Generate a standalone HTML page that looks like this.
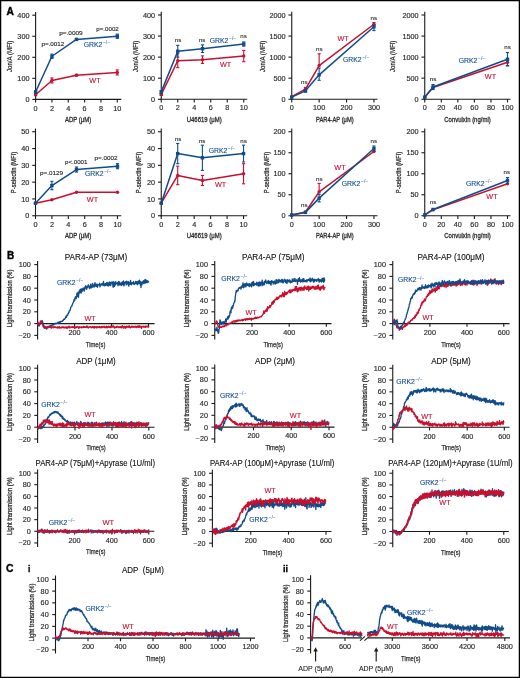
<!DOCTYPE html>
<html><head><meta charset="utf-8"><style>
html,body{margin:0;padding:0;background:#fff;}
svg{display:block;}
text{font-family:"Liberation Sans", sans-serif;}
</style></head><body>
<svg width="520" height="678" viewBox="0 0 520 678" style="will-change:transform">
<rect x="0" y="0" width="520" height="678" fill="#fff"/>
<line x1="35.6" y1="12" x2="35.6" y2="99.9" stroke="#1a1a1a" stroke-width="1.1"/>
<line x1="35.1" y1="99.4" x2="121.3" y2="99.4" stroke="#1a1a1a" stroke-width="1.1"/>
<line x1="32.3" y1="99.4" x2="35.6" y2="99.4" stroke="#1a1a1a" stroke-width="1.1"/>
<text x="29.5" y="102" font-size="6.4" fill="#2b2b2b" stroke="#2b2b2b" stroke-width="0.15" text-anchor="end" textLength="4.05" lengthAdjust="spacingAndGlyphs">0</text>
<line x1="32.3" y1="78.35" x2="35.6" y2="78.35" stroke="#1a1a1a" stroke-width="1.1"/>
<text x="29.5" y="80.95" font-size="6.4" fill="#2b2b2b" stroke="#2b2b2b" stroke-width="0.15" text-anchor="end" textLength="12.15" lengthAdjust="spacingAndGlyphs">100</text>
<line x1="32.3" y1="57.3" x2="35.6" y2="57.3" stroke="#1a1a1a" stroke-width="1.1"/>
<text x="29.5" y="59.9" font-size="6.4" fill="#2b2b2b" stroke="#2b2b2b" stroke-width="0.15" text-anchor="end" textLength="12.15" lengthAdjust="spacingAndGlyphs">200</text>
<line x1="32.3" y1="36.25" x2="35.6" y2="36.25" stroke="#1a1a1a" stroke-width="1.1"/>
<text x="29.5" y="38.85" font-size="6.4" fill="#2b2b2b" stroke="#2b2b2b" stroke-width="0.15" text-anchor="end" textLength="12.15" lengthAdjust="spacingAndGlyphs">300</text>
<line x1="32.3" y1="15.2" x2="35.6" y2="15.2" stroke="#1a1a1a" stroke-width="1.1"/>
<text x="29.5" y="17.8" font-size="6.4" fill="#2b2b2b" stroke="#2b2b2b" stroke-width="0.15" text-anchor="end" textLength="12.15" lengthAdjust="spacingAndGlyphs">400</text>
<line x1="35.6" y1="99.4" x2="35.6" y2="102.6" stroke="#1a1a1a" stroke-width="1.1"/>
<text x="35.6" y="110.6" font-size="6.4" fill="#2b2b2b" stroke="#2b2b2b" stroke-width="0.15" text-anchor="middle" textLength="4.05" lengthAdjust="spacingAndGlyphs">0</text>
<line x1="51.94" y1="99.4" x2="51.94" y2="102.6" stroke="#1a1a1a" stroke-width="1.1"/>
<text x="51.94" y="110.6" font-size="6.4" fill="#2b2b2b" stroke="#2b2b2b" stroke-width="0.15" text-anchor="middle" textLength="4.05" lengthAdjust="spacingAndGlyphs">2</text>
<line x1="68.28" y1="99.4" x2="68.28" y2="102.6" stroke="#1a1a1a" stroke-width="1.1"/>
<text x="68.28" y="110.6" font-size="6.4" fill="#2b2b2b" stroke="#2b2b2b" stroke-width="0.15" text-anchor="middle" textLength="4.05" lengthAdjust="spacingAndGlyphs">4</text>
<line x1="84.62" y1="99.4" x2="84.62" y2="102.6" stroke="#1a1a1a" stroke-width="1.1"/>
<text x="84.62" y="110.6" font-size="6.4" fill="#2b2b2b" stroke="#2b2b2b" stroke-width="0.15" text-anchor="middle" textLength="4.05" lengthAdjust="spacingAndGlyphs">6</text>
<line x1="100.96" y1="99.4" x2="100.96" y2="102.6" stroke="#1a1a1a" stroke-width="1.1"/>
<text x="100.96" y="110.6" font-size="6.4" fill="#2b2b2b" stroke="#2b2b2b" stroke-width="0.15" text-anchor="middle" textLength="4.05" lengthAdjust="spacingAndGlyphs">8</text>
<line x1="117.3" y1="99.4" x2="117.3" y2="102.6" stroke="#1a1a1a" stroke-width="1.1"/>
<text x="117.3" y="110.6" font-size="6.4" fill="#2b2b2b" stroke="#2b2b2b" stroke-width="0.15" text-anchor="middle" textLength="8.1" lengthAdjust="spacingAndGlyphs">10</text>
<text x="11.8" y="56.3" font-size="7.4" fill="#2b2b2b" text-anchor="middle" textLength="31.3" lengthAdjust="spacingAndGlyphs" transform="rotate(-90 11.8 56.3)" stroke="#2b2b2b" stroke-width="0.25">Jon/A (MFI)</text>
<text x="78.1" y="121.7" font-size="7.4" fill="#2b2b2b" text-anchor="middle" textLength="26.4" lengthAdjust="spacingAndGlyphs" stroke="#2b2b2b" stroke-width="0.3">ADP (&#956;M)</text>
<polyline points="35.6,94.77 51.94,80.46 76.45,75.19 117.3,72.46" fill="none" stroke="#c8102e" stroke-width="1.5" stroke-linejoin="round"/>
<line x1="35.6" y1="93.93" x2="35.6" y2="95.61" stroke="#c8102e" stroke-width="1.1"/>
<line x1="34" y1="93.93" x2="37.2" y2="93.93" stroke="#c8102e" stroke-width="1.1"/>
<line x1="34" y1="95.61" x2="37.2" y2="95.61" stroke="#c8102e" stroke-width="1.1"/>
<circle cx="35.6" cy="94.77" r="1.7" fill="#c8102e"/>
<line x1="51.94" y1="77.93" x2="51.94" y2="82.98" stroke="#c8102e" stroke-width="1.1"/>
<line x1="50.34" y1="77.93" x2="53.54" y2="77.93" stroke="#c8102e" stroke-width="1.1"/>
<line x1="50.34" y1="82.98" x2="53.54" y2="82.98" stroke="#c8102e" stroke-width="1.1"/>
<circle cx="51.94" cy="80.46" r="1.7" fill="#c8102e"/>
<line x1="76.45" y1="74.35" x2="76.45" y2="76.03" stroke="#c8102e" stroke-width="1.1"/>
<line x1="74.85" y1="74.35" x2="78.05" y2="74.35" stroke="#c8102e" stroke-width="1.1"/>
<line x1="74.85" y1="76.03" x2="78.05" y2="76.03" stroke="#c8102e" stroke-width="1.1"/>
<circle cx="76.45" cy="75.19" r="1.7" fill="#c8102e"/>
<line x1="117.3" y1="69.93" x2="117.3" y2="74.98" stroke="#c8102e" stroke-width="1.1"/>
<line x1="115.7" y1="69.93" x2="118.9" y2="69.93" stroke="#c8102e" stroke-width="1.1"/>
<line x1="115.7" y1="74.98" x2="118.9" y2="74.98" stroke="#c8102e" stroke-width="1.1"/>
<circle cx="117.3" cy="72.46" r="1.7" fill="#c8102e"/>
<polyline points="35.6,92.03 51.94,56.25 76.45,39.41 117.3,36.25" fill="none" stroke="#0f4c8c" stroke-width="1.5" stroke-linejoin="round"/>
<line x1="35.6" y1="90.77" x2="35.6" y2="93.3" stroke="#0f4c8c" stroke-width="1.1"/>
<line x1="34" y1="90.77" x2="37.2" y2="90.77" stroke="#0f4c8c" stroke-width="1.1"/>
<line x1="34" y1="93.3" x2="37.2" y2="93.3" stroke="#0f4c8c" stroke-width="1.1"/>
<rect x="33.9" y="90.33" width="3.4" height="3.4" fill="#0f4c8c"/>
<line x1="51.94" y1="54.14" x2="51.94" y2="58.35" stroke="#0f4c8c" stroke-width="1.1"/>
<line x1="50.34" y1="54.14" x2="53.54" y2="54.14" stroke="#0f4c8c" stroke-width="1.1"/>
<line x1="50.34" y1="58.35" x2="53.54" y2="58.35" stroke="#0f4c8c" stroke-width="1.1"/>
<rect x="50.24" y="54.55" width="3.4" height="3.4" fill="#0f4c8c"/>
<line x1="76.45" y1="38.57" x2="76.45" y2="40.25" stroke="#0f4c8c" stroke-width="1.1"/>
<line x1="74.85" y1="38.57" x2="78.05" y2="38.57" stroke="#0f4c8c" stroke-width="1.1"/>
<line x1="74.85" y1="40.25" x2="78.05" y2="40.25" stroke="#0f4c8c" stroke-width="1.1"/>
<rect x="74.75" y="37.71" width="3.4" height="3.4" fill="#0f4c8c"/>
<line x1="117.3" y1="34.15" x2="117.3" y2="38.36" stroke="#0f4c8c" stroke-width="1.1"/>
<line x1="115.7" y1="34.15" x2="118.9" y2="34.15" stroke="#0f4c8c" stroke-width="1.1"/>
<line x1="115.7" y1="38.36" x2="118.9" y2="38.36" stroke="#0f4c8c" stroke-width="1.1"/>
<rect x="115.6" y="34.55" width="3.4" height="3.4" fill="#0f4c8c"/>
<text x="41.4" y="46.1" font-size="5.9" fill="#222" textLength="23" lengthAdjust="spacingAndGlyphs" stroke="#222" stroke-width="0.12">p=.0012</text>
<text x="59.2" y="34.6" font-size="5.9" fill="#222" textLength="23.5" lengthAdjust="spacingAndGlyphs" stroke="#222" stroke-width="0.12">p=.0009</text>
<text x="96.3" y="30.8" font-size="5.9" fill="#222" textLength="22.5" lengthAdjust="spacingAndGlyphs" stroke="#222" stroke-width="0.12">p=.0002</text>
<text x="83.7" y="47.3" font-size="7" fill="#0f4c8c" stroke="#0f4c8c" stroke-width="0.12" textLength="18.6" lengthAdjust="spacingAndGlyphs">GRK2</text>
<text x="103" y="44.4" font-size="4.6" fill="#0f4c8c" textLength="7" lengthAdjust="spacingAndGlyphs">&#8722;/&#8722;</text>
<text x="89.3" y="82.9" font-size="7.2" fill="#c8102e" textLength="11.3" lengthAdjust="spacingAndGlyphs" stroke="#c8102e" stroke-width="0.12">WT</text>
<line x1="161.25" y1="11.8" x2="161.25" y2="99.75" stroke="#1a1a1a" stroke-width="1.1"/>
<line x1="160.75" y1="99.25" x2="247.2" y2="99.25" stroke="#1a1a1a" stroke-width="1.1"/>
<line x1="157.95" y1="99.25" x2="161.25" y2="99.25" stroke="#1a1a1a" stroke-width="1.1"/>
<text x="155.15" y="101.85" font-size="6.4" fill="#2b2b2b" stroke="#2b2b2b" stroke-width="0.15" text-anchor="end" textLength="4.05" lengthAdjust="spacingAndGlyphs">0</text>
<line x1="157.95" y1="78.19" x2="161.25" y2="78.19" stroke="#1a1a1a" stroke-width="1.1"/>
<text x="155.15" y="80.79" font-size="6.4" fill="#2b2b2b" stroke="#2b2b2b" stroke-width="0.15" text-anchor="end" textLength="12.15" lengthAdjust="spacingAndGlyphs">100</text>
<line x1="157.95" y1="57.12" x2="161.25" y2="57.12" stroke="#1a1a1a" stroke-width="1.1"/>
<text x="155.15" y="59.73" font-size="6.4" fill="#2b2b2b" stroke="#2b2b2b" stroke-width="0.15" text-anchor="end" textLength="12.15" lengthAdjust="spacingAndGlyphs">200</text>
<line x1="157.95" y1="36.06" x2="161.25" y2="36.06" stroke="#1a1a1a" stroke-width="1.1"/>
<text x="155.15" y="38.66" font-size="6.4" fill="#2b2b2b" stroke="#2b2b2b" stroke-width="0.15" text-anchor="end" textLength="12.15" lengthAdjust="spacingAndGlyphs">300</text>
<line x1="157.95" y1="15" x2="161.25" y2="15" stroke="#1a1a1a" stroke-width="1.1"/>
<text x="155.15" y="17.6" font-size="6.4" fill="#2b2b2b" stroke="#2b2b2b" stroke-width="0.15" text-anchor="end" textLength="12.15" lengthAdjust="spacingAndGlyphs">400</text>
<line x1="161.25" y1="99.25" x2="161.25" y2="102.45" stroke="#1a1a1a" stroke-width="1.1"/>
<text x="161.25" y="110.45" font-size="6.4" fill="#2b2b2b" stroke="#2b2b2b" stroke-width="0.15" text-anchor="middle" textLength="4.05" lengthAdjust="spacingAndGlyphs">0</text>
<line x1="177.75" y1="99.25" x2="177.75" y2="102.45" stroke="#1a1a1a" stroke-width="1.1"/>
<text x="177.75" y="110.45" font-size="6.4" fill="#2b2b2b" stroke="#2b2b2b" stroke-width="0.15" text-anchor="middle" textLength="4.05" lengthAdjust="spacingAndGlyphs">2</text>
<line x1="194.25" y1="99.25" x2="194.25" y2="102.45" stroke="#1a1a1a" stroke-width="1.1"/>
<text x="194.25" y="110.45" font-size="6.4" fill="#2b2b2b" stroke="#2b2b2b" stroke-width="0.15" text-anchor="middle" textLength="4.05" lengthAdjust="spacingAndGlyphs">4</text>
<line x1="210.75" y1="99.25" x2="210.75" y2="102.45" stroke="#1a1a1a" stroke-width="1.1"/>
<text x="210.75" y="110.45" font-size="6.4" fill="#2b2b2b" stroke="#2b2b2b" stroke-width="0.15" text-anchor="middle" textLength="4.05" lengthAdjust="spacingAndGlyphs">6</text>
<line x1="227.25" y1="99.25" x2="227.25" y2="102.45" stroke="#1a1a1a" stroke-width="1.1"/>
<text x="227.25" y="110.45" font-size="6.4" fill="#2b2b2b" stroke="#2b2b2b" stroke-width="0.15" text-anchor="middle" textLength="4.05" lengthAdjust="spacingAndGlyphs">8</text>
<line x1="243.75" y1="99.25" x2="243.75" y2="102.45" stroke="#1a1a1a" stroke-width="1.1"/>
<text x="243.75" y="110.45" font-size="6.4" fill="#2b2b2b" stroke="#2b2b2b" stroke-width="0.15" text-anchor="middle" textLength="8.1" lengthAdjust="spacingAndGlyphs">10</text>
<text x="138.2" y="56.3" font-size="7.4" fill="#2b2b2b" text-anchor="middle" textLength="31.3" lengthAdjust="spacingAndGlyphs" transform="rotate(-90 138.2 56.3)" stroke="#2b2b2b" stroke-width="0.25">Jon/A (MFI)</text>
<text x="204.25" y="121.55" font-size="7.4" fill="#2b2b2b" text-anchor="middle" textLength="35.1" lengthAdjust="spacingAndGlyphs" stroke="#2b2b2b" stroke-width="0.3">U46619 (&#956;M)</text>
<polyline points="161.25,94.62 177.75,60.71 202.5,59.65 243.75,56.07" fill="none" stroke="#c8102e" stroke-width="1.5" stroke-linejoin="round"/>
<line x1="161.25" y1="93.77" x2="161.25" y2="95.46" stroke="#c8102e" stroke-width="1.1"/>
<line x1="159.65" y1="93.77" x2="162.85" y2="93.77" stroke="#c8102e" stroke-width="1.1"/>
<line x1="159.65" y1="95.46" x2="162.85" y2="95.46" stroke="#c8102e" stroke-width="1.1"/>
<circle cx="161.25" cy="94.62" r="1.7" fill="#c8102e"/>
<line x1="177.75" y1="53.76" x2="177.75" y2="67.66" stroke="#c8102e" stroke-width="1.1"/>
<line x1="176.15" y1="53.76" x2="179.35" y2="53.76" stroke="#c8102e" stroke-width="1.1"/>
<line x1="176.15" y1="67.66" x2="179.35" y2="67.66" stroke="#c8102e" stroke-width="1.1"/>
<circle cx="177.75" cy="60.71" r="1.7" fill="#c8102e"/>
<line x1="202.5" y1="55.86" x2="202.5" y2="63.44" stroke="#c8102e" stroke-width="1.1"/>
<line x1="200.9" y1="55.86" x2="204.1" y2="55.86" stroke="#c8102e" stroke-width="1.1"/>
<line x1="200.9" y1="63.44" x2="204.1" y2="63.44" stroke="#c8102e" stroke-width="1.1"/>
<circle cx="202.5" cy="59.65" r="1.7" fill="#c8102e"/>
<line x1="243.75" y1="50.38" x2="243.75" y2="61.76" stroke="#c8102e" stroke-width="1.1"/>
<line x1="242.15" y1="50.38" x2="245.35" y2="50.38" stroke="#c8102e" stroke-width="1.1"/>
<line x1="242.15" y1="61.76" x2="245.35" y2="61.76" stroke="#c8102e" stroke-width="1.1"/>
<circle cx="243.75" cy="56.07" r="1.7" fill="#c8102e"/>
<polyline points="161.25,91.88 177.75,51.23 202.5,48.7 243.75,44.07" fill="none" stroke="#0f4c8c" stroke-width="1.5" stroke-linejoin="round"/>
<line x1="161.25" y1="90.61" x2="161.25" y2="93.14" stroke="#0f4c8c" stroke-width="1.1"/>
<line x1="159.65" y1="90.61" x2="162.85" y2="90.61" stroke="#0f4c8c" stroke-width="1.1"/>
<line x1="159.65" y1="93.14" x2="162.85" y2="93.14" stroke="#0f4c8c" stroke-width="1.1"/>
<rect x="159.55" y="90.18" width="3.4" height="3.4" fill="#0f4c8c"/>
<line x1="177.75" y1="45.33" x2="177.75" y2="57.12" stroke="#0f4c8c" stroke-width="1.1"/>
<line x1="176.15" y1="45.33" x2="179.35" y2="45.33" stroke="#0f4c8c" stroke-width="1.1"/>
<line x1="176.15" y1="57.12" x2="179.35" y2="57.12" stroke="#0f4c8c" stroke-width="1.1"/>
<rect x="176.05" y="49.53" width="3.4" height="3.4" fill="#0f4c8c"/>
<line x1="202.5" y1="44.91" x2="202.5" y2="52.49" stroke="#0f4c8c" stroke-width="1.1"/>
<line x1="200.9" y1="44.91" x2="204.1" y2="44.91" stroke="#0f4c8c" stroke-width="1.1"/>
<line x1="200.9" y1="52.49" x2="204.1" y2="52.49" stroke="#0f4c8c" stroke-width="1.1"/>
<rect x="200.8" y="47" width="3.4" height="3.4" fill="#0f4c8c"/>
<line x1="243.75" y1="41.96" x2="243.75" y2="46.17" stroke="#0f4c8c" stroke-width="1.1"/>
<line x1="242.15" y1="41.96" x2="245.35" y2="41.96" stroke="#0f4c8c" stroke-width="1.1"/>
<line x1="242.15" y1="46.17" x2="245.35" y2="46.17" stroke="#0f4c8c" stroke-width="1.1"/>
<rect x="242.05" y="42.37" width="3.4" height="3.4" fill="#0f4c8c"/>
<text x="178" y="41.8" font-size="6.2" fill="#222" text-anchor="middle" textLength="6.5" lengthAdjust="spacingAndGlyphs" stroke="#222" stroke-width="0.1">ns</text>
<text x="202.2" y="41.8" font-size="6.2" fill="#222" text-anchor="middle" textLength="6.5" lengthAdjust="spacingAndGlyphs" stroke="#222" stroke-width="0.1">ns</text>
<text x="243.6" y="38.2" font-size="6.2" fill="#222" text-anchor="middle" textLength="6.5" lengthAdjust="spacingAndGlyphs" stroke="#222" stroke-width="0.1">ns</text>
<text x="209.8" y="42.5" font-size="7" fill="#0f4c8c" stroke="#0f4c8c" stroke-width="0.12" textLength="18.6" lengthAdjust="spacingAndGlyphs">GRK2</text>
<text x="229.1" y="39.6" font-size="4.6" fill="#0f4c8c" textLength="7" lengthAdjust="spacingAndGlyphs">&#8722;/&#8722;</text>
<text x="220" y="66.8" font-size="7.2" fill="#c8102e" textLength="11.3" lengthAdjust="spacingAndGlyphs" stroke="#c8102e" stroke-width="0.12">WT</text>
<line x1="291.75" y1="11.8" x2="291.75" y2="99.75" stroke="#1a1a1a" stroke-width="1.1"/>
<line x1="291.25" y1="99.25" x2="377.5" y2="99.25" stroke="#1a1a1a" stroke-width="1.1"/>
<line x1="288.45" y1="99.25" x2="291.75" y2="99.25" stroke="#1a1a1a" stroke-width="1.1"/>
<text x="285.65" y="101.85" font-size="6.4" fill="#2b2b2b" stroke="#2b2b2b" stroke-width="0.15" text-anchor="end" textLength="4.05" lengthAdjust="spacingAndGlyphs">0</text>
<line x1="288.45" y1="78.19" x2="291.75" y2="78.19" stroke="#1a1a1a" stroke-width="1.1"/>
<text x="285.65" y="80.79" font-size="6.4" fill="#2b2b2b" stroke="#2b2b2b" stroke-width="0.15" text-anchor="end" textLength="12.15" lengthAdjust="spacingAndGlyphs">500</text>
<line x1="288.45" y1="57.12" x2="291.75" y2="57.12" stroke="#1a1a1a" stroke-width="1.1"/>
<text x="285.65" y="59.73" font-size="6.4" fill="#2b2b2b" stroke="#2b2b2b" stroke-width="0.15" text-anchor="end" textLength="16.2" lengthAdjust="spacingAndGlyphs">1000</text>
<line x1="288.45" y1="36.06" x2="291.75" y2="36.06" stroke="#1a1a1a" stroke-width="1.1"/>
<text x="285.65" y="38.66" font-size="6.4" fill="#2b2b2b" stroke="#2b2b2b" stroke-width="0.15" text-anchor="end" textLength="16.2" lengthAdjust="spacingAndGlyphs">1500</text>
<line x1="288.45" y1="15" x2="291.75" y2="15" stroke="#1a1a1a" stroke-width="1.1"/>
<text x="285.65" y="17.6" font-size="6.4" fill="#2b2b2b" stroke="#2b2b2b" stroke-width="0.15" text-anchor="end" textLength="16.2" lengthAdjust="spacingAndGlyphs">2000</text>
<line x1="291.75" y1="99.25" x2="291.75" y2="102.45" stroke="#1a1a1a" stroke-width="1.1"/>
<text x="291.75" y="110.45" font-size="6.4" fill="#2b2b2b" stroke="#2b2b2b" stroke-width="0.15" text-anchor="middle" textLength="4.05" lengthAdjust="spacingAndGlyphs">0</text>
<line x1="319.15" y1="99.25" x2="319.15" y2="102.45" stroke="#1a1a1a" stroke-width="1.1"/>
<text x="319.15" y="110.45" font-size="6.4" fill="#2b2b2b" stroke="#2b2b2b" stroke-width="0.15" text-anchor="middle" textLength="12.15" lengthAdjust="spacingAndGlyphs">100</text>
<line x1="346.55" y1="99.25" x2="346.55" y2="102.45" stroke="#1a1a1a" stroke-width="1.1"/>
<text x="346.55" y="110.45" font-size="6.4" fill="#2b2b2b" stroke="#2b2b2b" stroke-width="0.15" text-anchor="middle" textLength="12.15" lengthAdjust="spacingAndGlyphs">200</text>
<line x1="373.95" y1="99.25" x2="373.95" y2="102.45" stroke="#1a1a1a" stroke-width="1.1"/>
<text x="373.95" y="110.45" font-size="6.4" fill="#2b2b2b" stroke="#2b2b2b" stroke-width="0.15" text-anchor="middle" textLength="12.15" lengthAdjust="spacingAndGlyphs">300</text>
<text x="264.6" y="56.3" font-size="7.4" fill="#2b2b2b" text-anchor="middle" textLength="31.3" lengthAdjust="spacingAndGlyphs" transform="rotate(-90 264.6 56.3)" stroke="#2b2b2b" stroke-width="0.25">Jon/A (MFI)</text>
<text x="334.8" y="121.55" font-size="7.4" fill="#2b2b2b" text-anchor="middle" textLength="37.6" lengthAdjust="spacingAndGlyphs" stroke="#2b2b2b" stroke-width="0.3">PAR4-AP (&#956;M)</text>
<polyline points="291.75,96.72 305.45,89.14 319.15,65.55 373.95,24.27" fill="none" stroke="#c8102e" stroke-width="1.5" stroke-linejoin="round"/>
<circle cx="291.75" cy="96.72" r="1.7" fill="#c8102e"/>
<line x1="305.45" y1="87.45" x2="305.45" y2="90.83" stroke="#c8102e" stroke-width="1.1"/>
<line x1="303.85" y1="87.45" x2="307.05" y2="87.45" stroke="#c8102e" stroke-width="1.1"/>
<line x1="303.85" y1="90.83" x2="307.05" y2="90.83" stroke="#c8102e" stroke-width="1.1"/>
<circle cx="305.45" cy="89.14" r="1.7" fill="#c8102e"/>
<line x1="319.15" y1="53.76" x2="319.15" y2="65.55" stroke="#c8102e" stroke-width="1.1"/>
<line x1="317.55" y1="53.76" x2="320.75" y2="53.76" stroke="#c8102e" stroke-width="1.1"/>
<circle cx="319.15" cy="65.55" r="1.7" fill="#c8102e"/>
<line x1="373.95" y1="22.58" x2="373.95" y2="24.27" stroke="#c8102e" stroke-width="1.1"/>
<line x1="372.35" y1="22.58" x2="375.55" y2="22.58" stroke="#c8102e" stroke-width="1.1"/>
<circle cx="373.95" cy="24.27" r="1.7" fill="#c8102e"/>
<polyline points="291.75,97.14 305.45,90.83 319.15,74.82 373.95,26.8" fill="none" stroke="#0f4c8c" stroke-width="1.5" stroke-linejoin="round"/>
<rect x="290.05" y="95.44" width="3.4" height="3.4" fill="#0f4c8c"/>
<line x1="305.45" y1="89.56" x2="305.45" y2="92.09" stroke="#0f4c8c" stroke-width="1.1"/>
<line x1="303.85" y1="89.56" x2="307.05" y2="89.56" stroke="#0f4c8c" stroke-width="1.1"/>
<line x1="303.85" y1="92.09" x2="307.05" y2="92.09" stroke="#0f4c8c" stroke-width="1.1"/>
<rect x="303.75" y="89.12" width="3.4" height="3.4" fill="#0f4c8c"/>
<line x1="319.15" y1="68.08" x2="319.15" y2="80.29" stroke="#0f4c8c" stroke-width="1.1"/>
<line x1="317.55" y1="68.08" x2="320.75" y2="68.08" stroke="#0f4c8c" stroke-width="1.1"/>
<line x1="317.55" y1="80.29" x2="320.75" y2="80.29" stroke="#0f4c8c" stroke-width="1.1"/>
<rect x="317.45" y="73.12" width="3.4" height="3.4" fill="#0f4c8c"/>
<line x1="373.95" y1="25.11" x2="373.95" y2="30.59" stroke="#0f4c8c" stroke-width="1.1"/>
<line x1="372.35" y1="25.11" x2="375.55" y2="25.11" stroke="#0f4c8c" stroke-width="1.1"/>
<line x1="372.35" y1="30.59" x2="375.55" y2="30.59" stroke="#0f4c8c" stroke-width="1.1"/>
<rect x="372.25" y="25.1" width="3.4" height="3.4" fill="#0f4c8c"/>
<text x="304.3" y="84.3" font-size="6.2" fill="#222" text-anchor="middle" textLength="6.5" lengthAdjust="spacingAndGlyphs" stroke="#222" stroke-width="0.1">ns</text>
<text x="319.3" y="51.3" font-size="6.2" fill="#222" text-anchor="middle" textLength="6.5" lengthAdjust="spacingAndGlyphs" stroke="#222" stroke-width="0.1">ns</text>
<text x="373.8" y="19.8" font-size="6.2" fill="#222" text-anchor="middle" textLength="6.5" lengthAdjust="spacingAndGlyphs" stroke="#222" stroke-width="0.1">ns</text>
<text x="337.5" y="40.6" font-size="7.2" fill="#c8102e" textLength="11.3" lengthAdjust="spacingAndGlyphs" stroke="#c8102e" stroke-width="0.12">WT</text>
<text x="343" y="62.2" font-size="7" fill="#0f4c8c" stroke="#0f4c8c" stroke-width="0.12" textLength="18.6" lengthAdjust="spacingAndGlyphs">GRK2</text>
<text x="362.3" y="59.3" font-size="4.6" fill="#0f4c8c" textLength="7" lengthAdjust="spacingAndGlyphs">&#8722;/&#8722;</text>
<line x1="424.75" y1="11.8" x2="424.75" y2="99.75" stroke="#1a1a1a" stroke-width="1.1"/>
<line x1="424.25" y1="99.25" x2="510.5" y2="99.25" stroke="#1a1a1a" stroke-width="1.1"/>
<line x1="421.45" y1="99.25" x2="424.75" y2="99.25" stroke="#1a1a1a" stroke-width="1.1"/>
<text x="418.65" y="101.85" font-size="6.4" fill="#2b2b2b" stroke="#2b2b2b" stroke-width="0.15" text-anchor="end" textLength="4.05" lengthAdjust="spacingAndGlyphs">0</text>
<line x1="421.45" y1="78.19" x2="424.75" y2="78.19" stroke="#1a1a1a" stroke-width="1.1"/>
<text x="418.65" y="80.79" font-size="6.4" fill="#2b2b2b" stroke="#2b2b2b" stroke-width="0.15" text-anchor="end" textLength="12.15" lengthAdjust="spacingAndGlyphs">500</text>
<line x1="421.45" y1="57.12" x2="424.75" y2="57.12" stroke="#1a1a1a" stroke-width="1.1"/>
<text x="418.65" y="59.73" font-size="6.4" fill="#2b2b2b" stroke="#2b2b2b" stroke-width="0.15" text-anchor="end" textLength="16.2" lengthAdjust="spacingAndGlyphs">1000</text>
<line x1="421.45" y1="36.06" x2="424.75" y2="36.06" stroke="#1a1a1a" stroke-width="1.1"/>
<text x="418.65" y="38.66" font-size="6.4" fill="#2b2b2b" stroke="#2b2b2b" stroke-width="0.15" text-anchor="end" textLength="16.2" lengthAdjust="spacingAndGlyphs">1500</text>
<line x1="421.45" y1="15" x2="424.75" y2="15" stroke="#1a1a1a" stroke-width="1.1"/>
<text x="418.65" y="17.6" font-size="6.4" fill="#2b2b2b" stroke="#2b2b2b" stroke-width="0.15" text-anchor="end" textLength="16.2" lengthAdjust="spacingAndGlyphs">2000</text>
<line x1="424.75" y1="99.25" x2="424.75" y2="102.45" stroke="#1a1a1a" stroke-width="1.1"/>
<text x="424.75" y="110.45" font-size="6.4" fill="#2b2b2b" stroke="#2b2b2b" stroke-width="0.15" text-anchor="middle" textLength="4.05" lengthAdjust="spacingAndGlyphs">0</text>
<line x1="441.3" y1="99.25" x2="441.3" y2="102.45" stroke="#1a1a1a" stroke-width="1.1"/>
<text x="441.3" y="110.45" font-size="6.4" fill="#2b2b2b" stroke="#2b2b2b" stroke-width="0.15" text-anchor="middle" textLength="8.1" lengthAdjust="spacingAndGlyphs">20</text>
<line x1="457.85" y1="99.25" x2="457.85" y2="102.45" stroke="#1a1a1a" stroke-width="1.1"/>
<text x="457.85" y="110.45" font-size="6.4" fill="#2b2b2b" stroke="#2b2b2b" stroke-width="0.15" text-anchor="middle" textLength="8.1" lengthAdjust="spacingAndGlyphs">40</text>
<line x1="474.4" y1="99.25" x2="474.4" y2="102.45" stroke="#1a1a1a" stroke-width="1.1"/>
<text x="474.4" y="110.45" font-size="6.4" fill="#2b2b2b" stroke="#2b2b2b" stroke-width="0.15" text-anchor="middle" textLength="8.1" lengthAdjust="spacingAndGlyphs">60</text>
<line x1="490.95" y1="99.25" x2="490.95" y2="102.45" stroke="#1a1a1a" stroke-width="1.1"/>
<text x="490.95" y="110.45" font-size="6.4" fill="#2b2b2b" stroke="#2b2b2b" stroke-width="0.15" text-anchor="middle" textLength="8.1" lengthAdjust="spacingAndGlyphs">80</text>
<line x1="507.5" y1="99.25" x2="507.5" y2="102.45" stroke="#1a1a1a" stroke-width="1.1"/>
<text x="507.5" y="110.45" font-size="6.4" fill="#2b2b2b" stroke="#2b2b2b" stroke-width="0.15" text-anchor="middle" textLength="12.15" lengthAdjust="spacingAndGlyphs">100</text>
<text x="394.9" y="56.3" font-size="7.4" fill="#2b2b2b" text-anchor="middle" textLength="31.3" lengthAdjust="spacingAndGlyphs" transform="rotate(-90 394.9 56.3)" stroke="#2b2b2b" stroke-width="0.25">Jon/A (MFI)</text>
<text x="467.5" y="121.55" font-size="7.4" fill="#2b2b2b" text-anchor="middle" textLength="46.4" lengthAdjust="spacingAndGlyphs" stroke="#2b2b2b" stroke-width="0.3">Convulxin (ng/ml)</text>
<polyline points="424.75,97.14 433.02,87.45 507.5,62.18" fill="none" stroke="#c8102e" stroke-width="1.5" stroke-linejoin="round"/>
<circle cx="424.75" cy="97.14" r="1.7" fill="#c8102e"/>
<circle cx="433.02" cy="87.45" r="1.7" fill="#c8102e"/>
<line x1="507.5" y1="58.81" x2="507.5" y2="65.55" stroke="#c8102e" stroke-width="1.1"/>
<line x1="505.9" y1="58.81" x2="509.1" y2="58.81" stroke="#c8102e" stroke-width="1.1"/>
<line x1="505.9" y1="65.55" x2="509.1" y2="65.55" stroke="#c8102e" stroke-width="1.1"/>
<circle cx="507.5" cy="62.18" r="1.7" fill="#c8102e"/>
<polyline points="424.75,97.14 433.02,87.03 507.5,59.23" fill="none" stroke="#0f4c8c" stroke-width="1.5" stroke-linejoin="round"/>
<rect x="423.05" y="95.44" width="3.4" height="3.4" fill="#0f4c8c"/>
<line x1="433.02" y1="84.51" x2="433.02" y2="89.56" stroke="#0f4c8c" stroke-width="1.1"/>
<line x1="431.42" y1="84.51" x2="434.62" y2="84.51" stroke="#0f4c8c" stroke-width="1.1"/>
<line x1="431.42" y1="89.56" x2="434.62" y2="89.56" stroke="#0f4c8c" stroke-width="1.1"/>
<rect x="431.32" y="85.33" width="3.4" height="3.4" fill="#0f4c8c"/>
<line x1="507.5" y1="52.49" x2="507.5" y2="65.97" stroke="#0f4c8c" stroke-width="1.1"/>
<line x1="505.9" y1="52.49" x2="509.1" y2="52.49" stroke="#0f4c8c" stroke-width="1.1"/>
<line x1="505.9" y1="65.97" x2="509.1" y2="65.97" stroke="#0f4c8c" stroke-width="1.1"/>
<rect x="505.8" y="57.53" width="3.4" height="3.4" fill="#0f4c8c"/>
<text x="433" y="81.3" font-size="6.2" fill="#222" text-anchor="middle" textLength="6.5" lengthAdjust="spacingAndGlyphs" stroke="#222" stroke-width="0.1">ns</text>
<text x="507.5" y="49.3" font-size="6.2" fill="#222" text-anchor="middle" textLength="6.5" lengthAdjust="spacingAndGlyphs" stroke="#222" stroke-width="0.1">ns</text>
<text x="458.8" y="63.3" font-size="7" fill="#0f4c8c" stroke="#0f4c8c" stroke-width="0.12" textLength="18.6" lengthAdjust="spacingAndGlyphs">GRK2</text>
<text x="478.1" y="60.4" font-size="4.6" fill="#0f4c8c" textLength="7" lengthAdjust="spacingAndGlyphs">&#8722;/&#8722;</text>
<text x="484.8" y="79" font-size="7.2" fill="#c8102e" textLength="11.3" lengthAdjust="spacingAndGlyphs" stroke="#c8102e" stroke-width="0.12">WT</text>
<line x1="35.5" y1="128.55" x2="35.5" y2="216.25" stroke="#1a1a1a" stroke-width="1.1"/>
<line x1="35" y1="215.75" x2="121.3" y2="215.75" stroke="#1a1a1a" stroke-width="1.1"/>
<line x1="32.2" y1="215.75" x2="35.5" y2="215.75" stroke="#1a1a1a" stroke-width="1.1"/>
<text x="29.4" y="218.35" font-size="6.4" fill="#2b2b2b" stroke="#2b2b2b" stroke-width="0.15" text-anchor="end" textLength="4.05" lengthAdjust="spacingAndGlyphs">0</text>
<line x1="32.2" y1="198.95" x2="35.5" y2="198.95" stroke="#1a1a1a" stroke-width="1.1"/>
<text x="29.4" y="201.55" font-size="6.4" fill="#2b2b2b" stroke="#2b2b2b" stroke-width="0.15" text-anchor="end" textLength="8.1" lengthAdjust="spacingAndGlyphs">10</text>
<line x1="32.2" y1="182.15" x2="35.5" y2="182.15" stroke="#1a1a1a" stroke-width="1.1"/>
<text x="29.4" y="184.75" font-size="6.4" fill="#2b2b2b" stroke="#2b2b2b" stroke-width="0.15" text-anchor="end" textLength="8.1" lengthAdjust="spacingAndGlyphs">20</text>
<line x1="32.2" y1="165.35" x2="35.5" y2="165.35" stroke="#1a1a1a" stroke-width="1.1"/>
<text x="29.4" y="167.95" font-size="6.4" fill="#2b2b2b" stroke="#2b2b2b" stroke-width="0.15" text-anchor="end" textLength="8.1" lengthAdjust="spacingAndGlyphs">30</text>
<line x1="32.2" y1="148.55" x2="35.5" y2="148.55" stroke="#1a1a1a" stroke-width="1.1"/>
<text x="29.4" y="151.15" font-size="6.4" fill="#2b2b2b" stroke="#2b2b2b" stroke-width="0.15" text-anchor="end" textLength="8.1" lengthAdjust="spacingAndGlyphs">40</text>
<line x1="32.2" y1="131.75" x2="35.5" y2="131.75" stroke="#1a1a1a" stroke-width="1.1"/>
<text x="29.4" y="134.35" font-size="6.4" fill="#2b2b2b" stroke="#2b2b2b" stroke-width="0.15" text-anchor="end" textLength="8.1" lengthAdjust="spacingAndGlyphs">50</text>
<line x1="35.5" y1="215.75" x2="35.5" y2="218.95" stroke="#1a1a1a" stroke-width="1.1"/>
<text x="35.5" y="226.95" font-size="6.4" fill="#2b2b2b" stroke="#2b2b2b" stroke-width="0.15" text-anchor="middle" textLength="4.05" lengthAdjust="spacingAndGlyphs">0</text>
<line x1="51.9" y1="215.75" x2="51.9" y2="218.95" stroke="#1a1a1a" stroke-width="1.1"/>
<text x="51.9" y="226.95" font-size="6.4" fill="#2b2b2b" stroke="#2b2b2b" stroke-width="0.15" text-anchor="middle" textLength="4.05" lengthAdjust="spacingAndGlyphs">2</text>
<line x1="68.3" y1="215.75" x2="68.3" y2="218.95" stroke="#1a1a1a" stroke-width="1.1"/>
<text x="68.3" y="226.95" font-size="6.4" fill="#2b2b2b" stroke="#2b2b2b" stroke-width="0.15" text-anchor="middle" textLength="4.05" lengthAdjust="spacingAndGlyphs">4</text>
<line x1="84.7" y1="215.75" x2="84.7" y2="218.95" stroke="#1a1a1a" stroke-width="1.1"/>
<text x="84.7" y="226.95" font-size="6.4" fill="#2b2b2b" stroke="#2b2b2b" stroke-width="0.15" text-anchor="middle" textLength="4.05" lengthAdjust="spacingAndGlyphs">6</text>
<line x1="101.1" y1="215.75" x2="101.1" y2="218.95" stroke="#1a1a1a" stroke-width="1.1"/>
<text x="101.1" y="226.95" font-size="6.4" fill="#2b2b2b" stroke="#2b2b2b" stroke-width="0.15" text-anchor="middle" textLength="4.05" lengthAdjust="spacingAndGlyphs">8</text>
<line x1="117.5" y1="215.75" x2="117.5" y2="218.95" stroke="#1a1a1a" stroke-width="1.1"/>
<text x="117.5" y="226.95" font-size="6.4" fill="#2b2b2b" stroke="#2b2b2b" stroke-width="0.15" text-anchor="middle" textLength="8.1" lengthAdjust="spacingAndGlyphs">10</text>
<text x="15.6" y="172.5" font-size="7.4" fill="#2b2b2b" text-anchor="middle" textLength="41.3" lengthAdjust="spacingAndGlyphs" transform="rotate(-90 15.6 172.5)" stroke="#2b2b2b" stroke-width="0.25">P-selectin (MFI)</text>
<text x="78.1" y="238.05" font-size="7.4" fill="#2b2b2b" text-anchor="middle" textLength="26.4" lengthAdjust="spacingAndGlyphs" stroke="#2b2b2b" stroke-width="0.3">ADP (&#956;M)</text>
<polyline points="35.5,203.15 51.9,199.79 76.5,192.23 117.5,192.23" fill="none" stroke="#c8102e" stroke-width="1.5" stroke-linejoin="round"/>
<circle cx="35.5" cy="203.15" r="1.7" fill="#c8102e"/>
<circle cx="51.9" cy="199.79" r="1.7" fill="#c8102e"/>
<circle cx="76.5" cy="192.23" r="1.7" fill="#c8102e"/>
<circle cx="117.5" cy="192.23" r="1.7" fill="#c8102e"/>
<polyline points="35.5,203.15 51.9,185.51 76.5,169.55 117.5,166.19" fill="none" stroke="#0f4c8c" stroke-width="1.5" stroke-linejoin="round"/>
<rect x="33.8" y="201.45" width="3.4" height="3.4" fill="#0f4c8c"/>
<line x1="51.9" y1="181.31" x2="51.9" y2="189.71" stroke="#0f4c8c" stroke-width="1.1"/>
<line x1="50.3" y1="181.31" x2="53.5" y2="181.31" stroke="#0f4c8c" stroke-width="1.1"/>
<line x1="50.3" y1="189.71" x2="53.5" y2="189.71" stroke="#0f4c8c" stroke-width="1.1"/>
<rect x="50.2" y="183.81" width="3.4" height="3.4" fill="#0f4c8c"/>
<line x1="76.5" y1="167.03" x2="76.5" y2="172.07" stroke="#0f4c8c" stroke-width="1.1"/>
<line x1="74.9" y1="167.03" x2="78.1" y2="167.03" stroke="#0f4c8c" stroke-width="1.1"/>
<line x1="74.9" y1="172.07" x2="78.1" y2="172.07" stroke="#0f4c8c" stroke-width="1.1"/>
<rect x="74.8" y="167.85" width="3.4" height="3.4" fill="#0f4c8c"/>
<line x1="117.5" y1="163.67" x2="117.5" y2="168.71" stroke="#0f4c8c" stroke-width="1.1"/>
<line x1="115.9" y1="163.67" x2="119.1" y2="163.67" stroke="#0f4c8c" stroke-width="1.1"/>
<line x1="115.9" y1="168.71" x2="119.1" y2="168.71" stroke="#0f4c8c" stroke-width="1.1"/>
<rect x="115.8" y="164.49" width="3.4" height="3.4" fill="#0f4c8c"/>
<text x="40" y="175.3" font-size="5.9" fill="#222" textLength="23" lengthAdjust="spacingAndGlyphs" stroke="#222" stroke-width="0.12">p=.0129</text>
<text x="65" y="163.8" font-size="5.9" fill="#222" textLength="22.5" lengthAdjust="spacingAndGlyphs" stroke="#222" stroke-width="0.12">p&lt;.0001</text>
<text x="94.5" y="160.3" font-size="5.9" fill="#222" textLength="23" lengthAdjust="spacingAndGlyphs" stroke="#222" stroke-width="0.12">p=.0002</text>
<text x="85" y="176" font-size="7" fill="#0f4c8c" stroke="#0f4c8c" stroke-width="0.12" textLength="18.6" lengthAdjust="spacingAndGlyphs">GRK2</text>
<text x="104.3" y="173.1" font-size="4.6" fill="#0f4c8c" textLength="7" lengthAdjust="spacingAndGlyphs">&#8722;/&#8722;</text>
<text x="86.8" y="201.8" font-size="7.2" fill="#c8102e" textLength="11.3" lengthAdjust="spacingAndGlyphs" stroke="#c8102e" stroke-width="0.12">WT</text>
<line x1="161.25" y1="128.55" x2="161.25" y2="216.25" stroke="#1a1a1a" stroke-width="1.1"/>
<line x1="160.75" y1="215.75" x2="247.2" y2="215.75" stroke="#1a1a1a" stroke-width="1.1"/>
<line x1="157.95" y1="215.75" x2="161.25" y2="215.75" stroke="#1a1a1a" stroke-width="1.1"/>
<text x="155.15" y="218.35" font-size="6.4" fill="#2b2b2b" stroke="#2b2b2b" stroke-width="0.15" text-anchor="end" textLength="4.05" lengthAdjust="spacingAndGlyphs">0</text>
<line x1="157.95" y1="198.95" x2="161.25" y2="198.95" stroke="#1a1a1a" stroke-width="1.1"/>
<text x="155.15" y="201.55" font-size="6.4" fill="#2b2b2b" stroke="#2b2b2b" stroke-width="0.15" text-anchor="end" textLength="8.1" lengthAdjust="spacingAndGlyphs">10</text>
<line x1="157.95" y1="182.15" x2="161.25" y2="182.15" stroke="#1a1a1a" stroke-width="1.1"/>
<text x="155.15" y="184.75" font-size="6.4" fill="#2b2b2b" stroke="#2b2b2b" stroke-width="0.15" text-anchor="end" textLength="8.1" lengthAdjust="spacingAndGlyphs">20</text>
<line x1="157.95" y1="165.35" x2="161.25" y2="165.35" stroke="#1a1a1a" stroke-width="1.1"/>
<text x="155.15" y="167.95" font-size="6.4" fill="#2b2b2b" stroke="#2b2b2b" stroke-width="0.15" text-anchor="end" textLength="8.1" lengthAdjust="spacingAndGlyphs">30</text>
<line x1="157.95" y1="148.55" x2="161.25" y2="148.55" stroke="#1a1a1a" stroke-width="1.1"/>
<text x="155.15" y="151.15" font-size="6.4" fill="#2b2b2b" stroke="#2b2b2b" stroke-width="0.15" text-anchor="end" textLength="8.1" lengthAdjust="spacingAndGlyphs">40</text>
<line x1="157.95" y1="131.75" x2="161.25" y2="131.75" stroke="#1a1a1a" stroke-width="1.1"/>
<text x="155.15" y="134.35" font-size="6.4" fill="#2b2b2b" stroke="#2b2b2b" stroke-width="0.15" text-anchor="end" textLength="8.1" lengthAdjust="spacingAndGlyphs">50</text>
<line x1="161.25" y1="215.75" x2="161.25" y2="218.95" stroke="#1a1a1a" stroke-width="1.1"/>
<text x="161.25" y="226.95" font-size="6.4" fill="#2b2b2b" stroke="#2b2b2b" stroke-width="0.15" text-anchor="middle" textLength="4.05" lengthAdjust="spacingAndGlyphs">0</text>
<line x1="177.71" y1="215.75" x2="177.71" y2="218.95" stroke="#1a1a1a" stroke-width="1.1"/>
<text x="177.71" y="226.95" font-size="6.4" fill="#2b2b2b" stroke="#2b2b2b" stroke-width="0.15" text-anchor="middle" textLength="4.05" lengthAdjust="spacingAndGlyphs">2</text>
<line x1="194.17" y1="215.75" x2="194.17" y2="218.95" stroke="#1a1a1a" stroke-width="1.1"/>
<text x="194.17" y="226.95" font-size="6.4" fill="#2b2b2b" stroke="#2b2b2b" stroke-width="0.15" text-anchor="middle" textLength="4.05" lengthAdjust="spacingAndGlyphs">4</text>
<line x1="210.63" y1="215.75" x2="210.63" y2="218.95" stroke="#1a1a1a" stroke-width="1.1"/>
<text x="210.63" y="226.95" font-size="6.4" fill="#2b2b2b" stroke="#2b2b2b" stroke-width="0.15" text-anchor="middle" textLength="4.05" lengthAdjust="spacingAndGlyphs">6</text>
<line x1="227.09" y1="215.75" x2="227.09" y2="218.95" stroke="#1a1a1a" stroke-width="1.1"/>
<text x="227.09" y="226.95" font-size="6.4" fill="#2b2b2b" stroke="#2b2b2b" stroke-width="0.15" text-anchor="middle" textLength="4.05" lengthAdjust="spacingAndGlyphs">8</text>
<line x1="243.55" y1="215.75" x2="243.55" y2="218.95" stroke="#1a1a1a" stroke-width="1.1"/>
<text x="243.55" y="226.95" font-size="6.4" fill="#2b2b2b" stroke="#2b2b2b" stroke-width="0.15" text-anchor="middle" textLength="8.1" lengthAdjust="spacingAndGlyphs">10</text>
<text x="141.2" y="172.5" font-size="7.4" fill="#2b2b2b" text-anchor="middle" textLength="41.3" lengthAdjust="spacingAndGlyphs" transform="rotate(-90 141.2 172.5)" stroke="#2b2b2b" stroke-width="0.25">P-selectin (MFI)</text>
<text x="204.25" y="238.05" font-size="7.4" fill="#2b2b2b" text-anchor="middle" textLength="35.1" lengthAdjust="spacingAndGlyphs" stroke="#2b2b2b" stroke-width="0.3">U46619 (&#956;M)</text>
<polyline points="161.25,203.15 177.71,175.43 202.4,180.47 243.55,173.75" fill="none" stroke="#c8102e" stroke-width="1.5" stroke-linejoin="round"/>
<circle cx="161.25" cy="203.15" r="1.7" fill="#c8102e"/>
<line x1="177.71" y1="166.19" x2="177.71" y2="184.67" stroke="#c8102e" stroke-width="1.1"/>
<line x1="176.11" y1="166.19" x2="179.31" y2="166.19" stroke="#c8102e" stroke-width="1.1"/>
<line x1="176.11" y1="184.67" x2="179.31" y2="184.67" stroke="#c8102e" stroke-width="1.1"/>
<circle cx="177.71" cy="175.43" r="1.7" fill="#c8102e"/>
<line x1="202.4" y1="175.43" x2="202.4" y2="185.51" stroke="#c8102e" stroke-width="1.1"/>
<line x1="200.8" y1="175.43" x2="204" y2="175.43" stroke="#c8102e" stroke-width="1.1"/>
<line x1="200.8" y1="185.51" x2="204" y2="185.51" stroke="#c8102e" stroke-width="1.1"/>
<circle cx="202.4" cy="180.47" r="1.7" fill="#c8102e"/>
<line x1="243.55" y1="163.67" x2="243.55" y2="183.83" stroke="#c8102e" stroke-width="1.1"/>
<line x1="241.95" y1="163.67" x2="245.15" y2="163.67" stroke="#c8102e" stroke-width="1.1"/>
<line x1="241.95" y1="183.83" x2="245.15" y2="183.83" stroke="#c8102e" stroke-width="1.1"/>
<circle cx="243.55" cy="173.75" r="1.7" fill="#c8102e"/>
<polyline points="161.25,203.15 177.71,153.59 202.4,157.79 243.55,153.59" fill="none" stroke="#0f4c8c" stroke-width="1.5" stroke-linejoin="round"/>
<rect x="159.55" y="201.45" width="3.4" height="3.4" fill="#0f4c8c"/>
<line x1="177.71" y1="143.51" x2="177.71" y2="163.67" stroke="#0f4c8c" stroke-width="1.1"/>
<line x1="176.11" y1="143.51" x2="179.31" y2="143.51" stroke="#0f4c8c" stroke-width="1.1"/>
<line x1="176.11" y1="163.67" x2="179.31" y2="163.67" stroke="#0f4c8c" stroke-width="1.1"/>
<rect x="176.01" y="151.89" width="3.4" height="3.4" fill="#0f4c8c"/>
<line x1="202.4" y1="145.19" x2="202.4" y2="170.39" stroke="#0f4c8c" stroke-width="1.1"/>
<line x1="200.8" y1="145.19" x2="204" y2="145.19" stroke="#0f4c8c" stroke-width="1.1"/>
<line x1="200.8" y1="170.39" x2="204" y2="170.39" stroke="#0f4c8c" stroke-width="1.1"/>
<rect x="200.7" y="156.09" width="3.4" height="3.4" fill="#0f4c8c"/>
<line x1="243.55" y1="145.19" x2="243.55" y2="161.99" stroke="#0f4c8c" stroke-width="1.1"/>
<line x1="241.95" y1="145.19" x2="245.15" y2="145.19" stroke="#0f4c8c" stroke-width="1.1"/>
<line x1="241.95" y1="161.99" x2="245.15" y2="161.99" stroke="#0f4c8c" stroke-width="1.1"/>
<rect x="241.85" y="151.89" width="3.4" height="3.4" fill="#0f4c8c"/>
<text x="178" y="140.5" font-size="6.2" fill="#222" text-anchor="middle" textLength="6.5" lengthAdjust="spacingAndGlyphs" stroke="#222" stroke-width="0.1">ns</text>
<text x="202.2" y="143" font-size="6.2" fill="#222" text-anchor="middle" textLength="6.5" lengthAdjust="spacingAndGlyphs" stroke="#222" stroke-width="0.1">ns</text>
<text x="243.5" y="142.5" font-size="6.2" fill="#222" text-anchor="middle" textLength="6.5" lengthAdjust="spacingAndGlyphs" stroke="#222" stroke-width="0.1">ns</text>
<text x="208.8" y="153.2" font-size="7" fill="#0f4c8c" stroke="#0f4c8c" stroke-width="0.12" textLength="18.6" lengthAdjust="spacingAndGlyphs">GRK2</text>
<text x="228.1" y="150.3" font-size="4.6" fill="#0f4c8c" textLength="7" lengthAdjust="spacingAndGlyphs">&#8722;/&#8722;</text>
<text x="215" y="187" font-size="7.2" fill="#c8102e" textLength="11.3" lengthAdjust="spacingAndGlyphs" stroke="#c8102e" stroke-width="0.12">WT</text>
<line x1="291.75" y1="128.55" x2="291.75" y2="216.25" stroke="#1a1a1a" stroke-width="1.1"/>
<line x1="291.25" y1="215.75" x2="377.5" y2="215.75" stroke="#1a1a1a" stroke-width="1.1"/>
<line x1="288.45" y1="215.75" x2="291.75" y2="215.75" stroke="#1a1a1a" stroke-width="1.1"/>
<text x="285.65" y="218.35" font-size="6.4" fill="#2b2b2b" stroke="#2b2b2b" stroke-width="0.15" text-anchor="end" textLength="4.05" lengthAdjust="spacingAndGlyphs">0</text>
<line x1="288.45" y1="194.75" x2="291.75" y2="194.75" stroke="#1a1a1a" stroke-width="1.1"/>
<text x="285.65" y="197.35" font-size="6.4" fill="#2b2b2b" stroke="#2b2b2b" stroke-width="0.15" text-anchor="end" textLength="8.1" lengthAdjust="spacingAndGlyphs">50</text>
<line x1="288.45" y1="173.75" x2="291.75" y2="173.75" stroke="#1a1a1a" stroke-width="1.1"/>
<text x="285.65" y="176.35" font-size="6.4" fill="#2b2b2b" stroke="#2b2b2b" stroke-width="0.15" text-anchor="end" textLength="12.15" lengthAdjust="spacingAndGlyphs">100</text>
<line x1="288.45" y1="152.75" x2="291.75" y2="152.75" stroke="#1a1a1a" stroke-width="1.1"/>
<text x="285.65" y="155.35" font-size="6.4" fill="#2b2b2b" stroke="#2b2b2b" stroke-width="0.15" text-anchor="end" textLength="12.15" lengthAdjust="spacingAndGlyphs">150</text>
<line x1="288.45" y1="131.75" x2="291.75" y2="131.75" stroke="#1a1a1a" stroke-width="1.1"/>
<text x="285.65" y="134.35" font-size="6.4" fill="#2b2b2b" stroke="#2b2b2b" stroke-width="0.15" text-anchor="end" textLength="12.15" lengthAdjust="spacingAndGlyphs">200</text>
<line x1="291.75" y1="215.75" x2="291.75" y2="218.95" stroke="#1a1a1a" stroke-width="1.1"/>
<text x="291.75" y="226.95" font-size="6.4" fill="#2b2b2b" stroke="#2b2b2b" stroke-width="0.15" text-anchor="middle" textLength="4.05" lengthAdjust="spacingAndGlyphs">0</text>
<line x1="319.15" y1="215.75" x2="319.15" y2="218.95" stroke="#1a1a1a" stroke-width="1.1"/>
<text x="319.15" y="226.95" font-size="6.4" fill="#2b2b2b" stroke="#2b2b2b" stroke-width="0.15" text-anchor="middle" textLength="12.15" lengthAdjust="spacingAndGlyphs">100</text>
<line x1="346.55" y1="215.75" x2="346.55" y2="218.95" stroke="#1a1a1a" stroke-width="1.1"/>
<text x="346.55" y="226.95" font-size="6.4" fill="#2b2b2b" stroke="#2b2b2b" stroke-width="0.15" text-anchor="middle" textLength="12.15" lengthAdjust="spacingAndGlyphs">200</text>
<line x1="373.95" y1="215.75" x2="373.95" y2="218.95" stroke="#1a1a1a" stroke-width="1.1"/>
<text x="373.95" y="226.95" font-size="6.4" fill="#2b2b2b" stroke="#2b2b2b" stroke-width="0.15" text-anchor="middle" textLength="12.15" lengthAdjust="spacingAndGlyphs">300</text>
<text x="268.5" y="172.5" font-size="7.4" fill="#2b2b2b" text-anchor="middle" textLength="41.3" lengthAdjust="spacingAndGlyphs" transform="rotate(-90 268.5 172.5)" stroke="#2b2b2b" stroke-width="0.25">P-selectin (MFI)</text>
<text x="334.8" y="238.05" font-size="7.4" fill="#2b2b2b" text-anchor="middle" textLength="37.6" lengthAdjust="spacingAndGlyphs" stroke="#2b2b2b" stroke-width="0.3">PAR4-AP (&#956;M)</text>
<polyline points="291.75,214.91 305.45,211.97 319.15,191.81 373.95,151.49" fill="none" stroke="#c8102e" stroke-width="1.5" stroke-linejoin="round"/>
<circle cx="291.75" cy="214.91" r="1.7" fill="#c8102e"/>
<circle cx="305.45" cy="211.97" r="1.7" fill="#c8102e"/>
<line x1="319.15" y1="183.41" x2="319.15" y2="191.81" stroke="#c8102e" stroke-width="1.1"/>
<line x1="317.55" y1="183.41" x2="320.75" y2="183.41" stroke="#c8102e" stroke-width="1.1"/>
<circle cx="319.15" cy="191.81" r="1.7" fill="#c8102e"/>
<circle cx="373.95" cy="151.49" r="1.7" fill="#c8102e"/>
<polyline points="291.75,214.91 305.45,212.39 319.15,198.11 373.95,148.55" fill="none" stroke="#0f4c8c" stroke-width="1.5" stroke-linejoin="round"/>
<rect x="290.05" y="213.21" width="3.4" height="3.4" fill="#0f4c8c"/>
<rect x="303.75" y="210.69" width="3.4" height="3.4" fill="#0f4c8c"/>
<line x1="319.15" y1="194.33" x2="319.15" y2="201.89" stroke="#0f4c8c" stroke-width="1.1"/>
<line x1="317.55" y1="194.33" x2="320.75" y2="194.33" stroke="#0f4c8c" stroke-width="1.1"/>
<line x1="317.55" y1="201.89" x2="320.75" y2="201.89" stroke="#0f4c8c" stroke-width="1.1"/>
<rect x="317.45" y="196.41" width="3.4" height="3.4" fill="#0f4c8c"/>
<line x1="373.95" y1="146.03" x2="373.95" y2="151.07" stroke="#0f4c8c" stroke-width="1.1"/>
<line x1="372.35" y1="146.03" x2="375.55" y2="146.03" stroke="#0f4c8c" stroke-width="1.1"/>
<line x1="372.35" y1="151.07" x2="375.55" y2="151.07" stroke="#0f4c8c" stroke-width="1.1"/>
<rect x="372.25" y="146.85" width="3.4" height="3.4" fill="#0f4c8c"/>
<text x="304.3" y="207" font-size="6.2" fill="#222" text-anchor="middle" textLength="6.5" lengthAdjust="spacingAndGlyphs" stroke="#222" stroke-width="0.1">ns</text>
<text x="319.3" y="181.2" font-size="6.2" fill="#222" text-anchor="middle" textLength="6.5" lengthAdjust="spacingAndGlyphs" stroke="#222" stroke-width="0.1">ns</text>
<text x="373.8" y="142.5" font-size="6.2" fill="#222" text-anchor="middle" textLength="6.5" lengthAdjust="spacingAndGlyphs" stroke="#222" stroke-width="0.1">ns</text>
<text x="334.3" y="169.5" font-size="7.2" fill="#c8102e" textLength="11.3" lengthAdjust="spacingAndGlyphs" stroke="#c8102e" stroke-width="0.12">WT</text>
<text x="341.8" y="186" font-size="7" fill="#0f4c8c" stroke="#0f4c8c" stroke-width="0.12" textLength="18.6" lengthAdjust="spacingAndGlyphs">GRK2</text>
<text x="361.1" y="183.1" font-size="4.6" fill="#0f4c8c" textLength="7" lengthAdjust="spacingAndGlyphs">&#8722;/&#8722;</text>
<line x1="424.75" y1="128.55" x2="424.75" y2="216.25" stroke="#1a1a1a" stroke-width="1.1"/>
<line x1="424.25" y1="215.75" x2="510.5" y2="215.75" stroke="#1a1a1a" stroke-width="1.1"/>
<line x1="421.45" y1="215.75" x2="424.75" y2="215.75" stroke="#1a1a1a" stroke-width="1.1"/>
<text x="418.65" y="218.35" font-size="6.4" fill="#2b2b2b" stroke="#2b2b2b" stroke-width="0.15" text-anchor="end" textLength="4.05" lengthAdjust="spacingAndGlyphs">0</text>
<line x1="421.45" y1="194.75" x2="424.75" y2="194.75" stroke="#1a1a1a" stroke-width="1.1"/>
<text x="418.65" y="197.35" font-size="6.4" fill="#2b2b2b" stroke="#2b2b2b" stroke-width="0.15" text-anchor="end" textLength="8.1" lengthAdjust="spacingAndGlyphs">50</text>
<line x1="421.45" y1="173.75" x2="424.75" y2="173.75" stroke="#1a1a1a" stroke-width="1.1"/>
<text x="418.65" y="176.35" font-size="6.4" fill="#2b2b2b" stroke="#2b2b2b" stroke-width="0.15" text-anchor="end" textLength="12.15" lengthAdjust="spacingAndGlyphs">100</text>
<line x1="421.45" y1="152.75" x2="424.75" y2="152.75" stroke="#1a1a1a" stroke-width="1.1"/>
<text x="418.65" y="155.35" font-size="6.4" fill="#2b2b2b" stroke="#2b2b2b" stroke-width="0.15" text-anchor="end" textLength="12.15" lengthAdjust="spacingAndGlyphs">150</text>
<line x1="421.45" y1="131.75" x2="424.75" y2="131.75" stroke="#1a1a1a" stroke-width="1.1"/>
<text x="418.65" y="134.35" font-size="6.4" fill="#2b2b2b" stroke="#2b2b2b" stroke-width="0.15" text-anchor="end" textLength="12.15" lengthAdjust="spacingAndGlyphs">200</text>
<line x1="424.75" y1="215.75" x2="424.75" y2="218.95" stroke="#1a1a1a" stroke-width="1.1"/>
<text x="424.75" y="226.95" font-size="6.4" fill="#2b2b2b" stroke="#2b2b2b" stroke-width="0.15" text-anchor="middle" textLength="4.05" lengthAdjust="spacingAndGlyphs">0</text>
<line x1="441.3" y1="215.75" x2="441.3" y2="218.95" stroke="#1a1a1a" stroke-width="1.1"/>
<text x="441.3" y="226.95" font-size="6.4" fill="#2b2b2b" stroke="#2b2b2b" stroke-width="0.15" text-anchor="middle" textLength="8.1" lengthAdjust="spacingAndGlyphs">20</text>
<line x1="457.85" y1="215.75" x2="457.85" y2="218.95" stroke="#1a1a1a" stroke-width="1.1"/>
<text x="457.85" y="226.95" font-size="6.4" fill="#2b2b2b" stroke="#2b2b2b" stroke-width="0.15" text-anchor="middle" textLength="8.1" lengthAdjust="spacingAndGlyphs">40</text>
<line x1="474.4" y1="215.75" x2="474.4" y2="218.95" stroke="#1a1a1a" stroke-width="1.1"/>
<text x="474.4" y="226.95" font-size="6.4" fill="#2b2b2b" stroke="#2b2b2b" stroke-width="0.15" text-anchor="middle" textLength="8.1" lengthAdjust="spacingAndGlyphs">60</text>
<line x1="490.95" y1="215.75" x2="490.95" y2="218.95" stroke="#1a1a1a" stroke-width="1.1"/>
<text x="490.95" y="226.95" font-size="6.4" fill="#2b2b2b" stroke="#2b2b2b" stroke-width="0.15" text-anchor="middle" textLength="8.1" lengthAdjust="spacingAndGlyphs">80</text>
<line x1="507.5" y1="215.75" x2="507.5" y2="218.95" stroke="#1a1a1a" stroke-width="1.1"/>
<text x="507.5" y="226.95" font-size="6.4" fill="#2b2b2b" stroke="#2b2b2b" stroke-width="0.15" text-anchor="middle" textLength="12.15" lengthAdjust="spacingAndGlyphs">100</text>
<text x="401.4" y="172.5" font-size="7.4" fill="#2b2b2b" text-anchor="middle" textLength="41.3" lengthAdjust="spacingAndGlyphs" transform="rotate(-90 401.4 172.5)" stroke="#2b2b2b" stroke-width="0.25">P-selectin (MFI)</text>
<text x="467.5" y="238.05" font-size="7.4" fill="#2b2b2b" text-anchor="middle" textLength="46.4" lengthAdjust="spacingAndGlyphs" stroke="#2b2b2b" stroke-width="0.3">Convulxin (ng/ml)</text>
<polyline points="424.75,214.91 433.02,209.87 507.5,183.83" fill="none" stroke="#c8102e" stroke-width="1.5" stroke-linejoin="round"/>
<circle cx="424.75" cy="214.91" r="1.7" fill="#c8102e"/>
<circle cx="433.02" cy="209.87" r="1.7" fill="#c8102e"/>
<circle cx="507.5" cy="183.83" r="1.7" fill="#c8102e"/>
<polyline points="424.75,214.91 433.02,209.45 507.5,180.47" fill="none" stroke="#0f4c8c" stroke-width="1.5" stroke-linejoin="round"/>
<rect x="423.05" y="213.21" width="3.4" height="3.4" fill="#0f4c8c"/>
<rect x="431.32" y="207.75" width="3.4" height="3.4" fill="#0f4c8c"/>
<line x1="507.5" y1="177.53" x2="507.5" y2="183.41" stroke="#0f4c8c" stroke-width="1.1"/>
<line x1="505.9" y1="177.53" x2="509.1" y2="177.53" stroke="#0f4c8c" stroke-width="1.1"/>
<line x1="505.9" y1="183.41" x2="509.1" y2="183.41" stroke="#0f4c8c" stroke-width="1.1"/>
<rect x="505.8" y="178.77" width="3.4" height="3.4" fill="#0f4c8c"/>
<text x="433" y="203.8" font-size="6.2" fill="#222" text-anchor="middle" textLength="6.5" lengthAdjust="spacingAndGlyphs" stroke="#222" stroke-width="0.1">ns</text>
<text x="506.8" y="174.3" font-size="6.2" fill="#222" text-anchor="middle" textLength="6.5" lengthAdjust="spacingAndGlyphs" stroke="#222" stroke-width="0.1">ns</text>
<text x="466" y="186" font-size="7" fill="#0f4c8c" stroke="#0f4c8c" stroke-width="0.12" textLength="18.6" lengthAdjust="spacingAndGlyphs">GRK2</text>
<text x="485.3" y="183.1" font-size="4.6" fill="#0f4c8c" textLength="7" lengthAdjust="spacingAndGlyphs">&#8722;/&#8722;</text>
<text x="486.3" y="199" font-size="7.2" fill="#c8102e" textLength="11.3" lengthAdjust="spacingAndGlyphs" stroke="#c8102e" stroke-width="0.12">WT</text>
<line x1="37.6" y1="261.1" x2="37.6" y2="339.4" stroke="#1a1a1a" stroke-width="1.1"/>
<line x1="37.6" y1="323.6" x2="154.5" y2="323.6" stroke="#1a1a1a" stroke-width="1.1"/>
<line x1="34.3" y1="335.4" x2="37.6" y2="335.4" stroke="#1a1a1a" stroke-width="1.1"/>
<text x="30.8" y="337.9" font-size="6.4" fill="#2b2b2b" stroke="#2b2b2b" stroke-width="0.15" text-anchor="end" textLength="12.15" lengthAdjust="spacingAndGlyphs">&#8722;20</text>
<line x1="34.3" y1="323.6" x2="37.6" y2="323.6" stroke="#1a1a1a" stroke-width="1.1"/>
<text x="30.8" y="326.1" font-size="6.4" fill="#2b2b2b" stroke="#2b2b2b" stroke-width="0.15" text-anchor="end" textLength="4.05" lengthAdjust="spacingAndGlyphs">0</text>
<line x1="34.3" y1="311.8" x2="37.6" y2="311.8" stroke="#1a1a1a" stroke-width="1.1"/>
<text x="30.8" y="314.3" font-size="6.4" fill="#2b2b2b" stroke="#2b2b2b" stroke-width="0.15" text-anchor="end" textLength="8.1" lengthAdjust="spacingAndGlyphs">20</text>
<line x1="34.3" y1="300" x2="37.6" y2="300" stroke="#1a1a1a" stroke-width="1.1"/>
<text x="30.8" y="302.5" font-size="6.4" fill="#2b2b2b" stroke="#2b2b2b" stroke-width="0.15" text-anchor="end" textLength="8.1" lengthAdjust="spacingAndGlyphs">40</text>
<line x1="34.3" y1="288.2" x2="37.6" y2="288.2" stroke="#1a1a1a" stroke-width="1.1"/>
<text x="30.8" y="290.7" font-size="6.4" fill="#2b2b2b" stroke="#2b2b2b" stroke-width="0.15" text-anchor="end" textLength="8.1" lengthAdjust="spacingAndGlyphs">60</text>
<line x1="34.3" y1="276.4" x2="37.6" y2="276.4" stroke="#1a1a1a" stroke-width="1.1"/>
<text x="30.8" y="278.9" font-size="6.4" fill="#2b2b2b" stroke="#2b2b2b" stroke-width="0.15" text-anchor="end" textLength="8.1" lengthAdjust="spacingAndGlyphs">80</text>
<line x1="34.3" y1="264.6" x2="37.6" y2="264.6" stroke="#1a1a1a" stroke-width="1.1"/>
<text x="30.8" y="267.1" font-size="6.4" fill="#2b2b2b" stroke="#2b2b2b" stroke-width="0.15" text-anchor="end" textLength="12.15" lengthAdjust="spacingAndGlyphs">100</text>
<line x1="74.6" y1="323.6" x2="74.6" y2="326.8" stroke="#1a1a1a" stroke-width="1.1"/>
<text x="74.6" y="334.9" font-size="6.4" fill="#2b2b2b" stroke="#2b2b2b" stroke-width="0.15" text-anchor="middle" textLength="12.15" lengthAdjust="spacingAndGlyphs">200</text>
<line x1="111.6" y1="323.6" x2="111.6" y2="326.8" stroke="#1a1a1a" stroke-width="1.1"/>
<text x="111.6" y="334.9" font-size="6.4" fill="#2b2b2b" stroke="#2b2b2b" stroke-width="0.15" text-anchor="middle" textLength="12.15" lengthAdjust="spacingAndGlyphs">400</text>
<line x1="148.5" y1="323.6" x2="148.5" y2="326.8" stroke="#1a1a1a" stroke-width="1.1"/>
<text x="148.5" y="334.9" font-size="6.4" fill="#2b2b2b" stroke="#2b2b2b" stroke-width="0.15" text-anchor="middle" textLength="12.15" lengthAdjust="spacingAndGlyphs">600</text>
<text x="96" y="259.6" font-size="8.2" fill="#111" text-anchor="middle" textLength="62.5" lengthAdjust="spacingAndGlyphs" stroke="#111" stroke-width="0.12">PAR4-AP (73&#956;M)</text>
<text x="12.3" y="298.4" font-size="7.7" fill="#2b2b2b" text-anchor="middle" textLength="57.8" lengthAdjust="spacingAndGlyphs" transform="rotate(-90 12.3 298.4)" stroke="#2b2b2b" stroke-width="0.28">Light transmission (%)</text>
<text x="95.6" y="346.6" font-size="7.6" fill="#2b2b2b" text-anchor="middle" textLength="19.5" lengthAdjust="spacingAndGlyphs" stroke="#2b2b2b" stroke-width="0.25">Time(s)</text>
<polyline points="37.7,323.98 37.95,325.15 38.2,325.78 38.45,325.15 38.7,325.03 38.95,325.74 39.2,325.89 39.45,325.92 39.7,324.33 39.95,323.74 40.2,324.2 40.45,323.61 40.7,323.7 40.95,323.04 41.2,322.13 41.45,321.66 41.7,322.64 41.95,320.99 42.2,320.77 42.45,320.89 42.7,322.06 42.95,322.95 43.2,323.74 43.45,324.97 43.7,326.18 43.95,327.21 44.2,328.02 44.45,328 44.7,327.24 44.95,328.43 45.2,327.47 45.45,328.02 45.7,327.39 45.95,327.98 46.2,327.53 46.45,327.89 46.7,329.18 46.95,327.58 47.2,327.87 47.45,326.8 47.7,327.14 47.95,327.44 48.2,326.98 48.45,327.05 48.7,326.79 48.96,326.18 49.21,326.72 49.46,325.99 49.71,327.01 49.96,325.86 50.21,326.23 50.46,325.8 50.71,326.07 50.96,325.29 51.21,325.83 51.46,325.24 51.71,325.7 51.96,325.31 52.21,325 52.46,324.5 52.71,325.02 52.96,324.78 53.21,325.15 53.46,324.21 53.71,324.47 53.96,324.34 54.21,324.13 54.46,323.99 54.71,323.87 54.96,323.46 55.21,323.19 55.46,323.33 55.71,323.63 55.96,323.89 56.21,323.59 56.46,323.52 56.71,323.32 56.96,323.19 57.21,322.9 57.46,323.03 57.71,323.31 57.96,322.42 58.21,322.19 58.46,323.1 58.71,322.36 58.96,322.55 59.21,322.43 59.46,321.6 59.71,322.83 59.96,322.51 60.21,321.84 60.46,321.97 60.71,321.66 60.96,321.22 61.21,321.41 61.46,321.51 61.71,321.67 61.96,321.41 62.21,321.04 62.46,321.34 62.71,320.42 62.96,320.76 63.21,320.65 63.46,319.93 63.71,319.19 63.96,319.26 64.21,319.41 64.46,319.27 64.71,319.37 64.96,318.16 65.21,318.24 65.46,318.18 65.71,317.52 65.96,316.26 66.21,317.15 66.46,317.38 66.71,316.4 66.96,315.11 67.21,314.85 67.46,314.65 67.71,315.22 67.96,313.9 68.21,313.2 68.46,313.45 68.71,312.21 68.96,312.74 69.21,311.03 69.46,310.68 69.71,310.82 69.96,310.7 70.21,309.78 70.46,309.05 70.71,307.32 70.96,307.34 71.22,306.8 71.47,306.24 71.72,306.28 71.97,305.13 72.22,305.19 72.47,304.14 72.72,303.27 72.97,302.98 73.22,302.61 73.47,302.36 73.72,300.87 73.97,300.5 74.22,299.11 74.47,300.89 74.72,300.31 74.97,298.54 75.22,297.84 75.47,296.76 75.72,297.55 75.97,297.2 76.22,298.62 76.47,296.48 76.72,295.13 76.97,293.13 77.22,296.49 77.47,294.92 77.72,292.74 77.97,294.25 78.22,292.06 78.47,297.23 78.72,294.46 78.97,293.65 79.22,292.6 79.47,290.12 79.72,292.22 79.97,290.31 80.22,292.65 80.47,289.18 80.72,290.44 80.97,292.76 81.22,293.05 81.47,289.47 81.72,288.83 81.97,291.51 82.22,291.27 82.47,288.85 82.72,289 82.97,288.79 83.22,287.99 83.47,288.41 83.72,290.53 83.97,289.65 84.22,291.1 84.47,288.34 84.72,288.11 84.97,286.94 85.22,287.85 85.47,286.3 85.72,285.64 85.97,288.56 86.22,289.39 86.47,288.58 86.72,289.11 86.97,287.73 87.22,286.47 87.47,287.38 87.72,286.75 87.97,285.77 88.22,284.99 88.47,285.18 88.72,286.92 88.97,287.04 89.22,286.22 89.47,288.49 89.72,286.91 89.97,287.35 90.22,288.08 90.47,285.52 90.72,284.05 90.97,287.34 91.22,285.52 91.47,287.92 91.72,286.67 91.97,287.44 92.22,287.09 92.47,283.52 92.72,286.93 92.97,285.15 93.22,284.99 93.48,285.33 93.73,286.77 93.98,286.86 94.23,286.97 94.48,283.59 94.73,284.87 94.98,282.59 95.23,285.37 95.48,286.19 95.73,284.43 95.98,285.64 96.23,285.57 96.48,286.48 96.73,284.14 96.98,284.08 97.23,284.12 97.48,287.23 97.73,286.37 97.98,284.81 98.23,285.23 98.48,285.07 98.73,285.16 98.98,284.62 99.23,284.44 99.48,283.26 99.73,284.01 99.98,286.89 100.23,285.46 100.48,284.84 100.73,284.47 100.98,284.8 101.23,285.15 101.48,283.86 101.73,284.91 101.98,284.95 102.23,283.67 102.48,283.6 102.73,283.31 102.98,283.21 103.23,285.68 103.48,281.51 103.73,284.16 103.98,283.7 104.23,283.67 104.48,284.57 104.73,285.87 104.98,284.5 105.23,284.2 105.48,283.58 105.73,284.18 105.98,285.49 106.23,283.79 106.48,282.81 106.73,282.63 106.98,282.82 107.23,282.43 107.48,285.62 107.73,284.64 107.98,283.85 108.23,286.03 108.48,283.27 108.73,285.08 108.98,285.12 109.23,282.06 109.48,282.02 109.73,282.82 109.98,285.19 110.23,285.68 110.48,282.38 110.73,285.33 110.98,283.45 111.23,283.43 111.48,283.21 111.73,283.49 111.98,281.53 112.23,282.58 112.48,282.26 112.73,284.51 112.98,286.59 113.23,287.43 113.48,283.39 113.73,281.56 113.98,283.27 114.23,282.56 114.48,286.39 114.73,284.52 114.98,282.8 115.23,284.98 115.49,284.44 115.74,281.58 115.99,283.01 116.24,283.38 116.49,283.71 116.74,283.85 116.99,283.22 117.24,283.9 117.49,282.86 117.74,282.44 117.99,285.63 118.24,284.08 118.49,284.18 118.74,281.46 118.99,283.35 119.24,284.65 119.49,281.82 119.74,285 119.99,283 120.24,284.05 120.49,283.32 120.74,283.78 120.99,285.08 121.24,282.92 121.49,285.55 121.74,282.39 121.99,282.17 122.24,284.37 122.49,281.97 122.74,282.89 122.99,284.6 123.24,285 123.49,280.96 123.74,284.02 123.99,285.87 124.24,284.93 124.49,282.98 124.74,282.48 124.99,282.88 125.24,281.71 125.49,282.9 125.74,282.99 125.99,283.03 126.24,284.83 126.49,282.9 126.74,281.21 126.99,284.62 127.24,281.71 127.49,282.55 127.74,282.97 127.99,282.67 128.24,281.75 128.49,282.77 128.74,286.09 128.99,282.26 129.24,282.89 129.49,284.6 129.74,284.07 129.99,284.09 130.24,284.21 130.49,280.31 130.74,281.82 130.99,283.17 131.24,283.67 131.49,284.75 131.74,283.6 131.99,282.62 132.24,282.99 132.49,282.63 132.74,283.25 132.99,283.83 133.24,282.41 133.49,281.75 133.74,281.68 133.99,284.37 134.24,284.61 134.49,284.2 134.74,284 134.99,283.96 135.24,282.79 135.49,283.7 135.74,281.3 135.99,282.47 136.24,281.72 136.49,283.75 136.74,281.91 136.99,282.56 137.24,283.26 137.49,284.59 137.75,281.57 138,281.35 138.25,283.8 138.5,281.1 138.75,283.27 139,281.82 139.25,282.47 139.5,280.04 139.75,283.6 140,281.88 140.25,281.3 140.5,285.49 140.75,283.55 141,287.49 141.25,283.1 141.5,282.02 141.75,282.66 142,284.77 142.25,282.45 142.5,283.11 142.75,283.19 143,281.16 143.25,282.62 143.5,281.71 143.75,280.65 144,283.65 144.25,283.34 144.5,282.49 144.75,281.08 145,279.5 145.25,283.05 145.5,282.2 145.75,279.92 146,282.23 146.25,280.13 146.5,282.26 146.75,282.49 147,282.79 147.25,282.58 147.5,282.5 147.75,280.61 148,281.68 148.25,281.49 148.5,281.88 148.75,282.61" fill="none" stroke="#0f4c8c" stroke-width="1.3" stroke-linejoin="round"/>
<polyline points="37.7,324.2 37.95,324.25 38.2,322.4 38.45,323.52 38.7,323.8 38.95,325.36 39.2,325.02 39.45,323.7 39.7,323.58 39.95,322.35 40.2,322.03 40.45,320.85 40.7,321.42 40.95,321.99 41.2,322.18 41.45,321.64 41.7,321.04 41.95,322.43 42.2,323.69 42.45,324.31 42.7,324.9 42.95,326.08 43.2,326.6 43.45,326.44 43.7,326.65 43.95,327.39 44.2,326.46 44.45,326.8 44.7,326.28 44.95,326.81 45.2,326.79 45.45,326.7 45.7,326.82 45.95,327.89 46.2,327.04 46.45,327.08 46.7,328.07 46.95,327.11 47.2,326.39 47.45,327.31 47.7,326.74 47.95,327.85 48.2,326.61 48.45,326.9 48.7,326.47 48.96,327.2 49.21,326.72 49.46,327.14 49.71,327.01 49.96,326.91 50.21,327.58 50.46,327.58 50.71,327.21 50.96,326.8 51.21,326.73 51.46,327.31 51.71,328.22 51.96,327 52.21,326.86 52.46,326.9 52.71,326.73 52.96,326.79 53.21,327.12 53.46,327.84 53.71,327.22 53.96,327 54.21,326.53 54.46,327.32 54.71,327.22 54.96,326.7 55.21,326.77 55.46,327.22 55.71,327.68 55.96,327.52 56.21,327.34 56.46,327.11 56.71,327.4 56.96,327.26 57.21,328.21 57.46,326.77 57.71,327.11 57.96,327.83 58.21,327.16 58.46,327.9 58.71,327.26 58.96,327.35 59.21,327.13 59.46,326.69 59.71,326.87 59.96,328.27 60.21,327.58 60.46,327.56 60.71,327.71 60.96,327.54 61.21,327.74 61.46,327.18 61.71,327.19 61.96,327.72 62.21,327.13 62.46,326.7 62.71,327.19 62.96,327.05 63.21,327.55 63.46,326.97 63.71,326.81 63.96,327.13 64.21,327.96 64.46,327.26 64.71,327.35 64.96,327.28 65.21,327.4 65.46,327.68 65.71,327.89 65.96,326.54 66.21,327.87 66.46,327.27 66.71,327.12 66.96,328.33 67.21,327.19 67.46,328.13 67.71,327.69 67.96,326.8 68.21,327.48 68.46,327.59 68.71,327.2 68.96,326.22 69.21,327.1 69.46,327.17 69.71,326.76 69.96,328.06 70.21,327.14 70.46,327.07 70.71,327.11 70.96,326.9 71.22,326.9 71.47,327.28 71.72,327.38 71.97,327.01 72.22,327.2 72.47,326.62 72.72,327.47 72.97,326.9 73.22,327.33 73.47,326.83 73.72,327 73.97,327.33 74.22,326.68 74.47,328.34 74.72,327.21 74.97,327.19 75.22,326.89 75.47,327.94 75.72,327.85 75.97,327.36 76.22,326.6 76.47,326.99 76.72,327.49 76.97,326.98 77.22,326.68 77.47,326.68 77.72,326.86 77.97,327.22 78.22,326.92 78.47,327.22 78.72,328.47 78.97,328.01 79.22,326.73 79.47,327.36 79.72,327.24 79.97,327.14 80.22,327.67 80.47,327.05 80.72,327.05 80.97,327.02 81.22,327.15 81.47,327.78 81.72,327.54 81.97,326.58 82.22,326.99 82.47,326.82 82.72,327.56 82.97,327.29 83.22,327.59 83.47,327.15 83.72,326.31 83.97,327.39 84.22,327.28 84.47,327.41 84.72,326.58 84.97,327.21 85.22,326.86 85.47,326.86 85.72,327.33 85.97,327.33 86.22,326.76 86.47,326.38 86.72,326.03 86.97,326.9 87.22,327.68 87.47,327.14 87.72,326.13 87.97,326.76 88.22,327.35 88.47,327.93 88.72,327.69 88.97,327.32 89.22,327.24 89.47,326.66 89.72,326.94 89.97,327 90.22,326.79 90.47,327.18 90.72,326.96 90.97,327.3 91.22,327.81 91.47,327.49 91.72,327.34 91.97,327.03 92.22,326.43 92.47,327.08 92.72,327.39 92.97,326.67 93.22,327.72 93.48,326.98 93.73,327.3 93.98,326.98 94.23,326.54 94.48,328.09 94.73,326.59 94.98,327.55 95.23,326.86 95.48,327.25 95.73,326.75 95.98,326.93 96.23,327.55 96.48,328.03 96.73,326.72 96.98,327.12 97.23,327.56 97.48,326.82 97.73,327.44 97.98,326.74 98.23,327.39 98.48,327.31 98.73,327.67 98.98,327.28 99.23,326.54 99.48,327.41 99.73,326.58 99.98,327.45 100.23,327.81 100.48,327.38 100.73,326.83 100.98,327.65 101.23,327.17 101.48,326.5 101.73,326.92 101.98,327.75 102.23,326.94 102.48,327.14 102.73,326.92 102.98,326.28 103.23,326.83 103.48,327.24 103.73,327.17 103.98,326.99 104.23,326.06 104.48,327.64 104.73,327.4 104.98,327.54 105.23,327.67 105.48,326.84 105.73,326.77 105.98,327.2 106.23,327.84 106.48,326.25 106.73,326.94 106.98,326.7 107.23,327.31 107.48,327.74 107.73,326.9 107.98,326.44 108.23,327.06 108.48,326.89 108.73,326.29 108.98,327.45 109.23,326.77 109.48,327.35 109.73,326.39 109.98,327.54 110.23,326.33 110.48,327.52 110.73,326.15 110.98,327.67 111.23,326.83 111.48,326.26 111.73,326.89 111.98,327.16 112.23,326.52 112.48,326.76 112.73,327.12 112.98,326.91 113.23,325.52 113.48,326.78 113.73,327.19 113.98,327.13 114.23,327.47 114.48,326.65 114.73,328.21 114.98,327.36 115.23,327.13 115.49,327.5 115.74,327.43 115.99,327.02 116.24,326.67 116.49,327.46 116.74,327.17 116.99,326.05 117.24,326.42 117.49,327.18 117.74,327.01 117.99,327.09 118.24,327.26 118.49,327.02 118.74,327.71 118.99,326.66 119.24,326.75 119.49,327.1 119.74,327.3 119.99,327.32 120.24,327.66 120.49,326.7 120.74,327.5 120.99,327.16 121.24,326.42 121.49,326.86 121.74,327.94 121.99,327.3 122.24,326.69 122.49,325.75 122.74,326.55 122.99,326.57 123.24,326.95 123.49,328.04 123.74,327.27 123.99,327.06 124.24,326.44 124.49,326.32 124.74,326.8 124.99,326.67 125.24,328.37 125.49,326.69 125.74,326.59 125.99,327.44 126.24,326.92 126.49,326.28 126.74,327.51 126.99,326.73 127.24,326.22 127.49,327.03 127.74,327.11 127.99,326.7 128.24,327.21 128.49,327.27 128.74,326.43 128.99,325.85 129.24,325.68 129.49,326.79 129.74,327.46 129.99,327.35 130.24,327.54 130.49,327.77 130.74,326.86 130.99,327.37 131.24,326.09 131.49,327.18 131.74,327.03 131.99,326.79 132.24,326.62 132.49,326.28 132.74,326.9 132.99,327.46 133.24,326.65 133.49,327.09 133.74,326.49 133.99,326.95 134.24,326.32 134.49,327.01 134.74,326.71 134.99,326.97 135.24,326.51 135.49,326.22 135.74,326.64 135.99,327.32 136.24,327.59 136.49,326.64 136.74,327.2 136.99,327.18 137.24,326.99 137.49,326.02 137.75,326.95 138,326.3 138.25,327.38 138.5,327.18 138.75,327.09 139,325.51 139.25,327.09 139.5,327.13 139.75,326.13 140,327.26 140.25,326.81 140.5,326.68 140.75,326.41 141,326.25 141.25,326.54 141.5,328.31 141.75,326.86 142,326.86 142.25,326.43 142.5,326.44 142.75,326.47 143,326.3 143.25,327.19 143.5,326.61 143.75,327.18 144,326.16 144.25,327.21 144.5,326.72 144.75,327.07 145,326.68 145.25,326.28 145.5,327.34 145.75,326.5 146,326.65 146.25,326.27 146.5,326.82 146.75,326.52 147,326.86 147.25,326.89 147.5,326.36 147.75,325.99 148,326.93 148.25,327.17 148.5,327.06 148.75,326.12" fill="none" stroke="#c8102e" stroke-width="1.3" stroke-linejoin="round"/>
<text x="84.5" y="321.2" font-size="7.2" fill="#c8102e" textLength="11.3" lengthAdjust="spacingAndGlyphs" stroke="#c8102e" stroke-width="0.12">WT</text>
<text x="57" y="284.9" font-size="7" fill="#0f4c8c" stroke="#0f4c8c" stroke-width="0.12" textLength="18.6" lengthAdjust="spacingAndGlyphs">GRK2</text>
<text x="76.3" y="282" font-size="4.6" fill="#0f4c8c" textLength="7" lengthAdjust="spacingAndGlyphs">&#8722;/&#8722;</text>
<line x1="214.75" y1="261.1" x2="214.75" y2="339.4" stroke="#1a1a1a" stroke-width="1.1"/>
<line x1="214.75" y1="323.6" x2="331.5" y2="323.6" stroke="#1a1a1a" stroke-width="1.1"/>
<line x1="211.45" y1="335.4" x2="214.75" y2="335.4" stroke="#1a1a1a" stroke-width="1.1"/>
<text x="207.95" y="337.9" font-size="6.4" fill="#2b2b2b" stroke="#2b2b2b" stroke-width="0.15" text-anchor="end" textLength="12.15" lengthAdjust="spacingAndGlyphs">&#8722;20</text>
<line x1="211.45" y1="323.6" x2="214.75" y2="323.6" stroke="#1a1a1a" stroke-width="1.1"/>
<text x="207.95" y="326.1" font-size="6.4" fill="#2b2b2b" stroke="#2b2b2b" stroke-width="0.15" text-anchor="end" textLength="4.05" lengthAdjust="spacingAndGlyphs">0</text>
<line x1="211.45" y1="311.8" x2="214.75" y2="311.8" stroke="#1a1a1a" stroke-width="1.1"/>
<text x="207.95" y="314.3" font-size="6.4" fill="#2b2b2b" stroke="#2b2b2b" stroke-width="0.15" text-anchor="end" textLength="8.1" lengthAdjust="spacingAndGlyphs">20</text>
<line x1="211.45" y1="300" x2="214.75" y2="300" stroke="#1a1a1a" stroke-width="1.1"/>
<text x="207.95" y="302.5" font-size="6.4" fill="#2b2b2b" stroke="#2b2b2b" stroke-width="0.15" text-anchor="end" textLength="8.1" lengthAdjust="spacingAndGlyphs">40</text>
<line x1="211.45" y1="288.2" x2="214.75" y2="288.2" stroke="#1a1a1a" stroke-width="1.1"/>
<text x="207.95" y="290.7" font-size="6.4" fill="#2b2b2b" stroke="#2b2b2b" stroke-width="0.15" text-anchor="end" textLength="8.1" lengthAdjust="spacingAndGlyphs">60</text>
<line x1="211.45" y1="276.4" x2="214.75" y2="276.4" stroke="#1a1a1a" stroke-width="1.1"/>
<text x="207.95" y="278.9" font-size="6.4" fill="#2b2b2b" stroke="#2b2b2b" stroke-width="0.15" text-anchor="end" textLength="8.1" lengthAdjust="spacingAndGlyphs">80</text>
<line x1="211.45" y1="264.6" x2="214.75" y2="264.6" stroke="#1a1a1a" stroke-width="1.1"/>
<text x="207.95" y="267.1" font-size="6.4" fill="#2b2b2b" stroke="#2b2b2b" stroke-width="0.15" text-anchor="end" textLength="12.15" lengthAdjust="spacingAndGlyphs">100</text>
<line x1="252" y1="323.6" x2="252" y2="326.8" stroke="#1a1a1a" stroke-width="1.1"/>
<text x="252" y="334.9" font-size="6.4" fill="#2b2b2b" stroke="#2b2b2b" stroke-width="0.15" text-anchor="middle" textLength="12.15" lengthAdjust="spacingAndGlyphs">200</text>
<line x1="289.2" y1="323.6" x2="289.2" y2="326.8" stroke="#1a1a1a" stroke-width="1.1"/>
<text x="289.2" y="334.9" font-size="6.4" fill="#2b2b2b" stroke="#2b2b2b" stroke-width="0.15" text-anchor="middle" textLength="12.15" lengthAdjust="spacingAndGlyphs">400</text>
<line x1="326.3" y1="323.6" x2="326.3" y2="326.8" stroke="#1a1a1a" stroke-width="1.1"/>
<text x="326.3" y="334.9" font-size="6.4" fill="#2b2b2b" stroke="#2b2b2b" stroke-width="0.15" text-anchor="middle" textLength="12.15" lengthAdjust="spacingAndGlyphs">600</text>
<text x="273.3" y="259.6" font-size="8.2" fill="#111" text-anchor="middle" textLength="62.5" lengthAdjust="spacingAndGlyphs" stroke="#111" stroke-width="0.12">PAR4-AP (75&#956;M)</text>
<text x="189.45" y="298.4" font-size="7.7" fill="#2b2b2b" text-anchor="middle" textLength="57.8" lengthAdjust="spacingAndGlyphs" transform="rotate(-90 189.45 298.4)" stroke="#2b2b2b" stroke-width="0.28">Light transmission (%)</text>
<text x="273.2" y="346.6" font-size="7.6" fill="#2b2b2b" text-anchor="middle" textLength="19.5" lengthAdjust="spacingAndGlyphs" stroke="#2b2b2b" stroke-width="0.25">Time(s)</text>
<polyline points="215,328.76 215.25,328.89 215.5,329.63 215.75,330.69 216,330.04 216.25,330.52 216.5,330.66 216.75,328.13 217,327.04 217.25,329.5 217.5,331.11 217.75,329.61 218,331.48 218.25,333.41 218.5,333.08 218.75,332.71 219,329.49 219.25,328.87 219.5,326.12 219.75,321.67 220,319.9 220.25,320.12 220.5,322.73 220.75,322.6 221,322.39 221.25,324.6 221.5,324.3 221.75,324.02 222,321.88 222.25,323.16 222.5,323.66 222.75,321.95 223,323.68 223.25,323.99 223.5,323.53 223.75,321.83 224,321.63 224.25,322.83 224.5,322.63 224.75,322.59 225,322.32 225.25,320.91 225.5,320.38 225.75,318.82 226,320.96 226.25,322.03 226.5,319.2 226.75,318.81 227,319.47 227.25,318.85 227.5,316.85 227.75,317.08 228,316.35 228.25,318.9 228.5,315.95 228.75,316.96 229,317.39 229.25,316.7 229.5,315.59 229.75,315.11 230,311.68 230.25,311.86 230.5,310.82 230.75,310.58 231,312.76 231.25,307.89 231.5,309.43 231.75,307 232,308.89 232.25,308.2 232.5,305.79 232.75,307.83 233,305.34 233.25,306.09 233.5,304.59 233.75,303.21 234,302.9 234.25,302.53 234.5,302.3 234.75,300.44 235,301.22 235.25,296.98 235.5,295.23 235.75,293.68 236,292.5 236.25,290.73 236.5,290.43 236.75,291.97 237,290.76 237.25,290.23 237.5,290.53 237.75,291.06 238,290.28 238.25,290.19 238.5,288.39 238.75,288.5 239,287.72 239.25,288.39 239.5,287.42 239.75,287.82 240,287.93 240.25,287.75 240.5,287.57 240.75,287.18 241,289.2 241.25,287.11 241.5,286.19 241.75,287.5 242,285.85 242.25,285.75 242.5,287.01 242.75,284.83 243,282.9 243.25,287 243.5,287.8 243.75,284.5 244,285.34 244.25,287.01 244.5,283.88 244.75,285.12 245,284.64 245.25,285.76 245.5,283.56 245.75,286.89 246,285.57 246.25,286.02 246.5,285.19 246.75,282.97 247,285.23 247.25,283.74 247.5,285.27 247.75,284.18 248,284.75 248.25,284.82 248.5,285.93 248.75,285.86 249,283.69 249.25,284.81 249.5,286.51 249.75,285.3 250,283.78 250.25,284.45 250.5,284.12 250.75,285.59 251,284.45 251.25,284.8 251.5,286.92 251.75,282.59 252,282.96 252.25,282.05 252.5,282.15 252.75,285.01 253,284.28 253.25,285.81 253.5,281.46 253.75,282.71 254,285.44 254.25,284.92 254.5,284.72 254.75,284.68 255,283.66 255.25,283.58 255.5,283.61 255.75,284.54 256,283.32 256.25,283.87 256.5,285.19 256.75,282.1 257,282.52 257.25,284.06 257.5,283.05 257.75,283.15 258,285.8 258.25,283.78 258.5,282.76 258.75,284.54 259,286.2 259.25,281.86 259.5,282.35 259.75,283.26 260,282.34 260.25,285.66 260.5,283.68 260.75,282.55 261,283.59 261.25,282.03 261.5,282.24 261.75,283.06 262,285.75 262.25,280.21 262.5,283.36 262.75,284.44 263,283.69 263.25,285.08 263.5,283.3 263.75,282.91 264,282.56 264.25,281.67 264.5,284.61 264.75,281.24 265,282.47 265.25,281.97 265.5,281.64 265.75,279.9 266,282.07 266.25,282.66 266.5,282.65 266.75,283.47 267,282.25 267.25,281.66 267.5,282.77 267.75,283.17 268,281.28 268.25,280.53 268.5,281.1 268.75,283.56 269,283.47 269.25,281.21 269.5,282.37 269.75,283.22 270,283.78 270.25,281.4 270.5,281.87 270.75,283.82 271,284.99 271.25,283.92 271.5,280.72 271.75,282.59 272,281.68 272.25,281.95 272.5,281.21 272.75,281.41 273,281.95 273.25,284.09 273.5,282.75 273.75,282.41 274,281.92 274.25,280.98 274.5,281.58 274.75,283.31 275,282.81 275.25,284.15 275.5,282.1 275.75,281.75 276,279.84 276.25,282.22 276.5,279.68 276.75,283.53 277,280.95 277.25,281.69 277.5,280.06 277.75,281.07 278,280.53 278.25,282.97 278.5,281.9 278.75,280.19 279,279.28 279.25,281.48 279.5,280.97 279.75,280.21 280,282.22 280.25,281.28 280.5,281.62 280.75,280.77 281,280.78 281.25,280.89 281.5,279.52 281.75,282.16 282,281.87 282.25,279.33 282.5,281.49 282.75,282.72 283,281.62 283.25,282.86 283.5,280.98 283.75,281.29 284,279.73 284.25,280.18 284.5,279.07 284.75,280.16 285,281.5 285.25,281.81 285.5,282.57 285.75,281.32 286,279.97 286.25,281.65 286.5,280.95 286.75,283.23 287,283.42 287.25,282.22 287.5,279.71 287.75,280.42 288,281.25 288.25,280.17 288.5,281.62 288.75,281.8 289,281.96 289.25,281.22 289.5,279.88 289.75,279.92 290,280.76 290.25,282.47 290.5,282.75 290.75,282.02 291,281.28 291.25,281.63 291.5,281.79 291.75,282.34 292,281.8 292.25,278.94 292.5,281.89 292.75,281.2 293,280.18 293.25,281.33 293.5,281.03 293.75,280.61 294,278.65 294.25,280.78 294.5,281.29 294.75,280.56 295,278.71 295.25,281.14 295.5,281.44 295.75,280.79 296,281.07 296.25,280.14 296.5,279.77 296.75,281.17 297,280.11 297.25,280.75 297.5,284.39 297.75,281.36 298,280.67 298.25,278.57 298.5,280.6 298.75,281.38 299,279.63 299.25,280.18 299.5,277.77 299.75,281.11 300,279.73 300.25,281.25 300.5,282.05 300.75,280.22 301,281.58 301.25,280.7 301.5,280.15 301.75,280.05 302,279.36 302.25,281.9 302.5,281.41 302.75,279.16 303,281.35 303.25,279.47 303.5,278.54 303.75,281.75 304,278.79 304.25,281.71 304.5,280.53 304.75,281.36 305,280.89 305.25,281.65 305.5,280.68 305.75,280.94 306,280.54 306.25,281.54 306.5,279.77 306.75,281.43 307,282.01 307.25,280.13 307.5,280.72 307.75,279.58 308,279.84 308.25,280.49 308.5,279.76 308.75,279.11 309,280.12 309.25,280.37 309.5,280.52 309.75,280.97 310,278.01 310.25,281.79 310.5,279.9 310.75,279.18 311,279.65 311.25,280.61 311.5,281.11 311.75,279.63 312,280.24 312.25,278.15 312.5,280.24 312.75,279.9 313,279.51 313.25,281.07 313.5,282.14 313.75,281.24 314,279.08 314.25,281.84 314.5,279.64 314.75,280 315,279.38 315.25,280.62 315.5,280.75 315.75,280.28 316,279.87 316.25,279.96 316.5,279.67 316.75,281.32 317,279.55 317.25,280.01 317.5,279.95 317.75,279.32 318,279.96 318.25,278.5 318.5,280.74 318.75,280.91 319,279.92 319.25,282.14 319.5,279.33 319.75,280.98 320,280.9 320.25,279.71 320.5,280.07 320.75,281.43 321,280.46 321.25,280.74 321.5,282.07 321.75,280.68 322,278.46 322.25,279.58 322.5,281.46 322.75,280.33 323,279.22 323.25,278.16 323.5,280.9 323.75,282.31 324,279.06 324.25,277.99 324.5,281.16 324.75,279.95 325,280.25" fill="none" stroke="#0f4c8c" stroke-width="1.3" stroke-linejoin="round"/>
<polyline points="215,324.32 215.25,323.5 215.5,323.28 215.75,322.84 216,322.1 216.25,321.27 216.5,321.71 216.75,320.97 217,321.67 217.25,321.77 217.5,323.76 217.75,324.98 218,326.23 218.25,326.23 218.5,326.74 218.75,326.39 219,327.29 219.25,327.4 219.5,327.72 219.75,327.14 220,326.8 220.25,327.37 220.5,327.21 220.75,326.84 221,327.43 221.25,327.5 221.5,327.13 221.75,327.4 222,326.94 222.25,326.15 222.5,326.26 222.75,326.28 223,326.71 223.25,326.73 223.5,326.24 223.75,326.59 224,325.57 224.25,325.83 224.5,326.55 224.75,325.92 225,326.12 225.25,324.52 225.5,324.51 225.75,324.79 226,325.61 226.25,325.79 226.5,324.54 226.75,324.23 227,324.09 227.25,324.03 227.5,324.63 227.75,324.07 228,325.05 228.25,324.34 228.5,323.51 228.75,323.84 229,323.52 229.25,323.87 229.5,323.81 229.75,323.05 230,323.56 230.25,323.3 230.5,322.87 230.75,322.95 231,323.07 231.25,322.48 231.5,322.21 231.75,323.09 232,322.36 232.25,321.97 232.5,322.41 232.75,321.34 233,322.02 233.25,321.22 233.5,321.59 233.75,320.82 234,321.26 234.25,321.98 234.5,321.35 234.75,320.74 235,322.14 235.25,320.89 235.5,321.9 235.75,320.84 236,320.32 236.25,321.93 236.5,320.74 236.75,321.28 237,321.45 237.25,320.14 237.5,320.79 237.75,320.41 238,320.96 238.25,320.6 238.5,319.92 238.75,320.53 239,320.83 239.25,320.26 239.5,320.63 239.75,320.04 240,320.23 240.25,320.38 240.5,320.22 240.75,320.74 241,320.53 241.25,320.43 241.5,320.34 241.75,320.03 242,319.35 242.25,320.44 242.5,320.75 242.75,319.97 243,319.71 243.25,319.79 243.5,320.39 243.75,319.91 244,319.25 244.25,319.63 244.5,319.31 244.75,319.57 245,319.2 245.25,319.18 245.5,320.34 245.75,320.09 246,318.74 246.25,319.03 246.5,319.28 246.75,319.28 247,318.76 247.25,319.87 247.5,318.6 247.75,319.71 248,319.68 248.25,319.11 248.5,318.93 248.75,319.25 249,319.26 249.25,318.11 249.5,318.49 249.75,319.34 250,318.99 250.25,318.8 250.5,318.48 250.75,318.58 251,318.52 251.25,320.26 251.5,318.2 251.75,319.56 252,318.99 252.25,318.83 252.5,318.78 252.75,318.46 253,319.41 253.25,318.83 253.5,318.53 253.75,318.44 254,318.55 254.25,317.83 254.5,318.2 254.75,317.99 255,318.56 255.25,318.5 255.5,317.22 255.75,317.99 256,318.55 256.25,317.36 256.5,317.36 256.75,318.4 257,317.79 257.25,317.58 257.5,317.15 257.75,317.79 258,317.38 258.25,317.71 258.5,317.77 258.75,317.84 259,317.24 259.25,317.04 259.5,317.22 259.75,317.06 260,317.09 260.25,316.64 260.5,316.69 260.75,316.41 261,316.31 261.25,316.5 261.5,316.74 261.75,315.56 262,315.78 262.25,315.32 262.5,314.86 262.75,314.83 263,313.81 263.25,314.11 263.5,313.62 263.75,311 264,313.04 264.25,312.91 264.5,313.51 264.75,311.23 265,311.72 265.25,311.61 265.5,310.38 265.75,311.67 266,310.83 266.25,309.6 266.5,308.98 266.75,309.29 267,311.26 267.25,310.83 267.5,306.68 267.75,306.94 268,308.84 268.25,307.91 268.5,307.18 268.75,308.06 269,307.35 269.25,307.28 269.5,307.01 269.75,305.44 270,307.57 270.25,305.55 270.5,306.89 270.75,306.2 271,305.3 271.25,305.13 271.5,304.66 271.75,302.56 272,303.79 272.25,304.25 272.5,301.9 272.75,301.72 273,304.01 273.25,303.44 273.5,300.77 273.75,302.5 274,301.68 274.25,302.4 274.5,300.68 274.75,300.3 275,299.36 275.25,300.02 275.5,299.55 275.75,298.84 276,298.99 276.25,298.4 276.5,299.64 276.75,297.79 277,297.08 277.25,297.52 277.5,299.45 277.75,297.65 278,298.67 278.25,298.6 278.5,297.15 278.75,298.28 279,297.86 279.25,297.13 279.5,296.28 279.75,296.78 280,295.35 280.25,296.22 280.5,295.74 280.75,296.63 281,296.36 281.25,295.17 281.5,296.57 281.75,296.75 282,295.41 282.25,294.4 282.5,295.55 282.75,292.34 283,294.15 283.25,295.24 283.5,296.6 283.75,293.61 284,295.86 284.25,296.58 284.5,295.99 284.75,291.41 285,294.92 285.25,293.84 285.5,294.59 285.75,293.21 286,292.62 286.25,292.9 286.5,294.61 286.75,293.79 287,292.46 287.25,293.05 287.5,293.44 287.75,293 288,292.23 288.25,291.45 288.5,291.24 288.75,291.46 289,291.24 289.25,290.07 289.5,290.17 289.75,292.54 290,290.33 290.25,290.04 290.5,291.33 290.75,292.85 291,292.57 291.25,290.7 291.5,289.96 291.75,290.41 292,289.93 292.25,290.25 292.5,291.28 292.75,289.54 293,289.77 293.25,290.25 293.5,290.43 293.75,289.55 294,289.45 294.25,289 294.5,289.34 294.75,290.65 295,289.74 295.25,286.56 295.5,290.55 295.75,289.75 296,288.81 296.25,289.42 296.5,286.33 296.75,287.77 297,290.8 297.25,291.8 297.5,291.79 297.75,288.53 298,289.33 298.25,290.08 298.5,287.81 298.75,291.02 299,288.25 299.25,289.37 299.5,287.65 299.75,289.27 300,288.78 300.25,289.94 300.5,287.4 300.75,288.61 301,290.58 301.25,287.19 301.5,288.88 301.75,288.96 302,287.9 302.25,288.14 302.5,290 302.75,289.68 303,289.02 303.25,288.67 303.5,287.09 303.75,288.44 304,290.34 304.25,289.49 304.5,286.77 304.75,285.95 305,287.51 305.25,288.43 305.5,287.61 305.75,287.87 306,288.58 306.25,289.19 306.5,288.4 306.75,289.56 307,286.52 307.25,288.65 307.5,288.58 307.75,286.39 308,289.47 308.25,286.21 308.5,286.36 308.75,291.02 309,289.43 309.25,288.36 309.5,289.45 309.75,289.2 310,286.57 310.25,288.39 310.5,289.42 310.75,287.61 311,287.85 311.25,287.21 311.5,288.56 311.75,287.06 312,286.99 312.25,286.23 312.5,286.55 312.75,287.85 313,288.12 313.25,287.1 313.5,286.31 313.75,287.91 314,287.93 314.25,289 314.5,286.97 314.75,287.08 315,288.16 315.25,289.35 315.5,287.54 315.75,287.51 316,286.53 316.25,287.19 316.5,288.75 316.75,288.66 317,288.98 317.25,285.77 317.5,288.68 317.75,286.63 318,288.42 318.25,284.96 318.5,287.64 318.75,286.73 319,289.28 319.25,287.94 319.5,289.34 319.75,287.3 320,290.16 320.25,287.32 320.5,290.1 320.75,287.3 321,286.73 321.25,288.96 321.5,287.44 321.75,287.86 322,286.34 322.25,287.55 322.5,288.1 322.75,287.14 323,288.46 323.25,285.27 323.5,289.09 323.75,287.55 324,289.8 324.25,287.64 324.5,287.29 324.75,287.55 325,288.43" fill="none" stroke="#c8102e" stroke-width="1.3" stroke-linejoin="round"/>
<text x="221.3" y="280.6" font-size="7" fill="#0f4c8c" stroke="#0f4c8c" stroke-width="0.12" textLength="18.6" lengthAdjust="spacingAndGlyphs">GRK2</text>
<text x="240.6" y="277.7" font-size="4.6" fill="#0f4c8c" textLength="7" lengthAdjust="spacingAndGlyphs">&#8722;/&#8722;</text>
<text x="245.5" y="315" font-size="7.2" fill="#c8102e" textLength="11.3" lengthAdjust="spacingAndGlyphs" stroke="#c8102e" stroke-width="0.12">WT</text>
<line x1="392.75" y1="261.1" x2="392.75" y2="339.4" stroke="#1a1a1a" stroke-width="1.1"/>
<line x1="392.75" y1="323.6" x2="509.5" y2="323.6" stroke="#1a1a1a" stroke-width="1.1"/>
<line x1="389.45" y1="335.4" x2="392.75" y2="335.4" stroke="#1a1a1a" stroke-width="1.1"/>
<text x="385.95" y="337.9" font-size="6.4" fill="#2b2b2b" stroke="#2b2b2b" stroke-width="0.15" text-anchor="end" textLength="12.15" lengthAdjust="spacingAndGlyphs">&#8722;20</text>
<line x1="389.45" y1="323.6" x2="392.75" y2="323.6" stroke="#1a1a1a" stroke-width="1.1"/>
<text x="385.95" y="326.1" font-size="6.4" fill="#2b2b2b" stroke="#2b2b2b" stroke-width="0.15" text-anchor="end" textLength="4.05" lengthAdjust="spacingAndGlyphs">0</text>
<line x1="389.45" y1="311.8" x2="392.75" y2="311.8" stroke="#1a1a1a" stroke-width="1.1"/>
<text x="385.95" y="314.3" font-size="6.4" fill="#2b2b2b" stroke="#2b2b2b" stroke-width="0.15" text-anchor="end" textLength="8.1" lengthAdjust="spacingAndGlyphs">20</text>
<line x1="389.45" y1="300" x2="392.75" y2="300" stroke="#1a1a1a" stroke-width="1.1"/>
<text x="385.95" y="302.5" font-size="6.4" fill="#2b2b2b" stroke="#2b2b2b" stroke-width="0.15" text-anchor="end" textLength="8.1" lengthAdjust="spacingAndGlyphs">40</text>
<line x1="389.45" y1="288.2" x2="392.75" y2="288.2" stroke="#1a1a1a" stroke-width="1.1"/>
<text x="385.95" y="290.7" font-size="6.4" fill="#2b2b2b" stroke="#2b2b2b" stroke-width="0.15" text-anchor="end" textLength="8.1" lengthAdjust="spacingAndGlyphs">60</text>
<line x1="389.45" y1="276.4" x2="392.75" y2="276.4" stroke="#1a1a1a" stroke-width="1.1"/>
<text x="385.95" y="278.9" font-size="6.4" fill="#2b2b2b" stroke="#2b2b2b" stroke-width="0.15" text-anchor="end" textLength="8.1" lengthAdjust="spacingAndGlyphs">80</text>
<line x1="389.45" y1="264.6" x2="392.75" y2="264.6" stroke="#1a1a1a" stroke-width="1.1"/>
<text x="385.95" y="267.1" font-size="6.4" fill="#2b2b2b" stroke="#2b2b2b" stroke-width="0.15" text-anchor="end" textLength="12.15" lengthAdjust="spacingAndGlyphs">100</text>
<line x1="429.9" y1="323.6" x2="429.9" y2="326.8" stroke="#1a1a1a" stroke-width="1.1"/>
<text x="429.9" y="334.9" font-size="6.4" fill="#2b2b2b" stroke="#2b2b2b" stroke-width="0.15" text-anchor="middle" textLength="12.15" lengthAdjust="spacingAndGlyphs">200</text>
<line x1="467" y1="323.6" x2="467" y2="326.8" stroke="#1a1a1a" stroke-width="1.1"/>
<text x="467" y="334.9" font-size="6.4" fill="#2b2b2b" stroke="#2b2b2b" stroke-width="0.15" text-anchor="middle" textLength="12.15" lengthAdjust="spacingAndGlyphs">400</text>
<line x1="503.75" y1="323.6" x2="503.75" y2="326.8" stroke="#1a1a1a" stroke-width="1.1"/>
<text x="503.75" y="334.9" font-size="6.4" fill="#2b2b2b" stroke="#2b2b2b" stroke-width="0.15" text-anchor="middle" textLength="12.15" lengthAdjust="spacingAndGlyphs">600</text>
<text x="451" y="259.6" font-size="8.2" fill="#111" text-anchor="middle" textLength="67" lengthAdjust="spacingAndGlyphs" stroke="#111" stroke-width="0.12">PAR4-AP (100&#956;M)</text>
<text x="367.45" y="298.4" font-size="7.7" fill="#2b2b2b" text-anchor="middle" textLength="57.8" lengthAdjust="spacingAndGlyphs" transform="rotate(-90 367.45 298.4)" stroke="#2b2b2b" stroke-width="0.28">Light transmission (%)</text>
<text x="451" y="346.6" font-size="7.6" fill="#2b2b2b" text-anchor="middle" textLength="19.5" lengthAdjust="spacingAndGlyphs" stroke="#2b2b2b" stroke-width="0.25">Time(s)</text>
<polyline points="392.75,323.26 393,322.28 393.25,321.54 393.5,321.88 393.75,321.64 394,319.37 394.25,319.35 394.5,319.1 394.75,320.47 395,320.48 395.25,321.12 395.5,322.22 395.75,322.41 396,325.07 396.25,324.82 396.5,325.11 396.75,327.39 397,325.47 397.25,327.83 397.5,327.42 397.75,327.06 398,328.11 398.25,327.59 398.5,328.36 398.75,327.85 399,327.54 399.25,330.25 399.5,328.15 399.75,329.24 400,328.59 400.25,329.15 400.5,327.81 400.75,327.87 401,326.16 401.25,328.94 401.5,328.39 401.75,327.11 402,328.33 402.25,327.99 402.5,329.43 402.75,327.41 403,327.72 403.25,327.34 403.5,327.28 403.75,326.57 404,326.13 404.25,326.73 404.5,326.89 404.75,325.03 405,324.84 405.25,325.38 405.5,326.44 405.75,324.85 406,323.61 406.25,325.13 406.5,324.88 406.75,325.49 407,324.07 407.25,325.09 407.5,323.03 407.75,323.94 408,323.2 408.25,322.07 408.5,322.5 408.75,323.4 409,323.05 409.25,321.81 409.5,322.63 409.75,322.28 410,322.07 410.25,321.44 410.5,321.25 410.75,320.26 411,320.58 411.25,320.5 411.5,319.7 411.75,319.79 412,319.87 412.25,319.65 412.5,319.98 412.75,318.3 413,318.48 413.25,318.69 413.5,317.99 413.75,318.23 414,317.43 414.25,318.32 414.5,317.1 414.75,316.22 415,317.27 415.25,317.65 415.5,314.88 415.75,315.76 416,315.5 416.25,315.75 416.5,315.67 416.75,314.13 417,312.76 417.25,313.89 417.5,313.72 417.75,312.94 418,312.28 418.25,311.26 418.5,313.05 418.75,310.02 419,309.22 419.25,310.3 419.5,309.2 419.75,308.84 420,308 420.25,308.31 420.5,307.52 420.75,305.48 421,306.05 421.25,303.95 421.5,303.14 421.75,305.03 422,303.41 422.25,301.67 422.5,303.03 422.75,302.15 423,302.78 423.25,301.95 423.5,300.99 423.75,300.68 424,301.64 424.25,299.76 424.5,300.35 424.75,298.94 425,299.91 425.25,300.82 425.5,299.29 425.75,299.46 426,298.44 426.25,296.65 426.5,296.94 426.75,296.95 427,296.96 427.25,295.49 427.5,296.41 427.75,294.6 428,295.12 428.25,294.75 428.5,293.21 428.75,295.4 429,294.07 429.25,293.88 429.5,293.47 429.75,290.75 430,291.32 430.25,291.68 430.5,293.7 430.75,291.56 431,292.74 431.25,290.52 431.5,290.49 431.75,290.73 432,292.38 432.25,288.96 432.5,290.6 432.75,291.15 433,290.67 433.25,290.34 433.5,291.15 433.75,290.41 434,288.69 434.25,290.52 434.5,288.67 434.75,289.05 435,291.06 435.25,292.11 435.5,290.76 435.75,289.37 436,287.77 436.25,287.64 436.5,290.42 436.75,288.66 437,286.43 437.25,289.86 437.5,288.51 437.75,289.25 438,288.01 438.25,284.8 438.5,286.42 438.75,287.04 439,286.9 439.25,288.84 439.5,286.09 439.75,286.69 440,286.64 440.25,286.5 440.5,285.25 440.75,284.92 441,283.18 441.25,286.61 441.5,285.86 441.75,286.25 442,284.63 442.25,285.81 442.5,284.53 442.75,284.38 443,285.92 443.25,286.18 443.5,286.01 443.75,285.16 444,284.64 444.25,286.73 444.5,286.5 444.75,284.2 445,283.62 445.25,285.38 445.5,285.3 445.75,283.78 446,287.65 446.25,282.3 446.5,283.81 446.75,285.1 447,286 447.25,282.51 447.5,284.22 447.75,286.48 448,286.42 448.25,284.38 448.5,284.71 448.75,283.57 449,285.11 449.25,283.33 449.5,282.11 449.75,282.71 450,284.61 450.25,282.91 450.5,285.86 450.75,286.06 451,285.69 451.25,285.25 451.5,285.82 451.75,284.73 452,285.44 452.25,284.92 452.5,285.28 452.75,283.04 453,283.45 453.25,283 453.5,285.21 453.75,284.79 454,283.17 454.25,282.89 454.5,283.37 454.75,285.12 455,283.88 455.25,283.69 455.5,283.11 455.75,283.78 456,285.86 456.25,283.02 456.5,283.4 456.75,285.89 457,284.66 457.25,282.34 457.5,285.05 457.75,282.13 458,284.34 458.25,280.51 458.5,282.37 458.75,284.69 459,282.8 459.25,282.61 459.5,283.54 459.75,283.45 460,282.84 460.25,282.55 460.5,285.57 460.75,285.16 461,283.7 461.25,281.84 461.5,282.58 461.75,282.84 462,283.77 462.25,285.12 462.5,282.47 462.75,283.26 463,282.52 463.25,283.19 463.5,282.14 463.75,283.43 464,284.37 464.25,282.41 464.5,282.46 464.75,282.98 465,281.19 465.25,285.04 465.5,281.13 465.75,282.33 466,281.67 466.25,284.62 466.5,282.15 466.75,282.11 467,285.07 467.25,282.57 467.5,281.74 467.75,282.69 468,282.93 468.25,281.75 468.5,282.44 468.75,282.4 469,283.55 469.25,283.59 469.5,283.67 469.75,282.47 470,283.6 470.25,282.34 470.5,284.03 470.75,283.08 471,282.04 471.25,284.09 471.5,280.66 471.75,281.33 472,281.54 472.25,282.36 472.5,280.98 472.75,281 473,280.13 473.25,282.62 473.5,281.51 473.75,285.2 474,283.42 474.25,281.01 474.5,284.08 474.75,282.55 475,283.76 475.25,281.01 475.5,283.84 475.75,283.75 476,281.85 476.25,281.3 476.5,281.88 476.75,282.67 477,285.34 477.25,284.58 477.5,284.19 477.75,282.03 478,281.88 478.25,282.74 478.5,281.93 478.75,281.67 479,281.99 479.25,283.3 479.5,282.14 479.75,282.52 480,281.88 480.25,281.96 480.5,281.79 480.75,283.79 481,282.49 481.25,284.08 481.5,281.98 481.75,283.53 482,280.45 482.25,281.68 482.5,282.11 482.75,281.39 483,282.04 483.25,281.02 483.5,281.98 483.75,281.34 484,282.17 484.25,281.8 484.5,280.91 484.75,281.65 485,282.2 485.25,280.56 485.5,282.28 485.75,283.74 486,281.87 486.25,282.85 486.5,282.94 486.75,281.14 487,283.82 487.25,285.32 487.5,280.85 487.75,284.86 488,281.25 488.25,283.98 488.5,279.85 488.75,283.57 489,282.31 489.25,280.51 489.5,281.09 489.75,280.8 490,280.99 490.25,282.6 490.5,281.89 490.75,278.94 491,281.72 491.25,282.71 491.5,282.23 491.75,284.25 492,279.78 492.25,282.41 492.5,282.14 492.75,283.02 493,280.4 493.25,280.44 493.5,281.88 493.75,282.19 494,279.79 494.25,282.55 494.5,282.08 494.75,283.02 495,278.76 495.25,282.72 495.5,280.95 495.75,281.47 496,283.07 496.25,284.22 496.5,282.26 496.75,281.93 497,283.73 497.25,280.92 497.5,281.87 497.75,281.42 498,280.8 498.25,282.3 498.5,284.65 498.75,282.37 499,282.69 499.25,282.01 499.5,283.49 499.75,282.27 500,280.91 500.25,282.17 500.5,283.87 500.75,281.93 501,283.57 501.25,281.94 501.5,284.62 501.75,282.39 502,282.86 502.25,281.65 502.5,283.09 502.75,281.73 503,280.12 503.25,282.4 503.5,280.46 503.75,283.91" fill="none" stroke="#c8102e" stroke-width="1.3" stroke-linejoin="round"/>
<polyline points="392.75,323.09 393,322.62 393.25,323.17 393.5,321.05 393.75,323.94 394,322.57 394.25,323.45 394.5,324.6 394.75,321.56 395,322.14 395.25,322.42 395.5,322.24 395.75,320.61 396,320.84 396.25,322.12 396.5,320.36 396.75,320.75 397,319.75 397.25,320.97 397.5,321.93 397.75,324.87 398,326.62 398.25,326.69 398.5,326.82 398.75,327.52 399,328.04 399.25,327.74 399.5,328.3 399.75,329.04 400,329.05 400.25,327.09 400.5,326.48 400.75,328.36 401,327.55 401.25,327.4 401.5,326.63 401.75,325.68 402,326.03 402.25,325.71 402.5,325.33 402.75,323.48 403,324.38 403.25,323.03 403.5,322.53 403.75,322.48 404,321.54 404.25,322.71 404.5,321.11 404.75,320.42 405,319.64 405.25,319.41 405.5,318.51 405.75,318.29 406,317.64 406.25,316.81 406.5,314.69 406.75,314.44 407,313.87 407.25,312.23 407.5,312.29 407.75,311 408,310.11 408.25,309.29 408.5,307.67 408.75,307.97 409,306.64 409.25,304.73 409.5,304.44 409.75,303.76 410,302.01 410.25,301.41 410.5,301.22 410.75,298.29 411,298.3 411.25,298.73 411.5,298.39 411.75,296.83 412,297.59 412.25,298.08 412.5,296.15 412.75,295.47 413,295.1 413.25,293.85 413.5,294.69 413.75,294.03 414,294.11 414.25,294.31 414.5,292.79 414.75,292.54 415,292.29 415.25,293.16 415.5,290.03 415.75,291.09 416,290.35 416.25,290.88 416.5,291.38 416.75,290.49 417,290.98 417.25,290.28 417.5,289.22 417.75,289.09 418,288.18 418.25,289.66 418.5,288.86 418.75,289.96 419,289.92 419.25,287.88 419.5,287.57 419.75,289.24 420,287.64 420.25,288.68 420.5,289.02 420.75,287.92 421,290.07 421.25,287.37 421.5,288.53 421.75,287.6 422,284.99 422.25,287.7 422.5,287.64 422.75,288.32 423,287.52 423.25,286.83 423.5,286.98 423.75,287.12 424,288.13 424.25,287 424.5,288.47 424.75,288.01 425,286.3 425.25,288.04 425.5,284.6 425.75,286.89 426,285.8 426.25,286.66 426.5,287.89 426.75,286.65 427,286.43 427.25,287.86 427.5,285.72 427.75,285.59 428,287.39 428.25,286.97 428.5,284.82 428.75,286.39 429,286.98 429.25,285.97 429.5,285.67 429.75,286.17 430,286.19 430.25,285.2 430.5,286.73 430.75,284.2 431,285.69 431.25,287.91 431.5,284.58 431.75,285.57 432,283.21 432.25,284.61 432.5,284.21 432.75,285.38 433,284.74 433.25,287.05 433.5,284.15 433.75,284.99 434,285.17 434.25,285.53 434.5,285.71 434.75,283.12 435,286.89 435.25,284.26 435.5,283.77 435.75,282.74 436,283.9 436.25,282.46 436.5,284.4 436.75,283.52 437,284.39 437.25,283.18 437.5,283.98 437.75,286.11 438,284.97 438.25,283.9 438.5,282.7 438.75,285.18 439,281.92 439.25,282.18 439.5,284.93 439.75,282.96 440,284.93 440.25,284.11 440.5,285.73 440.75,285.3 441,284.05 441.25,282.78 441.5,284 441.75,284.8 442,283.48 442.25,280.36 442.5,282.9 442.75,282.89 443,283.18 443.25,282.85 443.5,284.35 443.75,281.86 444,283.58 444.25,281.08 444.5,280.86 444.75,282.03 445,282.28 445.25,282.11 445.5,282.29 445.75,283.61 446,283.56 446.25,283.03 446.5,283.13 446.75,282.19 447,281.88 447.25,281.41 447.5,282.42 447.75,281.67 448,282.47 448.25,283.53 448.5,283.33 448.75,284.1 449,281.77 449.25,280.46 449.5,281.55 449.75,284.7 450,283.36 450.25,282.17 450.5,283.95 450.75,282.16 451,284.27 451.25,282.13 451.5,282.11 451.75,283.22 452,281.33 452.25,282.32 452.5,284.47 452.75,282.93 453,281.35 453.25,282.21 453.5,282.44 453.75,281.68 454,282.87 454.25,283.72 454.5,282.49 454.75,283.34 455,282.73 455.25,282.57 455.5,281.65 455.75,283.4 456,283.79 456.25,281.94 456.5,281.5 456.75,282.92 457,282.49 457.25,283.53 457.5,282.88 457.75,282.24 458,280.95 458.25,282.99 458.5,282.45 458.75,281.05 459,280.82 459.25,280.47 459.5,282.97 459.75,281.88 460,278.92 460.25,281.42 460.5,281.66 460.75,282.19 461,282.33 461.25,281.95 461.5,283.04 461.75,283.32 462,282.05 462.25,283.87 462.5,282.14 462.75,281.38 463,282.41 463.25,280.8 463.5,281.94 463.75,281.17 464,281.8 464.25,282.42 464.5,279.76 464.75,282.61 465,282.47 465.25,281.99 465.5,282.91 465.75,282.53 466,281.82 466.25,281.18 466.5,282.9 466.75,282.92 467,280.7 467.25,281.43 467.5,280.98 467.75,282.97 468,281.57 468.25,280.9 468.5,283.62 468.75,282.57 469,282.35 469.25,282.36 469.5,281.93 469.75,282.14 470,282.98 470.25,282.53 470.5,281.64 470.75,282.19 471,283.93 471.25,281.55 471.5,280.8 471.75,282.2 472,280.98 472.25,284.65 472.5,282.7 472.75,282.66 473,282.44 473.25,284 473.5,281.1 473.75,282.03 474,280.47 474.25,283.28 474.5,282.01 474.75,283.79 475,281.81 475.25,281.07 475.5,281.4 475.75,282.85 476,281.28 476.25,282.32 476.5,281.38 476.75,281.39 477,281.54 477.25,283.63 477.5,281.04 477.75,282.38 478,282.84 478.25,281.36 478.5,280.63 478.75,283.5 479,283.72 479.25,281.83 479.5,280.92 479.75,282.89 480,282.03 480.25,281.28 480.5,281.69 480.75,279.8 481,281.29 481.25,280.91 481.5,280.81 481.75,282.61 482,282.31 482.25,283.65 482.5,279.53 482.75,281.43 483,281.26 483.25,283.29 483.5,283.02 483.75,282.16 484,282.13 484.25,281.34 484.5,281.56 484.75,281.63 485,279.7 485.25,283.8 485.5,282.72 485.75,283.97 486,283.18 486.25,282.5 486.5,282.81 486.75,280.48 487,281.1 487.25,282.82 487.5,281.68 487.75,280.55 488,282.02 488.25,280.85 488.5,282.03 488.75,283.47 489,280.99 489.25,281.62 489.5,282.53 489.75,282 490,282.19 490.25,281.25 490.5,281.72 490.75,279.85 491,281.86 491.25,283.19 491.5,281 491.75,281.85 492,282.66 492.25,283.12 492.5,283.07 492.75,281.21 493,281.64 493.25,283.6 493.5,281.59 493.75,282.27 494,281.25 494.25,281.42 494.5,279.35 494.75,281.52 495,280.04 495.25,281.1 495.5,281.13 495.75,283.21 496,282.69 496.25,282.36 496.5,281.54 496.75,280.77 497,282.43 497.25,281.26 497.5,281.9 497.75,282.83 498,281.83 498.25,281.97 498.5,281.12 498.75,282.92 499,282.46 499.25,282.62 499.5,283.42 499.75,280.56 500,282.01 500.25,282.55 500.5,282.28 500.75,282.26 501,282.39 501.25,280.65 501.5,281.92 501.75,283 502,281.94 502.25,281.81 502.5,282.72 502.75,280.47 503,282.32 503.25,283.29 503.5,281.76 503.75,281.27" fill="none" stroke="#0f4c8c" stroke-width="1.3" stroke-linejoin="round"/>
<text x="398" y="282.4" font-size="7" fill="#0f4c8c" stroke="#0f4c8c" stroke-width="0.12" textLength="18.6" lengthAdjust="spacingAndGlyphs">GRK2</text>
<text x="417.3" y="279.5" font-size="4.6" fill="#0f4c8c" textLength="7" lengthAdjust="spacingAndGlyphs">&#8722;/&#8722;</text>
<text x="422.5" y="320" font-size="7.2" fill="#c8102e" textLength="11.3" lengthAdjust="spacingAndGlyphs" stroke="#c8102e" stroke-width="0.12">WT</text>
<line x1="37.6" y1="364.7" x2="37.6" y2="443" stroke="#1a1a1a" stroke-width="1.1"/>
<line x1="37.6" y1="427.2" x2="154.5" y2="427.2" stroke="#1a1a1a" stroke-width="1.1"/>
<line x1="34.3" y1="439" x2="37.6" y2="439" stroke="#1a1a1a" stroke-width="1.1"/>
<text x="30.8" y="441.5" font-size="6.4" fill="#2b2b2b" stroke="#2b2b2b" stroke-width="0.15" text-anchor="end" textLength="12.15" lengthAdjust="spacingAndGlyphs">&#8722;20</text>
<line x1="34.3" y1="427.2" x2="37.6" y2="427.2" stroke="#1a1a1a" stroke-width="1.1"/>
<text x="30.8" y="429.7" font-size="6.4" fill="#2b2b2b" stroke="#2b2b2b" stroke-width="0.15" text-anchor="end" textLength="4.05" lengthAdjust="spacingAndGlyphs">0</text>
<line x1="34.3" y1="415.4" x2="37.6" y2="415.4" stroke="#1a1a1a" stroke-width="1.1"/>
<text x="30.8" y="417.9" font-size="6.4" fill="#2b2b2b" stroke="#2b2b2b" stroke-width="0.15" text-anchor="end" textLength="8.1" lengthAdjust="spacingAndGlyphs">20</text>
<line x1="34.3" y1="403.6" x2="37.6" y2="403.6" stroke="#1a1a1a" stroke-width="1.1"/>
<text x="30.8" y="406.1" font-size="6.4" fill="#2b2b2b" stroke="#2b2b2b" stroke-width="0.15" text-anchor="end" textLength="8.1" lengthAdjust="spacingAndGlyphs">40</text>
<line x1="34.3" y1="391.8" x2="37.6" y2="391.8" stroke="#1a1a1a" stroke-width="1.1"/>
<text x="30.8" y="394.3" font-size="6.4" fill="#2b2b2b" stroke="#2b2b2b" stroke-width="0.15" text-anchor="end" textLength="8.1" lengthAdjust="spacingAndGlyphs">60</text>
<line x1="34.3" y1="380" x2="37.6" y2="380" stroke="#1a1a1a" stroke-width="1.1"/>
<text x="30.8" y="382.5" font-size="6.4" fill="#2b2b2b" stroke="#2b2b2b" stroke-width="0.15" text-anchor="end" textLength="8.1" lengthAdjust="spacingAndGlyphs">80</text>
<line x1="34.3" y1="368.2" x2="37.6" y2="368.2" stroke="#1a1a1a" stroke-width="1.1"/>
<text x="30.8" y="370.7" font-size="6.4" fill="#2b2b2b" stroke="#2b2b2b" stroke-width="0.15" text-anchor="end" textLength="12.15" lengthAdjust="spacingAndGlyphs">100</text>
<line x1="75" y1="427.2" x2="75" y2="430.4" stroke="#1a1a1a" stroke-width="1.1"/>
<text x="75" y="438.5" font-size="6.4" fill="#2b2b2b" stroke="#2b2b2b" stroke-width="0.15" text-anchor="middle" textLength="12.15" lengthAdjust="spacingAndGlyphs">200</text>
<line x1="112" y1="427.2" x2="112" y2="430.4" stroke="#1a1a1a" stroke-width="1.1"/>
<text x="112" y="438.5" font-size="6.4" fill="#2b2b2b" stroke="#2b2b2b" stroke-width="0.15" text-anchor="middle" textLength="12.15" lengthAdjust="spacingAndGlyphs">400</text>
<line x1="148.8" y1="427.2" x2="148.8" y2="430.4" stroke="#1a1a1a" stroke-width="1.1"/>
<text x="148.8" y="438.5" font-size="6.4" fill="#2b2b2b" stroke="#2b2b2b" stroke-width="0.15" text-anchor="middle" textLength="12.15" lengthAdjust="spacingAndGlyphs">600</text>
<text x="96" y="364.2" font-size="8.2" fill="#111" text-anchor="middle" textLength="39.5" lengthAdjust="spacingAndGlyphs" stroke="#111" stroke-width="0.12">ADP (1&#956;M)</text>
<text x="12.3" y="402" font-size="7.7" fill="#2b2b2b" text-anchor="middle" textLength="57.8" lengthAdjust="spacingAndGlyphs" transform="rotate(-90 12.3 402)" stroke="#2b2b2b" stroke-width="0.28">Light transmission (%)</text>
<text x="96" y="450.2" font-size="7.6" fill="#2b2b2b" text-anchor="middle" textLength="19.5" lengthAdjust="spacingAndGlyphs" stroke="#2b2b2b" stroke-width="0.25">Time(s)</text>
<polyline points="37.8,428.24 38.05,427.63 38.3,427.38 38.55,427.91 38.8,426.76 39.05,428.1 39.3,426.92 39.55,427.26 39.8,427.98 40.05,427.5 40.3,427.65 40.55,428.32 40.8,428.4 41.05,428.74 41.3,427.15 41.55,428.04 41.8,426.49 42.05,427.95 42.3,428.17 42.55,426.78 42.8,427.25 43.05,427.17 43.3,426.19 43.55,425.53 43.8,426.44 44.05,424.36 44.3,424.88 44.55,424.98 44.8,424.14 45.05,424.52 45.3,424.01 45.55,422.92 45.8,423.2 46.05,422.09 46.3,420.39 46.55,420.44 46.8,420.3 47.05,419.75 47.3,418.11 47.55,420.02 47.8,417.19 48.05,416.95 48.3,417.41 48.55,416.83 48.8,417.24 49.05,416.11 49.3,415.91 49.55,415.87 49.8,414.74 50.05,414.15 50.3,414.41 50.55,415.05 50.8,414.01 51.05,414.69 51.3,413.35 51.55,413.91 51.8,413.27 52.05,413.59 52.3,412.95 52.55,412.96 52.8,412.46 53.05,413.39 53.3,412.52 53.55,412.75 53.8,412.74 54.05,411.72 54.3,411.66 54.55,412.04 54.8,412.79 55.05,411.37 55.3,411.42 55.55,411.5 55.8,411.96 56.05,411.65 56.3,411.9 56.55,412.81 56.8,411.93 57.05,412.68 57.3,412.07 57.55,412.75 57.8,413.31 58.05,411.94 58.3,413.36 58.55,413.68 58.8,413.75 59.05,414.19 59.3,414.54 59.55,413.76 59.8,414.71 60.05,415.43 60.3,416.07 60.55,414.72 60.8,415.43 61.05,415.22 61.3,416.28 61.55,415.9 61.8,416.2 62.05,417.5 62.3,418.64 62.55,416.3 62.8,418.78 63.05,417.49 63.3,418.7 63.55,418.75 63.8,419.53 64.05,418.91 64.3,418.79 64.55,419.5 64.8,420.26 65.05,419.5 65.3,420.52 65.55,420.48 65.8,420.79 66.05,420.86 66.3,421.37 66.55,421.65 66.8,421.14 67.05,421.25 67.3,420.32 67.55,421.24 67.8,421 68.05,422.48 68.3,421.57 68.55,421.92 68.8,422.76 69.05,423.12 69.3,423.31 69.55,422.11 69.8,422.8 70.05,423.34 70.3,422.22 70.55,422.64 70.8,422.04 71.05,422.44 71.3,423.36 71.55,423 71.8,422.73 72.05,422.63 72.3,424.12 72.55,423.63 72.8,422.23 73.05,424.74 73.3,422.88 73.55,423.1 73.8,422.87 74.05,422.83 74.3,423.81 74.55,422.18 74.8,423.39 75.05,423.13 75.3,424.87 75.55,423.78 75.8,423.85 76.05,423.97 76.3,424.06 76.55,423.68 76.8,421.42 77.05,424.02 77.3,423.37 77.55,424.35 77.8,424.01 78.05,423.24 78.3,422.93 78.55,422.83 78.8,424.12 79.05,423.77 79.3,423.02 79.55,423.56 79.8,424.31 80.05,423.29 80.3,423.85 80.55,423.36 80.8,421.32 81.05,424.09 81.3,424.06 81.55,424.83 81.8,425.33 82.05,423.25 82.3,424.61 82.55,424.27 82.8,424.08 83.05,424.85 83.3,424.9 83.55,422.7 83.8,425.52 84.05,423.82 84.3,423.32 84.55,423.29 84.8,423.77 85.05,422.85 85.3,425.12 85.55,424.45 85.8,423.08 86.05,424.85 86.3,424.25 86.55,424.09 86.8,425 87.05,423.91 87.3,423.74 87.55,424.53 87.8,422.13 88.05,422.78 88.3,424.53 88.55,425.11 88.8,422.29 89.05,424.03 89.3,423.34 89.55,423.73 89.8,424.63 90.05,425.55 90.3,425.83 90.55,424.99 90.8,424.68 91.05,424.17 91.3,422.11 91.55,424.43 91.8,422.8 92.05,422.88 92.3,424.15 92.55,422.41 92.8,425.84 93.05,424.65 93.3,424.4 93.55,424.53 93.8,424.28 94.05,424.1 94.3,424.76 94.55,423.34 94.8,424.31 95.05,424.21 95.3,424.83 95.55,422.91 95.8,424.29 96.05,423.91 96.3,424.68 96.55,424.59 96.8,424.23 97.05,424.51 97.3,424.5 97.55,425.44 97.8,424.36 98.05,424.59 98.3,423.09 98.55,423.83 98.8,424.83 99.05,425.12 99.3,423.05 99.55,424.01 99.8,423.77 100.05,424.11 100.3,423.56 100.55,423.62 100.8,423.99 101.05,424.18 101.3,425.1 101.55,423.18 101.8,423.07 102.05,424.86 102.3,424.57 102.55,423.87 102.8,422.88 103.05,425.14 103.3,422.96 103.55,425.22 103.8,424.32 104.05,423.91 104.3,423.89 104.55,424.9 104.8,424.07 105.05,422.29 105.3,423.35 105.55,421.87 105.8,424.48 106.05,425.01 106.3,425.12 106.55,422.69 106.8,426.24 107.05,425.93 107.3,423.96 107.55,422.04 107.8,423.18 108.05,425.14 108.3,426.19 108.55,423.52 108.8,422.19 109.05,423.09 109.3,426.04 109.55,424.07 109.8,422.64 110.05,421.94 110.3,424.73 110.55,424.9 110.8,423.59 111.05,423.88 111.3,424.16 111.55,423.73 111.8,423.52 112.05,423.5 112.3,423.48 112.55,425.34 112.8,424.5 113.05,425.13 113.3,425.97 113.55,421.75 113.8,424.02 114.05,425.07 114.3,423.87 114.55,423.48 114.8,424.5 115.05,423.55 115.3,423.23 115.55,423.78 115.8,424.15 116.05,424.11 116.3,425.02 116.55,424.12 116.8,423.61 117.05,427.21 117.3,423.87 117.55,423.82 117.8,423.95 118.05,423.39 118.3,422.49 118.55,424.3 118.8,425.6 119.05,422.24 119.3,423.33 119.55,424.54 119.8,423.41 120.05,424.65 120.3,424.06 120.55,422.98 120.8,423.89 121.05,423.58 121.3,424.66 121.55,421.52 121.8,424.53 122.05,425.47 122.3,424.27 122.55,424.36 122.8,423.57 123.05,424.46 123.3,423.97 123.55,422.81 123.8,422.91 124.05,421.75 124.3,424.56 124.55,424.3 124.8,425.23 125.05,424.38 125.3,424.83 125.55,422.75 125.8,422.21 126.05,423.54 126.3,423.79 126.55,424.49 126.8,423.99 127.05,423.96 127.3,424.17 127.55,424.39 127.8,424.33 128.05,424.45 128.3,423.62 128.55,424.04 128.8,422.63 129.05,422.99 129.3,423.85 129.55,424.57 129.8,423.36 130.05,422.7 130.3,425.11 130.55,423.28 130.8,422.38 131.05,423.15 131.3,422.93 131.55,421.67 131.8,423.75 132.05,425.86 132.3,423.38 132.55,423.3 132.8,425.31 133.05,424.23 133.3,424.04 133.55,425.53 133.8,422.94 134.05,424.08 134.3,424.66 134.55,424.35 134.8,422.95 135.05,423.2 135.3,425.97 135.55,424.05 135.8,423.88 136.05,425.25 136.3,422.32 136.55,424.1 136.8,422.36 137.05,425.58 137.3,423.14 137.55,424.27 137.8,423.22 138.05,424.29 138.3,424.48 138.55,424.17 138.8,423.84 139.05,424.42 139.3,423.92 139.55,423.65 139.8,424.81 140.05,425.04 140.3,422.79 140.55,423.14 140.8,423.38 141.05,424.47 141.3,422.74 141.55,425.76 141.8,424.21 142.05,424.33 142.3,425.06 142.55,423.41 142.8,424.55 143.05,424.59 143.3,425.49 143.55,423.11 143.8,425.59 144.05,424.79 144.3,424.44 144.55,425.27 144.8,423.93 145.05,423.99 145.3,425.04 145.55,423.83 145.8,425.29 146.05,425.59 146.3,424.41 146.55,424.37 146.8,423.53 147.05,423.26 147.3,425.66 147.55,423.14 147.8,424.28 148.05,424.5 148.3,423.28 148.55,423.5 148.8,423.48" fill="none" stroke="#0f4c8c" stroke-width="1.3" stroke-linejoin="round"/>
<polyline points="37.8,429.43 38.05,427.27 38.3,428.31 38.55,428.91 38.8,427.52 39.05,427.72 39.3,425.45 39.55,424.99 39.8,427.35 40.05,427.14 40.3,423.9 40.55,426.14 40.8,424.81 41.05,425.08 41.3,424.95 41.55,425.73 41.8,422.43 42.05,422.95 42.3,424.29 42.55,422.34 42.8,423.16 43.05,422.29 43.3,420.21 43.55,421.44 43.8,423.02 44.05,421.18 44.3,419.86 44.55,420.95 44.8,421.54 45.05,421.86 45.3,421.54 45.55,421.63 45.8,419.61 46.05,420.03 46.3,419.8 46.55,420.25 46.8,421.43 47.05,422.62 47.3,420.87 47.55,422.55 47.8,422.73 48.05,420.16 48.3,420.69 48.55,421.97 48.8,420.26 49.05,424.28 49.3,419.92 49.55,420.83 49.8,423.36 50.05,421.66 50.3,423.53 50.55,421.62 50.8,424.2 51.05,422.36 51.3,424.05 51.55,424.52 51.8,421.64 52.05,422.5 52.3,421.59 52.55,422.49 52.8,425.05 53.05,424.04 53.3,425.22 53.55,426.03 53.8,425.65 54.05,425.32 54.3,423.95 54.55,424.02 54.8,424.88 55.05,425.56 55.3,425.84 55.55,424.91 55.8,424.21 56.05,424.49 56.3,426.59 56.55,424.95 56.8,427.04 57.05,423.79 57.3,425.72 57.55,424.94 57.8,425.61 58.05,423.81 58.3,425.14 58.55,424.67 58.8,424.43 59.05,423.34 59.3,423.09 59.55,424.41 59.8,425.48 60.05,425.15 60.3,425.13 60.55,425.23 60.8,423.21 61.05,426.12 61.3,424.92 61.55,423.93 61.8,424.18 62.05,426.03 62.3,425.07 62.55,422.83 62.8,427.37 63.05,423.05 63.3,426.9 63.55,425.86 63.8,423.63 64.05,426.34 64.3,426.35 64.55,426.09 64.8,425.62 65.05,425.23 65.3,425.09 65.55,424.19 65.8,425.16 66.05,426.38 66.3,424.71 66.55,427.21 66.8,422.96 67.05,424.87 67.3,423.04 67.55,422.71 67.8,425.14 68.05,424.44 68.3,424.16 68.55,423.55 68.8,424.54 69.05,422.87 69.3,424.59 69.55,424.19 69.8,423.31 70.05,425.33 70.3,422.57 70.55,425.35 70.8,425.15 71.05,425.46 71.3,424.98 71.55,425.79 71.8,424.51 72.05,423.51 72.3,425.28 72.55,423.87 72.8,424.38 73.05,424.97 73.3,423.69 73.55,426.01 73.8,422.96 74.05,426.3 74.3,424.78 74.55,426.88 74.8,426.16 75.05,425.64 75.3,425.17 75.55,424.96 75.8,423.15 76.05,424.14 76.3,423.67 76.55,423.95 76.8,424.66 77.05,423.85 77.3,424.98 77.55,424.5 77.8,424.24 78.05,425.29 78.3,425.38 78.55,423.18 78.8,424.43 79.05,428.36 79.3,424.82 79.55,425.37 79.8,423.73 80.05,425.99 80.3,426.68 80.55,425.51 80.8,424.64 81.05,424.84 81.3,422.49 81.55,425.52 81.8,424.43 82.05,425.28 82.3,425.25 82.55,425.06 82.8,427.36 83.05,425.92 83.3,424 83.55,425.54 83.8,425.57 84.05,424.84 84.3,426.51 84.55,424.35 84.8,422.66 85.05,423.49 85.3,425.27 85.55,423.59 85.8,424.98 86.05,422.95 86.3,425.26 86.55,424.48 86.8,423.68 87.05,424.11 87.3,424.46 87.55,425.9 87.8,425.08 88.05,424.54 88.3,424.98 88.55,425.87 88.8,425.36 89.05,426.93 89.3,423.9 89.55,425.79 89.8,424.94 90.05,424.01 90.3,425.51 90.55,425.8 90.8,425.98 91.05,425.37 91.3,423.71 91.55,424.99 91.8,425.25 92.05,426.82 92.3,424.93 92.55,424.96 92.8,426.69 93.05,424.86 93.3,424.23 93.55,425.13 93.8,425.72 94.05,424.96 94.3,422.72 94.55,424.28 94.8,426 95.05,423.87 95.3,425.82 95.55,424.98 95.8,423.79 96.05,425.75 96.3,422.14 96.55,422.2 96.8,422.86 97.05,425.42 97.3,424.43 97.55,425.54 97.8,424.67 98.05,424.93 98.3,424.12 98.55,424.28 98.8,425.98 99.05,425.71 99.3,423.13 99.55,425.47 99.8,427.24 100.05,425.69 100.3,423.6 100.55,425.67 100.8,425.03 101.05,424.37 101.3,425.95 101.55,426.27 101.8,424.12 102.05,424.91 102.3,424.27 102.55,424.76 102.8,426.71 103.05,424.22 103.3,425.45 103.55,425.07 103.8,424.86 104.05,423.37 104.3,425.52 104.55,423.4 104.8,425.64 105.05,424.64 105.3,424.92 105.55,424.18 105.8,423.7 106.05,423.49 106.3,424.76 106.55,424.64 106.8,425.1 107.05,424.39 107.3,425.69 107.55,424.92 107.8,424.89 108.05,424.45 108.3,424.72 108.55,425.54 108.8,423.88 109.05,423.26 109.3,425.22 109.55,425.26 109.8,424.77 110.05,425.04 110.3,423.14 110.55,423.54 110.8,424.73 111.05,424.7 111.3,423.21 111.55,425.31 111.8,422.4 112.05,426.26 112.3,423.44 112.55,424.04 112.8,423.45 113.05,423.08 113.3,424.34 113.55,422.4 113.8,424.31 114.05,424.93 114.3,424.36 114.55,424.7 114.8,422.95 115.05,422.45 115.3,423.09 115.55,426.03 115.8,425.11 116.05,422.52 116.3,426.82 116.55,425.49 116.8,426.06 117.05,425.96 117.3,426.32 117.55,422.63 117.8,424.81 118.05,423.76 118.3,427.1 118.55,425.56 118.8,424.71 119.05,424.4 119.3,422.11 119.55,424.84 119.8,423.68 120.05,426.39 120.3,425.62 120.55,424.61 120.8,424.22 121.05,426.07 121.3,424.05 121.55,426.06 121.8,424.96 122.05,424.35 122.3,425.16 122.55,426.86 122.8,422.72 123.05,425.63 123.3,425.62 123.55,424.38 123.8,426.51 124.05,425.53 124.3,425.38 124.55,423.45 124.8,425.41 125.05,423.1 125.3,425.32 125.55,427.36 125.8,423.58 126.05,426.63 126.3,423.35 126.55,424.78 126.8,425.58 127.05,422.9 127.3,425.1 127.55,423.73 127.8,423.92 128.05,425.73 128.3,424.59 128.55,425.19 128.8,424.71 129.05,425.16 129.3,426.62 129.55,424.84 129.8,424.33 130.05,424.72 130.3,425.58 130.55,425.25 130.8,422.02 131.05,424.59 131.3,425.22 131.55,427.93 131.8,423.94 132.05,424.34 132.3,423.24 132.55,424.59 132.8,422.48 133.05,423.63 133.3,424.58 133.55,422.8 133.8,424.34 134.05,423.82 134.3,426.24 134.55,426.66 134.8,427.31 135.05,424.85 135.3,425.51 135.55,427.63 135.8,423.86 136.05,426.79 136.3,423.53 136.55,425.99 136.8,422.71 137.05,424.17 137.3,424.42 137.55,424.35 137.8,422.23 138.05,424.82 138.3,424.3 138.55,426.52 138.8,425.39 139.05,421.95 139.3,424.82 139.55,426 139.8,424.54 140.05,423.77 140.3,422.94 140.55,424.2 140.8,423.48 141.05,424.31 141.3,424.25 141.55,426.26 141.8,423.42 142.05,425.07 142.3,423.28 142.55,425 142.8,425.95 143.05,423.94 143.3,423.16 143.55,424.7 143.8,424.68 144.05,423.85 144.3,425.18 144.55,424.74 144.8,425.5 145.05,422.92 145.3,425.6 145.55,426.24 145.8,423.61 146.05,427.14 146.3,424.94 146.55,423 146.8,423.3 147.05,423.7 147.3,423.82 147.55,424.34 147.8,425.02 148.05,424.38 148.3,424.24 148.55,423.42 148.8,422.05" fill="none" stroke="#c8102e" stroke-width="1.3" stroke-linejoin="round"/>
<text x="41.3" y="406.6" font-size="7" fill="#0f4c8c" stroke="#0f4c8c" stroke-width="0.12" textLength="18.6" lengthAdjust="spacingAndGlyphs">GRK2</text>
<text x="60.6" y="403.7" font-size="4.6" fill="#0f4c8c" textLength="7" lengthAdjust="spacingAndGlyphs">&#8722;/&#8722;</text>
<text x="84.5" y="417" font-size="7.2" fill="#c8102e" textLength="11.3" lengthAdjust="spacingAndGlyphs" stroke="#c8102e" stroke-width="0.12">WT</text>
<line x1="214.75" y1="364.6" x2="214.75" y2="442.9" stroke="#1a1a1a" stroke-width="1.1"/>
<line x1="214.75" y1="427.1" x2="334.5" y2="427.1" stroke="#1a1a1a" stroke-width="1.1"/>
<line x1="211.45" y1="438.9" x2="214.75" y2="438.9" stroke="#1a1a1a" stroke-width="1.1"/>
<text x="207.95" y="441.4" font-size="6.4" fill="#2b2b2b" stroke="#2b2b2b" stroke-width="0.15" text-anchor="end" textLength="12.15" lengthAdjust="spacingAndGlyphs">&#8722;20</text>
<line x1="211.45" y1="427.1" x2="214.75" y2="427.1" stroke="#1a1a1a" stroke-width="1.1"/>
<text x="207.95" y="429.6" font-size="6.4" fill="#2b2b2b" stroke="#2b2b2b" stroke-width="0.15" text-anchor="end" textLength="4.05" lengthAdjust="spacingAndGlyphs">0</text>
<line x1="211.45" y1="415.3" x2="214.75" y2="415.3" stroke="#1a1a1a" stroke-width="1.1"/>
<text x="207.95" y="417.8" font-size="6.4" fill="#2b2b2b" stroke="#2b2b2b" stroke-width="0.15" text-anchor="end" textLength="8.1" lengthAdjust="spacingAndGlyphs">20</text>
<line x1="211.45" y1="403.5" x2="214.75" y2="403.5" stroke="#1a1a1a" stroke-width="1.1"/>
<text x="207.95" y="406" font-size="6.4" fill="#2b2b2b" stroke="#2b2b2b" stroke-width="0.15" text-anchor="end" textLength="8.1" lengthAdjust="spacingAndGlyphs">40</text>
<line x1="211.45" y1="391.7" x2="214.75" y2="391.7" stroke="#1a1a1a" stroke-width="1.1"/>
<text x="207.95" y="394.2" font-size="6.4" fill="#2b2b2b" stroke="#2b2b2b" stroke-width="0.15" text-anchor="end" textLength="8.1" lengthAdjust="spacingAndGlyphs">60</text>
<line x1="211.45" y1="379.9" x2="214.75" y2="379.9" stroke="#1a1a1a" stroke-width="1.1"/>
<text x="207.95" y="382.4" font-size="6.4" fill="#2b2b2b" stroke="#2b2b2b" stroke-width="0.15" text-anchor="end" textLength="8.1" lengthAdjust="spacingAndGlyphs">80</text>
<line x1="211.45" y1="368.1" x2="214.75" y2="368.1" stroke="#1a1a1a" stroke-width="1.1"/>
<text x="207.95" y="370.6" font-size="6.4" fill="#2b2b2b" stroke="#2b2b2b" stroke-width="0.15" text-anchor="end" textLength="12.15" lengthAdjust="spacingAndGlyphs">100</text>
<line x1="253.5" y1="427.1" x2="253.5" y2="430.3" stroke="#1a1a1a" stroke-width="1.1"/>
<text x="253.5" y="438.4" font-size="6.4" fill="#2b2b2b" stroke="#2b2b2b" stroke-width="0.15" text-anchor="middle" textLength="12.15" lengthAdjust="spacingAndGlyphs">200</text>
<line x1="291.2" y1="427.1" x2="291.2" y2="430.3" stroke="#1a1a1a" stroke-width="1.1"/>
<text x="291.2" y="438.4" font-size="6.4" fill="#2b2b2b" stroke="#2b2b2b" stroke-width="0.15" text-anchor="middle" textLength="12.15" lengthAdjust="spacingAndGlyphs">400</text>
<line x1="329" y1="427.1" x2="329" y2="430.3" stroke="#1a1a1a" stroke-width="1.1"/>
<text x="329" y="438.4" font-size="6.4" fill="#2b2b2b" stroke="#2b2b2b" stroke-width="0.15" text-anchor="middle" textLength="12.15" lengthAdjust="spacingAndGlyphs">600</text>
<text x="275" y="364.2" font-size="8.2" fill="#111" text-anchor="middle" textLength="40" lengthAdjust="spacingAndGlyphs" stroke="#111" stroke-width="0.12">ADP (2&#956;M)</text>
<text x="189.45" y="401.9" font-size="7.7" fill="#2b2b2b" text-anchor="middle" textLength="57.8" lengthAdjust="spacingAndGlyphs" transform="rotate(-90 189.45 401.9)" stroke="#2b2b2b" stroke-width="0.28">Light transmission (%)</text>
<text x="275.2" y="450.1" font-size="7.6" fill="#2b2b2b" text-anchor="middle" textLength="19.5" lengthAdjust="spacingAndGlyphs" stroke="#2b2b2b" stroke-width="0.25">Time(s)</text>
<polyline points="214.75,426.37 215,425.98 215.25,427.74 215.5,425.16 215.75,428.04 216,424.97 216.25,427.1 216.5,427.32 216.75,426.52 217,426.68 217.25,428.12 217.5,426.76 217.75,427.61 218,427.86 218.25,428.45 218.5,427.25 218.75,429.2 219,428.33 219.25,429.28 219.5,427.8 219.75,429.62 220,428.99 220.25,429.71 220.5,428.89 220.75,429.85 221,429.24 221.25,427.93 221.5,430.48 221.75,428.37 222,428.66 222.25,427.7 222.5,426.87 222.75,426.24 223,426.38 223.25,425.72 223.5,425.05 223.75,422.7 224,423.69 224.25,421.49 224.5,423.51 224.75,421.54 225,421.46 225.25,420.02 225.5,419.5 225.75,418.24 226,419.67 226.25,417.27 226.5,417.75 226.75,415.63 227,415.53 227.25,414.71 227.5,414.31 227.75,413.35 228,413.69 228.25,413.09 228.5,410.51 228.75,410.97 229,409.73 229.25,411.49 229.5,409.01 229.75,410.21 230,409.54 230.25,408.98 230.5,406.84 230.75,409.86 231,407.77 231.25,408.23 231.5,408.34 231.75,406.27 232,406.11 232.25,408.45 232.5,408.49 232.75,405.77 233,406.29 233.25,407.07 233.5,405.89 233.75,407.08 234,406.25 234.25,405.46 234.5,405.98 234.75,404.76 235,406.23 235.25,404.38 235.5,406.15 235.75,407.21 236,403.26 236.25,406.39 236.5,403.43 236.75,404.69 237,406.39 237.25,405.66 237.5,405.24 237.75,404.93 238,404.71 238.25,404.93 238.5,404.29 238.75,404.21 239,403.39 239.25,406.17 239.5,404.65 239.75,406.48 240,405.5 240.25,405.32 240.5,404 240.75,404.84 241,405.19 241.25,405.12 241.5,405.04 241.75,403.33 242,405.11 242.25,405.32 242.5,405.25 242.75,405.6 243,404.73 243.25,405.62 243.5,407.97 243.75,406.05 244,406.68 244.25,406.66 244.5,407.51 244.75,407.45 245,409.95 245.25,407.49 245.5,409.88 245.75,408.51 246,409.58 246.25,411.7 246.5,409.71 246.75,410.01 247,407.76 247.25,410.29 247.5,410.68 247.75,411.29 248,411.67 248.25,410.78 248.5,411.21 248.75,413.01 249,412.39 249.25,412.95 249.5,413.79 249.75,413.59 250,413.89 250.25,413.04 250.5,414.21 250.75,412.93 251,416.18 251.25,414.16 251.5,416.52 251.75,414.82 252,415.35 252.25,416.81 252.5,416.07 252.75,416.26 253,416.07 253.25,416.29 253.5,416.09 253.75,416.25 254,415.54 254.25,417.12 254.5,416.72 254.75,418.78 255,419.55 255.25,419.52 255.5,417 255.75,417.87 256,418.22 256.25,417.17 256.5,419.99 256.75,419.42 257,419.21 257.25,420.78 257.5,419.69 257.75,419.16 258,419.82 258.25,419.33 258.5,420.3 258.75,418.9 259,420.57 259.25,419.98 259.5,419.96 259.75,420.1 260,420.41 260.25,419.13 260.5,421.22 260.75,420.64 261,422.44 261.25,420.98 261.5,421.9 261.75,421.16 262,421.16 262.25,420.33 262.5,421.07 262.75,421.06 263,419.57 263.25,421.5 263.5,421.23 263.75,422.2 264,422.89 264.25,421.78 264.5,423.12 264.75,423.22 265,422.85 265.25,421.95 265.5,422.38 265.75,423.76 266,423.73 266.25,423.43 266.5,420.96 266.75,420.53 267,424.14 267.25,423.25 267.5,423.86 267.75,423.23 268,422.5 268.25,423.22 268.5,422.82 268.75,424.24 269,423.71 269.25,422.17 269.5,422.38 269.75,424.01 270,423.93 270.25,423.43 270.5,423.5 270.75,422.1 271,422.47 271.25,423.72 271.5,421.63 271.75,423.74 272,423.84 272.25,423.92 272.5,424.12 272.75,425.1 273,423.66 273.25,422.68 273.5,421.89 273.75,421.42 274,423.57 274.25,424.3 274.5,422 274.75,423.7 275,422.9 275.25,423.33 275.5,423.76 275.75,423.59 276,422.47 276.25,424.25 276.5,423.44 276.75,421.84 277,424.27 277.25,425.01 277.5,423.2 277.75,425.04 278,422.1 278.25,423.33 278.5,424.76 278.75,424.77 279,424.04 279.25,424.55 279.5,423.18 279.75,424.23 280,424.45 280.25,424.44 280.5,423.91 280.75,424.34 281,423.97 281.25,424.13 281.5,422.11 281.75,424.12 282,422.68 282.25,423.21 282.5,423.61 282.75,423.79 283,422.32 283.25,423.06 283.5,423.79 283.75,423.17 284,423.59 284.25,423.78 284.5,423.76 284.75,423.04 285,423.73 285.25,424.1 285.5,422.35 285.75,424.3 286,422.61 286.25,423.91 286.5,424.14 286.75,424.17 287,422.43 287.25,422.68 287.5,422.43 287.75,424.11 288,423.69 288.25,421.83 288.5,424.27 288.75,424.7 289,423.05 289.25,423.48 289.5,423.8 289.75,422.58 290,423.14 290.25,424.09 290.5,423.22 290.75,423.55 291,423.67 291.25,425.22 291.5,423.81 291.75,423.89 292,423.1 292.25,424.76 292.5,423.62 292.75,423.53 293,424.84 293.25,424.87 293.5,422.65 293.75,423.25 294,424.81 294.25,423.09 294.5,425.1 294.75,423.4 295,425.47 295.25,422.6 295.5,421.64 295.75,422.12 296,425.51 296.25,422.84 296.5,423.12 296.75,422.99 297,422.82 297.25,423.71 297.5,423.68 297.75,422.93 298,423.03 298.25,424.89 298.5,424.51 298.75,424.55 299,424.8 299.25,423.36 299.5,424.44 299.75,425.21 300,422.73 300.25,424.92 300.5,421.08 300.75,421.64 301,422.08 301.25,422.55 301.5,422.58 301.75,423.06 302,424.38 302.25,422.81 302.5,423.18 302.75,422.24 303,421.93 303.25,423.37 303.5,422.79 303.75,424.45 304,423.67 304.25,421.7 304.5,424.29 304.75,422.33 305,423.14 305.25,422.48 305.5,422.7 305.75,422.93 306,422.33 306.25,422.79 306.5,423.26 306.75,424.29 307,424.27 307.25,425.38 307.5,421.88 307.75,423.14 308,424.79 308.25,422.38 308.5,423.37 308.75,424.29 309,425.14 309.25,424.14 309.5,423.88 309.75,423.38 310,424.19 310.25,423.65 310.5,423.9 310.75,422.87 311,423.41 311.25,422.62 311.5,422.4 311.75,422.66 312,422.66 312.25,422.84 312.5,422.93 312.75,421.94 313,423.86 313.25,423.87 313.5,425.16 313.75,421.06 314,422.04 314.25,422.51 314.5,422.61 314.75,423.6 315,422.64 315.25,422.72 315.5,424.31 315.75,423.34 316,421.82 316.25,424.54 316.5,425.91 316.75,424.73 317,423.36 317.25,424.98 317.5,423.46 317.75,423.16 318,423.8 318.25,424.92 318.5,423.66 318.75,423.21 319,422.05 319.25,423.73 319.5,422.38 319.75,423.43 320,422.04 320.25,422.6 320.5,422.49 320.75,422.81 321,422.3 321.25,424.86 321.5,424.37 321.75,423.17 322,422.41 322.25,424.71 322.5,423.27 322.75,424.15 323,424.62 323.25,423.09 323.5,424.01 323.75,424.02 324,423.06 324.25,423.34 324.5,422.85 324.75,419.83 325,423.11 325.25,425.33 325.5,424.64 325.75,426.51 326,423.61 326.25,424.5 326.5,422.85 326.75,422.71 327,422.57 327.25,424.03 327.5,424.38 327.75,421.43 328,424.3 328.25,424.53 328.5,424.4 328.75,422.12" fill="none" stroke="#0f4c8c" stroke-width="1.3" stroke-linejoin="round"/>
<polyline points="214.75,427.11 215,427.21 215.25,425.59 215.5,425.76 215.75,428.86 216,426.15 216.25,426.29 216.5,424.96 216.75,426.13 217,427.83 217.25,426.95 217.5,425.86 217.75,426.58 218,426.82 218.25,426.96 218.5,425.66 218.75,426.72 219,425.88 219.25,425.98 219.5,425.69 219.75,425.71 220,426.49 220.25,424.59 220.5,425.58 220.75,426.9 221,424 221.25,424 221.5,423.73 221.75,424.41 222,421.86 222.25,422.68 222.5,421.64 222.75,422.49 223,420.38 223.25,421.35 223.5,418.67 223.75,419.16 224,417.8 224.25,417.97 224.5,417.31 224.75,417.74 225,418.96 225.25,417.27 225.5,419.27 225.75,418.47 226,417.33 226.25,417.01 226.5,417.21 226.75,416.48 227,417.54 227.25,417.23 227.5,415.75 227.75,417.3 228,417.77 228.25,417.44 228.5,417.69 228.75,417.58 229,417.39 229.25,418.82 229.5,419.35 229.75,418.28 230,419.39 230.25,418.17 230.5,420.25 230.75,418.87 231,419.8 231.25,420.77 231.5,419.87 231.75,420.55 232,421.57 232.25,420.57 232.5,421.54 232.75,422.4 233,421.97 233.25,421.38 233.5,421.94 233.75,422.26 234,422.63 234.25,423.23 234.5,421.53 234.75,422.86 235,423.18 235.25,424.37 235.5,421.99 235.75,422.57 236,424.17 236.25,423.48 236.5,424.54 236.75,423.68 237,423.27 237.25,423.87 237.5,425.04 237.75,424.66 238,424.24 238.25,424.23 238.5,425.05 238.75,424.69 239,424.4 239.25,424.85 239.5,424.34 239.75,423.33 240,425.09 240.25,425.38 240.5,425.57 240.75,424.35 241,423.4 241.25,424.82 241.5,423.99 241.75,422.91 242,424.69 242.25,423.92 242.5,424.67 242.75,424.19 243,425.32 243.25,425.34 243.5,425.03 243.75,425.61 244,424.12 244.25,426.64 244.5,423.06 244.75,425.21 245,425.46 245.25,424.2 245.5,424.65 245.75,423.49 246,424.15 246.25,424.79 246.5,423.41 246.75,422.8 247,424.2 247.25,423.76 247.5,423.65 247.75,424.35 248,423.27 248.25,425.45 248.5,425.5 248.75,424.5 249,423.94 249.25,424.41 249.5,424.36 249.75,423.74 250,423.86 250.25,424.82 250.5,423.62 250.75,423.85 251,424.02 251.25,423.52 251.5,424.64 251.75,423.26 252,425.25 252.25,425.06 252.5,424.38 252.75,425.18 253,425.4 253.25,424.05 253.5,424.36 253.75,423.85 254,424.07 254.25,424.05 254.5,424.48 254.75,424.87 255,426.41 255.25,424.71 255.5,425.27 255.75,424.19 256,425.91 256.25,424.51 256.5,424.24 256.75,424.14 257,424.42 257.25,424.03 257.5,424.56 257.75,426.02 258,424.46 258.25,423.69 258.5,422.67 258.75,424.29 259,423.45 259.25,423.67 259.5,424.52 259.75,424.71 260,424.82 260.25,425.46 260.5,423.5 260.75,423.77 261,423.56 261.25,423.44 261.5,423.77 261.75,423.58 262,425.02 262.25,423.37 262.5,426.44 262.75,422.43 263,425.16 263.25,422.89 263.5,423.91 263.75,423.22 264,424.37 264.25,424.82 264.5,423.97 264.75,423.74 265,423.42 265.25,423.56 265.5,423.55 265.75,423.71 266,424.42 266.25,425.2 266.5,423.68 266.75,422.41 267,424 267.25,425.14 267.5,423.36 267.75,424.7 268,423.23 268.25,423.12 268.5,424.56 268.75,422.55 269,423.94 269.25,421.71 269.5,423.32 269.75,424.7 270,423.85 270.25,423.64 270.5,424.85 270.75,423.43 271,423.2 271.25,423.92 271.5,424.25 271.75,424.46 272,424.14 272.25,425.48 272.5,424.87 272.75,424.18 273,426.58 273.25,422.77 273.5,424.55 273.75,423.54 274,426.44 274.25,424.59 274.5,425.13 274.75,424.7 275,425.77 275.25,423.76 275.5,425.21 275.75,422.59 276,424.87 276.25,425.44 276.5,425.17 276.75,424.9 277,422.42 277.25,424.38 277.5,423.96 277.75,425.83 278,424.84 278.25,424.95 278.5,425.61 278.75,424.83 279,422.91 279.25,423.47 279.5,422.17 279.75,425.52 280,424.09 280.25,422.98 280.5,424.79 280.75,423.85 281,423.97 281.25,425.61 281.5,422.18 281.75,422.78 282,424.18 282.25,424.02 282.5,425.44 282.75,423.91 283,424.82 283.25,426.05 283.5,422.87 283.75,422.8 284,423.54 284.25,424.05 284.5,423.13 284.75,424.54 285,423.47 285.25,425.45 285.5,424.8 285.75,424.97 286,424.5 286.25,424.48 286.5,422.56 286.75,424.03 287,422.4 287.25,425.65 287.5,423.07 287.75,423.3 288,423.78 288.25,426.58 288.5,423.09 288.75,426.02 289,424.4 289.25,426.99 289.5,424.02 289.75,423.67 290,424.23 290.25,423.67 290.5,423.49 290.75,425.01 291,423.77 291.25,425.2 291.5,424.89 291.75,425.24 292,425.94 292.25,425.39 292.5,423.23 292.75,425.68 293,421.59 293.25,425.61 293.5,425.56 293.75,423.09 294,425.62 294.25,422.21 294.5,425.33 294.75,423.8 295,423.93 295.25,424.05 295.5,423.63 295.75,425.04 296,424.19 296.25,424.19 296.5,424.29 296.75,423.84 297,423.13 297.25,424.89 297.5,425.15 297.75,422.94 298,425.29 298.25,425.62 298.5,424.43 298.75,425.85 299,421.84 299.25,425.75 299.5,423.41 299.75,424.56 300,423.22 300.25,426.95 300.5,423.78 300.75,424.97 301,422.6 301.25,423.9 301.5,424.71 301.75,424.1 302,423.39 302.25,425.89 302.5,422.5 302.75,424.32 303,424.03 303.25,423.81 303.5,424.95 303.75,424.49 304,424.02 304.25,424.96 304.5,424.13 304.75,424.82 305,425.66 305.25,424.49 305.5,424.29 305.75,423.57 306,425.83 306.25,425.31 306.5,424.82 306.75,424.57 307,423.27 307.25,424.31 307.5,424.56 307.75,422.89 308,423.12 308.25,424.09 308.5,426.41 308.75,424.63 309,422.55 309.25,425.67 309.5,425.24 309.75,425.03 310,423.58 310.25,424.08 310.5,426.74 310.75,425.5 311,429.52 311.25,422.1 311.5,422.38 311.75,423.71 312,423.15 312.25,423.43 312.5,425.05 312.75,425.76 313,422.54 313.25,424.87 313.5,425.21 313.75,424.5 314,425.79 314.25,425.57 314.5,423.25 314.75,424.37 315,424.52 315.25,422.79 315.5,423.93 315.75,425.41 316,424.66 316.25,424.24 316.5,427.26 316.75,424.94 317,425.33 317.25,423.17 317.5,425.65 317.75,423.68 318,423.99 318.25,423.7 318.5,422.67 318.75,424.88 319,422.72 319.25,425.19 319.5,423.23 319.75,425.72 320,424.6 320.25,425.6 320.5,422.86 320.75,424.88 321,425.09 321.25,424.53 321.5,424.06 321.75,423.49 322,420.25 322.25,424.81 322.5,422.65 322.75,422.93 323,424.64 323.25,420.96 323.5,423.26 323.75,425.03 324,424.22 324.25,423.93 324.5,423.23 324.75,424.41 325,422.3 325.25,423.5 325.5,425.17 325.75,423.06 326,424.02 326.25,423.73 326.5,422.64 326.75,421.75 327,423.1 327.25,423.23 327.5,422.9 327.75,424.11 328,424.57 328.25,424.96 328.5,424.62 328.75,422.73" fill="none" stroke="#c8102e" stroke-width="1.3" stroke-linejoin="round"/>
<text x="220" y="398.3" font-size="7" fill="#0f4c8c" stroke="#0f4c8c" stroke-width="0.12" textLength="18.6" lengthAdjust="spacingAndGlyphs">GRK2</text>
<text x="239.3" y="395.4" font-size="4.6" fill="#0f4c8c" textLength="7" lengthAdjust="spacingAndGlyphs">&#8722;/&#8722;</text>
<text x="289.8" y="418" font-size="7.2" fill="#c8102e" textLength="11.3" lengthAdjust="spacingAndGlyphs" stroke="#c8102e" stroke-width="0.12">WT</text>
<line x1="392.75" y1="364.75" x2="392.75" y2="443.05" stroke="#1a1a1a" stroke-width="1.1"/>
<line x1="392.75" y1="427.25" x2="509.5" y2="427.25" stroke="#1a1a1a" stroke-width="1.1"/>
<line x1="389.45" y1="439.05" x2="392.75" y2="439.05" stroke="#1a1a1a" stroke-width="1.1"/>
<text x="385.95" y="441.55" font-size="6.4" fill="#2b2b2b" stroke="#2b2b2b" stroke-width="0.15" text-anchor="end" textLength="12.15" lengthAdjust="spacingAndGlyphs">&#8722;20</text>
<line x1="389.45" y1="427.25" x2="392.75" y2="427.25" stroke="#1a1a1a" stroke-width="1.1"/>
<text x="385.95" y="429.75" font-size="6.4" fill="#2b2b2b" stroke="#2b2b2b" stroke-width="0.15" text-anchor="end" textLength="4.05" lengthAdjust="spacingAndGlyphs">0</text>
<line x1="389.45" y1="415.45" x2="392.75" y2="415.45" stroke="#1a1a1a" stroke-width="1.1"/>
<text x="385.95" y="417.95" font-size="6.4" fill="#2b2b2b" stroke="#2b2b2b" stroke-width="0.15" text-anchor="end" textLength="8.1" lengthAdjust="spacingAndGlyphs">20</text>
<line x1="389.45" y1="403.65" x2="392.75" y2="403.65" stroke="#1a1a1a" stroke-width="1.1"/>
<text x="385.95" y="406.15" font-size="6.4" fill="#2b2b2b" stroke="#2b2b2b" stroke-width="0.15" text-anchor="end" textLength="8.1" lengthAdjust="spacingAndGlyphs">40</text>
<line x1="389.45" y1="391.85" x2="392.75" y2="391.85" stroke="#1a1a1a" stroke-width="1.1"/>
<text x="385.95" y="394.35" font-size="6.4" fill="#2b2b2b" stroke="#2b2b2b" stroke-width="0.15" text-anchor="end" textLength="8.1" lengthAdjust="spacingAndGlyphs">60</text>
<line x1="389.45" y1="380.05" x2="392.75" y2="380.05" stroke="#1a1a1a" stroke-width="1.1"/>
<text x="385.95" y="382.55" font-size="6.4" fill="#2b2b2b" stroke="#2b2b2b" stroke-width="0.15" text-anchor="end" textLength="8.1" lengthAdjust="spacingAndGlyphs">80</text>
<line x1="389.45" y1="368.25" x2="392.75" y2="368.25" stroke="#1a1a1a" stroke-width="1.1"/>
<text x="385.95" y="370.75" font-size="6.4" fill="#2b2b2b" stroke="#2b2b2b" stroke-width="0.15" text-anchor="end" textLength="12.15" lengthAdjust="spacingAndGlyphs">100</text>
<line x1="429.5" y1="427.25" x2="429.5" y2="430.45" stroke="#1a1a1a" stroke-width="1.1"/>
<text x="429.5" y="438.55" font-size="6.4" fill="#2b2b2b" stroke="#2b2b2b" stroke-width="0.15" text-anchor="middle" textLength="12.15" lengthAdjust="spacingAndGlyphs">200</text>
<line x1="467.2" y1="427.25" x2="467.2" y2="430.45" stroke="#1a1a1a" stroke-width="1.1"/>
<text x="467.2" y="438.55" font-size="6.4" fill="#2b2b2b" stroke="#2b2b2b" stroke-width="0.15" text-anchor="middle" textLength="12.15" lengthAdjust="spacingAndGlyphs">400</text>
<line x1="504.3" y1="427.25" x2="504.3" y2="430.45" stroke="#1a1a1a" stroke-width="1.1"/>
<text x="504.3" y="438.55" font-size="6.4" fill="#2b2b2b" stroke="#2b2b2b" stroke-width="0.15" text-anchor="middle" textLength="12.15" lengthAdjust="spacingAndGlyphs">600</text>
<text x="451" y="364.2" font-size="8.2" fill="#111" text-anchor="middle" textLength="39.5" lengthAdjust="spacingAndGlyphs" stroke="#111" stroke-width="0.12">ADP (5&#956;M)</text>
<text x="367.45" y="402.05" font-size="7.7" fill="#2b2b2b" text-anchor="middle" textLength="57.8" lengthAdjust="spacingAndGlyphs" transform="rotate(-90 367.45 402.05)" stroke="#2b2b2b" stroke-width="0.28">Light transmission (%)</text>
<text x="451.2" y="450.25" font-size="7.6" fill="#2b2b2b" text-anchor="middle" textLength="19.5" lengthAdjust="spacingAndGlyphs" stroke="#2b2b2b" stroke-width="0.25">Time(s)</text>
<polyline points="392.75,426.28 393,425.22 393.25,425.48 393.5,423.49 393.75,425.59 394,426.59 394.25,424.93 394.5,425.51 394.75,424.11 395,424.89 395.25,424.82 395.5,425.56 395.75,425.24 396,425.45 396.25,424.6 396.5,424.51 396.75,425.43 397,427.25 397.25,424.14 397.5,424.99 397.75,425.26 398,423.42 398.25,422.35 398.5,423.42 398.75,422.57 399,421.3 399.25,422.23 399.5,420.93 399.75,419.7 400,418.05 400.25,419.08 400.5,418.24 400.75,417.25 401,416.99 401.25,414.29 401.5,413.49 401.75,414.02 402,412.89 402.25,411.7 402.5,410.54 402.75,410.84 403,409.42 403.25,409.05 403.5,406.63 403.75,406.73 404,406.18 404.25,405.88 404.5,402.96 404.75,403.48 405,402.42 405.25,402.3 405.5,401.5 405.75,401.31 406,401.02 406.25,400.05 406.5,399.34 406.75,399.81 407,399.92 407.25,398.33 407.5,397.16 407.75,399.17 408,398.01 408.25,398.84 408.5,396.04 408.75,395.76 409,395.73 409.25,395.59 409.5,394.01 409.75,396.08 410,393.53 410.25,392.01 410.5,394.54 410.75,393.29 411,394.42 411.25,392.76 411.5,392.35 411.75,391.45 412,392.09 412.25,392.94 412.5,395.26 412.75,393.65 413,392.18 413.25,394.07 413.5,392.82 413.75,390.53 414,390.52 414.25,390.63 414.5,391.44 414.75,391.94 415,391.14 415.25,391.08 415.5,390.57 415.75,391.63 416,392.22 416.25,390.27 416.5,392.6 416.75,390.42 417,390.94 417.25,392.89 417.5,391.76 417.75,391.14 418,389.08 418.25,391.09 418.5,390.6 418.75,390.69 419,392 419.25,390.26 419.5,392.63 419.75,390.79 420,390.86 420.25,390.33 420.5,390.7 420.75,391.95 421,390.77 421.25,389.44 421.5,389.64 421.75,391.59 422,390.92 422.25,389.42 422.5,390.13 422.75,390.32 423,390.77 423.25,389.14 423.5,390.2 423.75,388.7 424,389.2 424.25,389.73 424.5,391.33 424.75,389.79 425,391.57 425.25,390.19 425.5,391.11 425.75,389.57 426,387.85 426.25,387.44 426.5,389.25 426.75,391.54 427,389.5 427.25,389.13 427.5,390.28 427.75,389.24 428,389.22 428.25,389.8 428.5,390 428.75,388.96 429,388.71 429.25,391.22 429.5,388.62 429.75,388.57 430,389.31 430.25,389.34 430.5,389.78 430.75,391.1 431,390.82 431.25,389.39 431.5,389.54 431.75,390.44 432,389.29 432.25,389.61 432.5,388.29 432.75,389.88 433,389.38 433.25,387.97 433.5,389.75 433.75,391.86 434,389.89 434.25,388.7 434.5,390.92 434.75,389.95 435,389.79 435.25,391.2 435.5,390.58 435.75,391.84 436,388.79 436.25,389.19 436.5,389.58 436.75,389.9 437,388.44 437.25,390.02 437.5,388.24 437.75,389.14 438,389.49 438.25,390.06 438.5,390.16 438.75,389.05 439,390.25 439.25,390.25 439.5,389.86 439.75,390.02 440,389.48 440.25,391.99 440.5,391.56 440.75,390.4 441,391.58 441.25,389.26 441.5,389.67 441.75,389.91 442,390.77 442.25,389.98 442.5,389.38 442.75,388.79 443,389.25 443.25,391.47 443.5,391.02 443.75,389.02 444,392.57 444.25,390.08 444.5,390.13 444.75,390.46 445,390.71 445.25,390.28 445.5,390.67 445.75,391.57 446,391.74 446.25,390.04 446.5,390.62 446.75,390 447,390.37 447.25,390.76 447.5,390.54 447.75,391.55 448,389.93 448.25,391.37 448.5,391.77 448.75,390.65 449,390.66 449.25,391.69 449.5,390.65 449.75,390.72 450,391.32 450.25,388.44 450.5,391.9 450.75,391.43 451,391.82 451.25,389.71 451.5,390.77 451.75,391.75 452,391.92 452.25,390.75 452.5,390.97 452.75,393.2 453,391.9 453.25,393.02 453.5,390.28 453.75,392.28 454,391.29 454.25,391.41 454.5,393.41 454.75,390.95 455,391.14 455.25,391.48 455.5,392.05 455.75,392.42 456,392.92 456.25,393.89 456.5,393.11 456.75,394.6 457,393.9 457.25,393.41 457.5,392.72 457.75,394.46 458,392.69 458.25,394.18 458.5,393.2 458.75,392.62 459,394.03 459.25,394.13 459.5,393.78 459.75,394.72 460,393.72 460.25,392.85 460.5,393.82 460.75,395.86 461,392.81 461.25,391.94 461.5,394.01 461.75,392.95 462,395.63 462.25,394.4 462.5,393.27 462.75,394.3 463,393.4 463.25,395.04 463.5,395.61 463.75,395.99 464,395.88 464.25,394.77 464.5,396.17 464.75,395.47 465,393.59 465.25,396.59 465.5,394.17 465.75,394.57 466,393.58 466.25,394.46 466.5,393.11 466.75,394.16 467,394.68 467.25,394.35 467.5,395.32 467.75,396.71 468,395.56 468.25,396.46 468.5,397.28 468.75,395.45 469,397.85 469.25,396.23 469.5,396.3 469.75,396.83 470,398.02 470.25,395.22 470.5,397.68 470.75,396.19 471,396.9 471.25,395.75 471.5,394.12 471.75,398.34 472,397.95 472.25,395.99 472.5,396.23 472.75,395.98 473,397.35 473.25,399.77 473.5,397.4 473.75,395.72 474,398.53 474.25,396.76 474.5,396.06 474.75,398.36 475,397.99 475.25,398.27 475.5,398.95 475.75,399.31 476,395.95 476.25,398.57 476.5,399.75 476.75,399.93 477,397.43 477.25,396.61 477.5,397.49 477.75,399.24 478,398.62 478.25,399.83 478.5,398.75 478.75,397.56 479,397.79 479.25,398.83 479.5,400.09 479.75,400.88 480,398.11 480.25,399.8 480.5,399.28 480.75,398.08 481,398.11 481.25,401.28 481.5,399.05 481.75,399.5 482,400.17 482.25,400.11 482.5,400.54 482.75,398.88 483,399.41 483.25,400.19 483.5,400.34 483.75,399.17 484,398.1 484.25,401.09 484.5,401.12 484.75,401.28 485,400.11 485.25,398.24 485.5,399.89 485.75,402.72 486,400.8 486.25,400.79 486.5,398.68 486.75,399.86 487,401.77 487.25,401.08 487.5,400.6 487.75,402.24 488,401.67 488.25,401.53 488.5,400.76 488.75,401.49 489,402.25 489.25,401.46 489.5,399.7 489.75,401 490,400.93 490.25,401.79 490.5,402.83 490.75,401.34 491,400.97 491.25,402.38 491.5,402.13 491.75,400.73 492,402.23 492.25,401.97 492.5,402.21 492.75,400.09 493,399.62 493.25,400.22 493.5,400.07 493.75,403.21 494,403.3 494.25,400.69 494.5,403.95 494.75,400.99 495,401.42 495.25,404.93 495.5,400.97 495.75,403.35 496,403.54 496.25,403.93 496.5,403.46 496.75,403.04 497,404.6 497.25,402.77 497.5,403.03 497.75,403.44 498,402.63 498.25,402.91 498.5,404.56 498.75,405.09 499,403.96 499.25,403.18 499.5,402.78 499.75,402.96 500,403.04 500.25,403.01 500.5,403.48 500.75,403.38 501,404.96 501.25,402.09 501.5,403.32 501.75,404.82 502,403.44 502.25,403.49 502.5,404.68 502.75,403.99 503,403 503.25,404.37 503.5,405 503.75,402.28" fill="none" stroke="#0f4c8c" stroke-width="1.3" stroke-linejoin="round"/>
<polyline points="392.75,430.16 393,427.63 393.25,429.1 393.5,427.13 393.75,428.2 394,427.72 394.25,428.39 394.5,427.19 394.75,426.64 395,426.11 395.25,426.69 395.5,425.92 395.75,426.4 396,425.37 396.25,425.48 396.5,424.39 396.75,423.29 397,422.45 397.25,422.44 397.5,421.94 397.75,419.44 398,420.3 398.25,418.86 398.5,418.66 398.75,418.27 399,414.98 399.25,415.8 399.5,415.99 399.75,412.72 400,413.88 400.25,413.18 400.5,412.22 400.75,413.15 401,412.74 401.25,411.49 401.5,412.35 401.75,412.04 402,410.55 402.25,410.9 402.5,410.69 402.75,411.25 403,410.13 403.25,409.77 403.5,408.98 403.75,409.31 404,409.87 404.25,408.12 404.5,407.99 404.75,407.12 405,410.49 405.25,407.6 405.5,407.46 405.75,407.36 406,409.03 406.25,408.19 406.5,405.83 406.75,407.96 407,409.68 407.25,407.93 407.5,408.19 407.75,411.03 408,408.04 408.25,408.17 408.5,409.11 408.75,411.01 409,409.12 409.25,407.16 409.5,408.76 409.75,408.81 410,409.92 410.25,408.92 410.5,409.55 410.75,408.26 411,408.4 411.25,409.84 411.5,411.52 411.75,409.14 412,408.79 412.25,411.8 412.5,411.34 412.75,412.04 413,411.42 413.25,412.13 413.5,412.12 413.75,412.52 414,414.51 414.25,412.82 414.5,413.27 414.75,414.14 415,414.47 415.25,416.7 415.5,415.49 415.75,416.5 416,415.52 416.25,417.63 416.5,418.22 416.75,418.67 417,417.02 417.25,418.21 417.5,416.75 417.75,420.87 418,419.62 418.25,421.45 418.5,422.01 418.75,421.54 419,420.42 419.25,421.04 419.5,422.08 419.75,419.87 420,422.82 420.25,423.03 420.5,422.64 420.75,421.79 421,422.46 421.25,420.92 421.5,421.59 421.75,422.14 422,422 422.25,424.18 422.5,423.27 422.75,420.95 423,424.09 423.25,423.61 423.5,423.02 423.75,422.65 424,425.09 424.25,423.56 424.5,423.63 424.75,422.07 425,423 425.25,424.31 425.5,423.7 425.75,423.24 426,423.41 426.25,422.34 426.5,421.64 426.75,424.27 427,422.6 427.25,422.53 427.5,424.22 427.75,424.8 428,423.72 428.25,425.02 428.5,424.12 428.75,421.37 429,425.55 429.25,423.21 429.5,425.56 429.75,423.96 430,424.17 430.25,423.84 430.5,423.4 430.75,424.84 431,425.8 431.25,425.49 431.5,423.89 431.75,424.85 432,425.36 432.25,424.97 432.5,423.33 432.75,426.32 433,423.87 433.25,423.82 433.5,424.7 433.75,424.81 434,424.13 434.25,423.49 434.5,423.59 434.75,424.71 435,423.05 435.25,425.76 435.5,425.36 435.75,425 436,425.01 436.25,424.07 436.5,424.38 436.75,425.71 437,424.47 437.25,426.39 437.5,425.9 437.75,425.63 438,424.81 438.25,424.18 438.5,424.88 438.75,424.14 439,424.67 439.25,424.67 439.5,424.48 439.75,426.01 440,424.16 440.25,424.28 440.5,426.03 440.75,425.18 441,425.39 441.25,424.36 441.5,425.23 441.75,426.12 442,424.93 442.25,425.3 442.5,426.02 442.75,425.44 443,426.02 443.25,423.78 443.5,423.25 443.75,423.83 444,425.25 444.25,424.22 444.5,422.98 444.75,426.5 445,426.04 445.25,424.32 445.5,424.2 445.75,424.16 446,425.47 446.25,425.21 446.5,424.91 446.75,426.05 447,424 447.25,423.64 447.5,424.75 447.75,424.7 448,424.83 448.25,425.11 448.5,423.28 448.75,426.2 449,423.03 449.25,425.01 449.5,425.02 449.75,425.46 450,424.89 450.25,423.9 450.5,424.48 450.75,423.36 451,424.49 451.25,424.42 451.5,422.86 451.75,426.71 452,424.06 452.25,425.14 452.5,425.86 452.75,424.59 453,424.23 453.25,423.56 453.5,423.92 453.75,423.93 454,424.47 454.25,425.38 454.5,424.8 454.75,426.05 455,425 455.25,424.84 455.5,421.69 455.75,424.46 456,424.87 456.25,423.19 456.5,424.55 456.75,423.93 457,424.41 457.25,424.57 457.5,424.34 457.75,424.55 458,424.95 458.25,424.91 458.5,423.96 458.75,425.49 459,424.66 459.25,424.96 459.5,426.29 459.75,426.22 460,426.72 460.25,424.37 460.5,425 460.75,425.07 461,424.7 461.25,424.46 461.5,425.41 461.75,425.71 462,426.74 462.25,424.08 462.5,425.05 462.75,423.86 463,424.33 463.25,422.28 463.5,426.68 463.75,423.03 464,424.7 464.25,422.84 464.5,424.26 464.75,423.58 465,422.53 465.25,423.56 465.5,424.36 465.75,424.47 466,422.67 466.25,425.21 466.5,424.27 466.75,423.46 467,426.09 467.25,423.89 467.5,424.81 467.75,426.09 468,424.64 468.25,424.47 468.5,425.53 468.75,424.15 469,424.65 469.25,424.43 469.5,424.19 469.75,425.32 470,424.85 470.25,425.99 470.5,424.96 470.75,423.16 471,424.97 471.25,424.28 471.5,424.32 471.75,425.54 472,424.99 472.25,422.95 472.5,426.59 472.75,424.43 473,422.92 473.25,424.23 473.5,425.05 473.75,423.43 474,423.69 474.25,422.75 474.5,424.83 474.75,424.02 475,426.1 475.25,424.84 475.5,424.8 475.75,423.93 476,425.55 476.25,423.15 476.5,424.84 476.75,425.04 477,423.75 477.25,423.34 477.5,425.73 477.75,426.42 478,424.95 478.25,426.43 478.5,425.02 478.75,424.35 479,424.13 479.25,423.29 479.5,425.49 479.75,423.96 480,423.89 480.25,424.92 480.5,425.04 480.75,423.78 481,424.76 481.25,424.38 481.5,424.68 481.75,424.39 482,424.1 482.25,422.01 482.5,423.92 482.75,425.77 483,424.19 483.25,424.71 483.5,425.16 483.75,423.48 484,424.61 484.25,424.25 484.5,424.91 484.75,425.16 485,424.61 485.25,424.3 485.5,425.52 485.75,424.65 486,422.97 486.25,425.84 486.5,425 486.75,423.9 487,424.46 487.25,423.52 487.5,424.66 487.75,422.96 488,425.58 488.25,425.01 488.5,423.46 488.75,425.05 489,422.98 489.25,423.95 489.5,423.45 489.75,425.24 490,425.24 490.25,423.06 490.5,424.67 490.75,425 491,424.08 491.25,427.02 491.5,422.74 491.75,425.82 492,425.99 492.25,424 492.5,423.14 492.75,425.63 493,421.67 493.25,424.26 493.5,422.75 493.75,424.25 494,423.65 494.25,422.84 494.5,424.83 494.75,425.46 495,422.72 495.25,424.88 495.5,424.27 495.75,423.41 496,423.56 496.25,424.72 496.5,425.31 496.75,423.78 497,421.4 497.25,424.91 497.5,424.47 497.75,421.91 498,423.42 498.25,423.92 498.5,423.55 498.75,424.13 499,422.77 499.25,424.38 499.5,420.61 499.75,423.93 500,422.83 500.25,423.28 500.5,424.06 500.75,424.77 501,422.1 501.25,423.04 501.5,421.96 501.75,423.07 502,422.31 502.25,421.57 502.5,424.05 502.75,423.15 503,422.69 503.25,424.09 503.5,420.75 503.75,422.96" fill="none" stroke="#c8102e" stroke-width="1.3" stroke-linejoin="round"/>
<text x="396.2" y="383.8" font-size="7" fill="#0f4c8c" stroke="#0f4c8c" stroke-width="0.12" textLength="18.6" lengthAdjust="spacingAndGlyphs">GRK2</text>
<text x="415.5" y="380.9" font-size="4.6" fill="#0f4c8c" textLength="7" lengthAdjust="spacingAndGlyphs">&#8722;/&#8722;</text>
<text x="421.2" y="418.8" font-size="7.2" fill="#c8102e" textLength="11.3" lengthAdjust="spacingAndGlyphs" stroke="#c8102e" stroke-width="0.12">WT</text>
<line x1="37.6" y1="469.55" x2="37.6" y2="546.95" stroke="#1a1a1a" stroke-width="1.1"/>
<line x1="37.6" y1="531.3" x2="154.3" y2="531.3" stroke="#1a1a1a" stroke-width="1.1"/>
<line x1="34.3" y1="542.95" x2="37.6" y2="542.95" stroke="#1a1a1a" stroke-width="1.1"/>
<text x="30.8" y="545.45" font-size="6.4" fill="#2b2b2b" stroke="#2b2b2b" stroke-width="0.15" text-anchor="end" textLength="12.15" lengthAdjust="spacingAndGlyphs">&#8722;20</text>
<line x1="34.3" y1="531.3" x2="37.6" y2="531.3" stroke="#1a1a1a" stroke-width="1.1"/>
<text x="30.8" y="533.8" font-size="6.4" fill="#2b2b2b" stroke="#2b2b2b" stroke-width="0.15" text-anchor="end" textLength="4.05" lengthAdjust="spacingAndGlyphs">0</text>
<line x1="34.3" y1="519.65" x2="37.6" y2="519.65" stroke="#1a1a1a" stroke-width="1.1"/>
<text x="30.8" y="522.15" font-size="6.4" fill="#2b2b2b" stroke="#2b2b2b" stroke-width="0.15" text-anchor="end" textLength="8.1" lengthAdjust="spacingAndGlyphs">20</text>
<line x1="34.3" y1="508" x2="37.6" y2="508" stroke="#1a1a1a" stroke-width="1.1"/>
<text x="30.8" y="510.5" font-size="6.4" fill="#2b2b2b" stroke="#2b2b2b" stroke-width="0.15" text-anchor="end" textLength="8.1" lengthAdjust="spacingAndGlyphs">40</text>
<line x1="34.3" y1="496.35" x2="37.6" y2="496.35" stroke="#1a1a1a" stroke-width="1.1"/>
<text x="30.8" y="498.85" font-size="6.4" fill="#2b2b2b" stroke="#2b2b2b" stroke-width="0.15" text-anchor="end" textLength="8.1" lengthAdjust="spacingAndGlyphs">60</text>
<line x1="34.3" y1="484.7" x2="37.6" y2="484.7" stroke="#1a1a1a" stroke-width="1.1"/>
<text x="30.8" y="487.2" font-size="6.4" fill="#2b2b2b" stroke="#2b2b2b" stroke-width="0.15" text-anchor="end" textLength="8.1" lengthAdjust="spacingAndGlyphs">80</text>
<line x1="34.3" y1="473.05" x2="37.6" y2="473.05" stroke="#1a1a1a" stroke-width="1.1"/>
<text x="30.8" y="475.55" font-size="6.4" fill="#2b2b2b" stroke="#2b2b2b" stroke-width="0.15" text-anchor="end" textLength="12.15" lengthAdjust="spacingAndGlyphs">100</text>
<line x1="74.5" y1="531.3" x2="74.5" y2="534.5" stroke="#1a1a1a" stroke-width="1.1"/>
<text x="74.5" y="542.6" font-size="6.4" fill="#2b2b2b" stroke="#2b2b2b" stroke-width="0.15" text-anchor="middle" textLength="12.15" lengthAdjust="spacingAndGlyphs">200</text>
<line x1="111.8" y1="531.3" x2="111.8" y2="534.5" stroke="#1a1a1a" stroke-width="1.1"/>
<text x="111.8" y="542.6" font-size="6.4" fill="#2b2b2b" stroke="#2b2b2b" stroke-width="0.15" text-anchor="middle" textLength="12.15" lengthAdjust="spacingAndGlyphs">400</text>
<line x1="148.75" y1="531.3" x2="148.75" y2="534.5" stroke="#1a1a1a" stroke-width="1.1"/>
<text x="148.75" y="542.6" font-size="6.4" fill="#2b2b2b" stroke="#2b2b2b" stroke-width="0.15" text-anchor="middle" textLength="12.15" lengthAdjust="spacingAndGlyphs">600</text>
<text x="95.3" y="465.6" font-size="8.2" fill="#111" text-anchor="middle" textLength="119.5" lengthAdjust="spacingAndGlyphs" stroke="#111" stroke-width="0.12">PAR4-AP (75&#956;M)+Apyrase (1U/ml)</text>
<text x="12.3" y="506.1" font-size="7.7" fill="#2b2b2b" text-anchor="middle" textLength="57.8" lengthAdjust="spacingAndGlyphs" transform="rotate(-90 12.3 506.1)" stroke="#2b2b2b" stroke-width="0.28">Light transmission (%)</text>
<text x="95.8" y="554.3" font-size="7.6" fill="#2b2b2b" text-anchor="middle" textLength="19.5" lengthAdjust="spacingAndGlyphs" stroke="#2b2b2b" stroke-width="0.25">Time(s)</text>
<polyline points="37.8,532.86 38.05,531.19 38.3,530.75 38.55,530.82 38.8,532.54 39.05,532.4 39.3,531.77 39.55,532.28 39.8,530.92 40.05,531.09 40.3,531.79 40.55,529.95 40.81,530.6 41.06,530.06 41.31,529.03 41.56,529.78 41.81,529.02 42.06,530.06 42.31,529.42 42.56,530.53 42.81,531.36 43.06,532.76 43.31,532.29 43.56,531.05 43.81,531.73 44.06,533.7 44.31,531.68 44.56,531.83 44.81,529.69 45.06,531.06 45.31,532.46 45.56,530.26 45.81,530.72 46.06,530.85 46.32,531.37 46.57,531.99 46.82,529.99 47.07,532.06 47.32,529.24 47.57,530.7 47.82,531.83 48.07,530.49 48.32,530.76 48.57,531.02 48.82,532.84 49.07,530.61 49.32,532.3 49.57,533.15 49.82,531.15 50.07,530.78 50.32,531.47 50.57,530.61 50.82,531.15 51.07,530.55 51.32,530.2 51.57,530.1 51.83,532.25 52.08,530.88 52.33,530.48 52.58,532.38 52.83,531.31 53.08,531.17 53.33,530.81 53.58,531.46 53.83,531.19 54.08,531.09 54.33,531.31 54.58,532.12 54.83,531.29 55.08,532.58 55.33,532.29 55.58,530.58 55.83,530.63 56.08,530.35 56.33,530.8 56.58,532.07 56.83,531.16 57.08,531.03 57.34,531.54 57.59,529.59 57.84,531.73 58.09,531.29 58.34,532.02 58.59,531.19 58.84,532.31 59.09,532.36 59.34,531.2 59.59,531.94 59.84,530.68 60.09,530.84 60.34,530.51 60.59,531.27 60.84,530.41 61.09,530.51 61.34,531.26 61.59,530.19 61.84,531.95 62.09,530.65 62.34,531.23 62.59,531.18 62.85,532.31 63.1,531.96 63.35,531.24 63.6,530.94 63.85,532.18 64.1,531.32 64.35,530.55 64.6,531.55 64.85,531.98 65.1,531.41 65.35,531.49 65.6,532.71 65.85,530.99 66.1,532.09 66.35,532.78 66.6,532.9 66.85,530.46 67.1,531.9 67.35,531.56 67.6,533.49 67.85,532.53 68.1,532.31 68.36,532.46 68.61,531.92 68.86,530.55 69.11,533.36 69.36,529.99 69.61,532.11 69.86,532.11 70.11,531.61 70.36,532.31 70.61,531.43 70.86,532.14 71.11,531.66 71.36,530.82 71.61,532.29 71.86,530.97 72.11,531.99 72.36,530.56 72.61,531.65 72.86,531.92 73.11,532.44 73.36,530.52 73.61,530.98 73.87,531.44 74.12,530.57 74.37,531.97 74.62,533.48 74.87,532.03 75.12,531.99 75.37,530.74 75.62,531.94 75.87,531.91 76.12,533.14 76.37,531.15 76.62,532.51 76.87,531.15 77.12,531.22 77.37,531.09 77.62,531.69 77.87,530.17 78.12,531.14 78.37,532.73 78.62,529.9 78.87,532.21 79.12,532.12 79.37,531.09 79.63,530.79 79.88,532.43 80.13,531.16 80.38,531.72 80.63,531.27 80.88,530.5 81.13,532.34 81.38,532.02 81.63,530.65 81.88,532.4 82.13,530.38 82.38,530.36 82.63,532.19 82.88,531.09 83.13,531.46 83.38,532.82 83.63,530.53 83.88,531.98 84.13,531.11 84.38,531.54 84.63,531.27 84.88,530.78 85.14,531.5 85.39,530.67 85.64,531.47 85.89,530.64 86.14,531.22 86.39,531.57 86.64,530.26 86.89,531.4 87.14,532.06 87.39,531.56 87.64,532.25 87.89,530.6 88.14,531.96 88.39,531.73 88.64,529.1 88.89,531.45 89.14,532.21 89.39,531.4 89.64,531.49 89.89,531.34 90.14,531.32 90.39,530.56 90.65,530.87 90.9,529.58 91.15,533.24 91.4,531.44 91.65,531.65 91.9,531.99 92.15,531.89 92.4,531.39 92.65,530.11 92.9,530.43 93.15,532.9 93.4,531.82 93.65,532.02 93.9,530.55 94.15,531.05 94.4,531.68 94.65,530.79 94.9,532.48 95.15,530.8 95.4,531.09 95.65,530.47 95.9,531.76 96.16,532.56 96.41,531.64 96.66,531.45 96.91,531.15 97.16,532.14 97.41,531.46 97.66,532.96 97.91,531.23 98.16,531.13 98.41,531.01 98.66,529.83 98.91,531.65 99.16,531.57 99.41,530.09 99.66,530.46 99.91,530.54 100.16,531.19 100.41,530.58 100.66,532.11 100.91,532.48 101.16,530.9 101.41,531.48 101.67,530.55 101.92,532.58 102.17,530.53 102.42,530.78 102.67,531.46 102.92,530.76 103.17,533.74 103.42,531.29 103.67,531.25 103.92,530.61 104.17,531.38 104.42,530.94 104.67,531.1 104.92,532.31 105.17,530.95 105.42,531.81 105.67,530.92 105.92,532.31 106.17,530.81 106.42,530.63 106.67,531.24 106.92,532.52 107.18,531.11 107.43,530.71 107.68,531.33 107.93,530.85 108.18,531.68 108.43,530.87 108.68,531.73 108.93,532.22 109.18,531.88 109.43,532.74 109.68,531.71 109.93,533.03 110.18,532.54 110.43,531.22 110.68,532.12 110.93,530.83 111.18,531.28 111.43,531.38 111.68,530.79 111.93,531.72 112.18,531.38 112.43,533.15 112.68,532.11 112.94,531.25 113.19,530.88 113.44,531 113.69,530.87 113.94,530.82 114.19,531.46 114.44,530.31 114.69,531.19 114.94,531.87 115.19,530.96 115.44,530.5 115.69,531.03 115.94,532.18 116.19,530.81 116.44,532.77 116.69,530.05 116.94,530.77 117.19,531.97 117.44,532.6 117.69,531.28 117.94,530.05 118.19,531.22 118.45,530.69 118.7,530.87 118.95,531.14 119.2,530.95 119.45,531.42 119.7,531.58 119.95,531.21 120.2,529.94 120.45,531.3 120.7,529.24 120.95,531.51 121.2,531.1 121.45,530.67 121.7,533.23 121.95,532.86 122.2,532.59 122.45,531.64 122.7,531.04 122.95,531.85 123.2,532.83 123.45,531.38 123.7,531.33 123.96,530.96 124.21,531.4 124.46,532.16 124.71,530.68 124.96,532.35 125.21,531.57 125.46,533.34 125.71,531.62 125.96,532.53 126.21,530.62 126.46,533.5 126.71,531.53 126.96,531.39 127.21,532.73 127.46,531.59 127.71,530.42 127.96,531.98 128.21,531.92 128.46,531.45 128.71,531.07 128.96,530.09 129.21,532.88 129.47,531.09 129.72,531.76 129.97,531.04 130.22,530.86 130.47,531.7 130.72,530.71 130.97,532.26 131.22,530.1 131.47,531.97 131.72,532.46 131.97,531.09 132.22,531.65 132.47,532.16 132.72,531.09 132.97,531.27 133.22,531.31 133.47,533.77 133.72,530.77 133.97,531.32 134.22,531.09 134.47,531 134.72,530.68 134.98,530.91 135.23,531.6 135.48,532.45 135.73,532.84 135.98,530.38 136.23,530.64 136.48,531.44 136.73,530.64 136.98,530.81 137.23,531.28 137.48,530.99 137.73,530.75 137.98,531.65 138.23,530.81 138.48,531.24 138.73,531.74 138.98,532.07 139.23,531.64 139.48,532.39 139.73,531.59 139.98,530.22 140.23,532.71 140.49,533.88 140.74,532.15 140.99,532.82 141.24,532.4 141.49,531.1 141.74,532 141.99,530.89 142.24,530.99 142.49,531.95 142.74,531.55 142.99,530.92 143.24,530.28 143.49,532.15 143.74,531.47 143.99,531.59 144.24,530.73 144.49,530.82 144.74,531.43 144.99,529.9 145.24,532.49 145.49,531.49 145.74,532.39 146,532.28 146.25,530.99 146.5,531.91 146.75,530.53 147,530.7 147.25,532.6 147.5,531.02 147.75,530.82 148,531.87 148.25,531.5 148.5,532.3 148.75,530.4" fill="none" stroke="#0f4c8c" stroke-width="1.1" stroke-linejoin="round"/>
<polyline points="37.8,531.08 38.05,530.46 38.3,531.3 38.55,531.07 38.8,530.56 39.05,529.96 39.3,530.25 39.55,531.99 39.8,531 40.05,530.45 40.3,531.41 40.55,530.43 40.81,531.98 41.06,531.94 41.31,531.31 41.56,530.84 41.81,529.89 42.06,531.65 42.31,532.82 42.56,531.43 42.81,530.87 43.06,531.89 43.31,530.98 43.56,530.35 43.81,531.2 44.06,531.73 44.31,529.89 44.56,532.07 44.81,532.52 45.06,531.26 45.31,530.91 45.56,530.2 45.81,531.69 46.06,531.07 46.32,532.2 46.57,532.46 46.82,532.22 47.07,531.42 47.32,529.9 47.57,532.28 47.82,530.91 48.07,530.91 48.32,532.1 48.57,531.64 48.82,530.49 49.07,531.03 49.32,531.06 49.57,531.17 49.82,530.39 50.07,532.41 50.32,531.18 50.57,531.78 50.82,532.08 51.07,532.93 51.32,531.83 51.57,530.73 51.83,530.95 52.08,531.94 52.33,532.54 52.58,530.17 52.83,532.74 53.08,530.86 53.33,531.14 53.58,530.95 53.83,531.73 54.08,531.14 54.33,531.25 54.58,530.58 54.83,532.39 55.08,531.56 55.33,531.25 55.58,532.9 55.83,531.78 56.08,532.33 56.33,531.08 56.58,531.39 56.83,531.17 57.08,531.95 57.34,531.51 57.59,530 57.84,531.72 58.09,531.12 58.34,531.48 58.59,532.02 58.84,531.08 59.09,531.77 59.34,531.3 59.59,531.22 59.84,530.9 60.09,531.21 60.34,531.05 60.59,531.89 60.84,529.54 61.09,531.72 61.34,531.23 61.59,530.49 61.84,531.88 62.09,531.26 62.34,531.71 62.59,532.31 62.85,531.45 63.1,530.08 63.35,530.08 63.6,531.25 63.85,530.37 64.1,532.92 64.35,531.22 64.6,529.93 64.85,529.64 65.1,530.88 65.35,529.45 65.6,531.66 65.85,529.54 66.1,531.95 66.35,530.92 66.6,532.14 66.85,530.4 67.1,530.94 67.35,532.12 67.6,530.06 67.85,531.8 68.1,532.39 68.36,530.53 68.61,531.17 68.86,532.55 69.11,532.42 69.36,532.53 69.61,531.21 69.86,531.01 70.11,531.16 70.36,531.01 70.61,531.92 70.86,531.93 71.11,531.68 71.36,530.77 71.61,531.89 71.86,531.67 72.11,531.47 72.36,532.23 72.61,531.01 72.86,531.39 73.11,532.13 73.36,530.72 73.61,531.97 73.87,531.86 74.12,532.43 74.37,532.28 74.62,530.86 74.87,532.66 75.12,530.95 75.37,530.4 75.62,531.08 75.87,531.03 76.12,530.62 76.37,532.04 76.62,531.69 76.87,531.77 77.12,530.25 77.37,532.69 77.62,531.66 77.87,532.19 78.12,531.57 78.37,531.58 78.62,531.88 78.87,531.43 79.12,532.35 79.37,530.91 79.63,529.76 79.88,531.03 80.13,531.29 80.38,531.61 80.63,531.38 80.88,531.63 81.13,531.64 81.38,531.18 81.63,531.72 81.88,531.73 82.13,530.72 82.38,529.97 82.63,531.47 82.88,531.68 83.13,532.12 83.38,532.15 83.63,531.53 83.88,532.19 84.13,530.87 84.38,530.95 84.63,532.33 84.88,530.4 85.14,531.29 85.39,530.51 85.64,530.39 85.89,532.92 86.14,529.97 86.39,532.65 86.64,530.96 86.89,530.74 87.14,530.05 87.39,531.47 87.64,531.78 87.89,531.75 88.14,530.62 88.39,532.55 88.64,531.46 88.89,531.71 89.14,531.76 89.39,531.74 89.64,531.06 89.89,531.58 90.14,530.77 90.39,531.5 90.65,530.58 90.9,530.23 91.15,530.86 91.4,531.2 91.65,530.79 91.9,531.08 92.15,530.89 92.4,531.34 92.65,532.63 92.9,531.75 93.15,531.95 93.4,532.06 93.65,531.96 93.9,531.63 94.15,531.95 94.4,532.12 94.65,531.19 94.9,531.1 95.15,531.3 95.4,531.27 95.65,531.66 95.9,530.98 96.16,531 96.41,531.49 96.66,531.68 96.91,531.23 97.16,530.19 97.41,531.13 97.66,531.94 97.91,531.14 98.16,532.25 98.41,530.93 98.66,531.13 98.91,531.91 99.16,532.18 99.41,531.09 99.66,532.41 99.91,531.46 100.16,531.61 100.41,532.67 100.66,531.94 100.91,531.15 101.16,531.27 101.41,530.63 101.67,532.15 101.92,531.58 102.17,532.72 102.42,532.23 102.67,531.33 102.92,530.86 103.17,531.08 103.42,532.26 103.67,531.22 103.92,532.17 104.17,532.24 104.42,532.44 104.67,531.5 104.92,531.85 105.17,530.36 105.42,531.58 105.67,531.34 105.92,532.02 106.17,530 106.42,531.08 106.67,533.04 106.92,531.44 107.18,530.96 107.43,531.4 107.68,531.22 107.93,531.06 108.18,531.77 108.43,531.52 108.68,532.17 108.93,533.2 109.18,531.86 109.43,531.59 109.68,532.42 109.93,530.28 110.18,532.67 110.43,530.47 110.68,530.97 110.93,531.36 111.18,530.32 111.43,530.85 111.68,531.44 111.93,531.63 112.18,530.28 112.43,529.08 112.68,531.82 112.94,530.07 113.19,531.58 113.44,531.67 113.69,531.92 113.94,530.9 114.19,530.87 114.44,533.63 114.69,531.24 114.94,530.55 115.19,530.34 115.44,531.13 115.69,532.6 115.94,531.84 116.19,530.65 116.44,530.28 116.69,530.85 116.94,531.3 117.19,531.53 117.44,531.69 117.69,532.15 117.94,530.32 118.19,530.16 118.45,531.25 118.7,531.76 118.95,530.9 119.2,531.52 119.45,531.25 119.7,532.19 119.95,531.16 120.2,530.97 120.45,531.7 120.7,532.07 120.95,530.83 121.2,531.24 121.45,530.77 121.7,530.47 121.95,533.15 122.2,530.86 122.45,531.07 122.7,531.06 122.95,530.7 123.2,531.22 123.45,531.25 123.7,531.6 123.96,530.9 124.21,530.26 124.46,531.21 124.71,531.85 124.96,532.27 125.21,531.25 125.46,531.11 125.71,530.76 125.96,532.44 126.21,530.87 126.46,530.93 126.71,531.28 126.96,531.14 127.21,531.37 127.46,531.63 127.71,532.59 127.96,531.7 128.21,531.63 128.46,530.21 128.71,532.98 128.96,531.71 129.21,531.98 129.47,531.07 129.72,531.25 129.97,531.03 130.22,531.19 130.47,531.01 130.72,531.91 130.97,532.12 131.22,531.29 131.47,531.09 131.72,531.95 131.97,531.16 132.22,531.73 132.47,530.83 132.72,532.37 132.97,530.97 133.22,531.74 133.47,532.61 133.72,531.62 133.97,531.12 134.22,531.88 134.47,532.47 134.72,529.65 134.98,531.02 135.23,531.21 135.48,531.97 135.73,530.19 135.98,531.93 136.23,531.37 136.48,531.74 136.73,530.55 136.98,532.29 137.23,533.28 137.48,531.41 137.73,531.77 137.98,530.53 138.23,529.18 138.48,531.26 138.73,531.15 138.98,531.83 139.23,531.37 139.48,530.31 139.73,529.63 139.98,532.15 140.23,532.05 140.49,531.22 140.74,531.13 140.99,531.84 141.24,530.92 141.49,530.34 141.74,532.26 141.99,530.27 142.24,531.01 142.49,532.3 142.74,531.68 142.99,532.14 143.24,532.45 143.49,531.47 143.74,530.21 143.99,530.02 144.24,529.65 144.49,531.88 144.74,530.23 144.99,531.22 145.24,531.39 145.49,531.58 145.74,531.3 146,532.29 146.25,531.58 146.5,532.13 146.75,531.26 147,531.34 147.25,531.45 147.5,531.68 147.75,531.92 148,530.95 148.25,531.79 148.5,533.42 148.75,529.28" fill="none" stroke="#c8102e" stroke-width="1.15" stroke-linejoin="round"/>
<text x="48.8" y="525" font-size="7" fill="#0f4c8c" stroke="#0f4c8c" stroke-width="0.12" textLength="18.6" lengthAdjust="spacingAndGlyphs">GRK2</text>
<text x="68.1" y="522.1" font-size="4.6" fill="#0f4c8c" textLength="7" lengthAdjust="spacingAndGlyphs">&#8722;/&#8722;</text>
<text x="102.5" y="525" font-size="7.2" fill="#c8102e" textLength="11.7" lengthAdjust="spacingAndGlyphs" stroke="#c8102e" stroke-width="0.12">WT</text>
<line x1="212.4" y1="469.75" x2="212.4" y2="547.15" stroke="#1a1a1a" stroke-width="1.1"/>
<line x1="212.4" y1="531.5" x2="331.5" y2="531.5" stroke="#1a1a1a" stroke-width="1.1"/>
<line x1="209.1" y1="543.15" x2="212.4" y2="543.15" stroke="#1a1a1a" stroke-width="1.1"/>
<text x="205.6" y="545.65" font-size="6.4" fill="#2b2b2b" stroke="#2b2b2b" stroke-width="0.15" text-anchor="end" textLength="12.15" lengthAdjust="spacingAndGlyphs">&#8722;20</text>
<line x1="209.1" y1="531.5" x2="212.4" y2="531.5" stroke="#1a1a1a" stroke-width="1.1"/>
<text x="205.6" y="534" font-size="6.4" fill="#2b2b2b" stroke="#2b2b2b" stroke-width="0.15" text-anchor="end" textLength="4.05" lengthAdjust="spacingAndGlyphs">0</text>
<line x1="209.1" y1="519.85" x2="212.4" y2="519.85" stroke="#1a1a1a" stroke-width="1.1"/>
<text x="205.6" y="522.35" font-size="6.4" fill="#2b2b2b" stroke="#2b2b2b" stroke-width="0.15" text-anchor="end" textLength="8.1" lengthAdjust="spacingAndGlyphs">20</text>
<line x1="209.1" y1="508.2" x2="212.4" y2="508.2" stroke="#1a1a1a" stroke-width="1.1"/>
<text x="205.6" y="510.7" font-size="6.4" fill="#2b2b2b" stroke="#2b2b2b" stroke-width="0.15" text-anchor="end" textLength="8.1" lengthAdjust="spacingAndGlyphs">40</text>
<line x1="209.1" y1="496.55" x2="212.4" y2="496.55" stroke="#1a1a1a" stroke-width="1.1"/>
<text x="205.6" y="499.05" font-size="6.4" fill="#2b2b2b" stroke="#2b2b2b" stroke-width="0.15" text-anchor="end" textLength="8.1" lengthAdjust="spacingAndGlyphs">60</text>
<line x1="209.1" y1="484.9" x2="212.4" y2="484.9" stroke="#1a1a1a" stroke-width="1.1"/>
<text x="205.6" y="487.4" font-size="6.4" fill="#2b2b2b" stroke="#2b2b2b" stroke-width="0.15" text-anchor="end" textLength="8.1" lengthAdjust="spacingAndGlyphs">80</text>
<line x1="209.1" y1="473.25" x2="212.4" y2="473.25" stroke="#1a1a1a" stroke-width="1.1"/>
<text x="205.6" y="475.75" font-size="6.4" fill="#2b2b2b" stroke="#2b2b2b" stroke-width="0.15" text-anchor="end" textLength="12.15" lengthAdjust="spacingAndGlyphs">100</text>
<line x1="250.75" y1="531.5" x2="250.75" y2="534.7" stroke="#1a1a1a" stroke-width="1.1"/>
<text x="250.75" y="542.8" font-size="6.4" fill="#2b2b2b" stroke="#2b2b2b" stroke-width="0.15" text-anchor="middle" textLength="12.15" lengthAdjust="spacingAndGlyphs">200</text>
<line x1="288.5" y1="531.5" x2="288.5" y2="534.7" stroke="#1a1a1a" stroke-width="1.1"/>
<text x="288.5" y="542.8" font-size="6.4" fill="#2b2b2b" stroke="#2b2b2b" stroke-width="0.15" text-anchor="middle" textLength="12.15" lengthAdjust="spacingAndGlyphs">400</text>
<line x1="326" y1="531.5" x2="326" y2="534.7" stroke="#1a1a1a" stroke-width="1.1"/>
<text x="326" y="542.8" font-size="6.4" fill="#2b2b2b" stroke="#2b2b2b" stroke-width="0.15" text-anchor="middle" textLength="12.15" lengthAdjust="spacingAndGlyphs">600</text>
<text x="272.1" y="465.6" font-size="8.2" fill="#111" text-anchor="middle" textLength="124.3" lengthAdjust="spacingAndGlyphs" stroke="#111" stroke-width="0.12">PAR4-AP (100&#956;M)+Apyrase (1U/ml)</text>
<text x="187.1" y="506.3" font-size="7.7" fill="#2b2b2b" text-anchor="middle" textLength="57.8" lengthAdjust="spacingAndGlyphs" transform="rotate(-90 187.1 506.3)" stroke="#2b2b2b" stroke-width="0.28">Light transmission (%)</text>
<text x="272.5" y="554.5" font-size="7.6" fill="#2b2b2b" text-anchor="middle" textLength="19.5" lengthAdjust="spacingAndGlyphs" stroke="#2b2b2b" stroke-width="0.25">Time(s)</text>
<polyline points="212.4,531.48 212.65,530.48 212.9,530.34 213.15,529.86 213.4,529.13 213.65,530.95 213.9,529.72 214.15,532.6 214.4,531.02 214.65,532.76 214.9,530.77 215.15,528.93 215.41,531.15 215.66,530.94 215.91,531.75 216.16,528.12 216.41,531.03 216.66,532.65 216.91,531.2 217.16,528.98 217.41,531.74 217.66,531.89 217.91,532.93 218.16,532.14 218.41,530.61 218.66,532.91 218.91,532.51 219.16,533.05 219.41,531.71 219.66,532.85 219.91,529.84 220.16,530.53 220.41,532.29 220.66,533.15 220.92,532.16 221.17,531.76 221.42,531.43 221.67,531.18 221.92,532.42 222.17,529.97 222.42,531.62 222.67,532.57 222.92,530 223.17,529.52 223.42,530.47 223.67,531.18 223.92,531.53 224.17,530.67 224.42,531.6 224.67,530.63 224.92,529.84 225.17,531.6 225.42,530.86 225.67,530.36 225.92,529.63 226.17,528.97 226.42,529.94 226.68,531.13 226.93,529.95 227.18,529.59 227.43,529.94 227.68,530.86 227.93,530.81 228.18,531.22 228.43,529.68 228.68,531.32 228.93,531.34 229.18,530.46 229.43,530.86 229.68,531.26 229.93,530.29 230.18,529.33 230.43,530.3 230.68,530.14 230.93,530.33 231.18,531.71 231.43,529.76 231.68,529.5 231.93,530.55 232.18,529.61 232.44,528.6 232.69,529.73 232.94,530.18 233.19,528.15 233.44,530.6 233.69,530.71 233.94,528.33 234.19,529.31 234.44,529.35 234.69,529.42 234.94,529.14 235.19,529.4 235.44,528.19 235.69,528.54 235.94,528.59 236.19,528.94 236.44,530.06 236.69,529.16 236.94,527.58 237.19,528.63 237.44,529.78 237.69,529.84 237.95,529.46 238.2,528.06 238.45,528.4 238.7,527.76 238.95,526.52 239.2,527.29 239.45,526.73 239.7,525.84 239.95,526.57 240.2,526.19 240.45,526.06 240.7,526.56 240.95,524.73 241.2,525.3 241.45,525.16 241.7,524.72 241.95,524.33 242.2,523.8 242.45,522.04 242.7,521.24 242.95,522.05 243.2,521.71 243.45,520.7 243.71,520.24 243.96,519.97 244.21,521.2 244.46,519.07 244.71,519.27 244.96,518.57 245.21,517.56 245.46,517.67 245.71,515.72 245.96,515.47 246.21,513.96 246.46,514.35 246.71,514.75 246.96,512.5 247.21,512.77 247.46,512.09 247.71,511.78 247.96,510.91 248.21,511.12 248.46,509.04 248.71,510.11 248.96,511.48 249.22,508.21 249.47,510.07 249.72,508.13 249.97,508.02 250.22,510.52 250.47,508.96 250.72,508.66 250.97,509.66 251.22,508.28 251.47,507.19 251.72,504.32 251.97,507.9 252.22,509.03 252.47,506.15 252.72,504.99 252.97,504.16 253.22,507.05 253.47,502.9 253.72,506.47 253.97,506.93 254.22,505.04 254.47,504.1 254.72,505.09 254.98,507.63 255.23,503.66 255.48,504.09 255.73,505.94 255.98,504.16 256.23,506.97 256.48,503.83 256.73,502.99 256.98,502.47 257.23,504.34 257.48,506.34 257.73,504.55 257.98,503.53 258.23,501.95 258.48,504.81 258.73,503.26 258.98,508.17 259.23,502.33 259.48,501.99 259.73,502.07 259.98,504.55 260.23,505.2 260.48,504.57 260.74,506.17 260.99,505.33 261.24,503.08 261.49,506.97 261.74,502.71 261.99,504.39 262.24,504.07 262.49,505.94 262.74,503.88 262.99,504.49 263.24,500.51 263.49,503.73 263.74,504.09 263.99,506.43 264.24,500.82 264.49,501.73 264.74,505.26 264.99,507.82 265.24,504.08 265.49,500.17 265.74,500.75 265.99,503.2 266.25,502.32 266.5,504.71 266.75,505.7 267,505.24 267.25,502.25 267.5,502.68 267.75,503.57 268,504.64 268.25,504.9 268.5,503.24 268.75,505.73 269,505.19 269.25,503.43 269.5,504.31 269.75,506.74 270,505.11 270.25,503.47 270.5,503.42 270.75,505.67 271,504.68 271.25,504.27 271.5,502.76 271.75,503.58 272.01,504.33 272.26,507.12 272.51,501.79 272.76,504.26 273.01,502.41 273.26,501.63 273.51,508.05 273.76,501.82 274.01,506.18 274.26,505.86 274.51,504.88 274.76,504.15 275.01,503.98 275.26,504.93 275.51,504.74 275.76,505.05 276.01,505.18 276.26,501.19 276.51,501.82 276.76,504 277.01,503.99 277.26,501.69 277.52,505.73 277.77,504.92 278.02,504.6 278.27,505.91 278.52,505.17 278.77,503.86 279.02,503.01 279.27,506.1 279.52,503.22 279.77,502.77 280.02,502.41 280.27,505.29 280.52,504.54 280.77,503.79 281.02,505.76 281.27,502.61 281.52,505.55 281.77,503.16 282.02,503.81 282.27,503.73 282.52,504.48 282.77,506.55 283.02,503.02 283.28,505.91 283.53,506.29 283.78,503.8 284.03,502.94 284.28,502.06 284.53,503.97 284.78,509.2 285.03,503.77 285.28,504.32 285.53,502.42 285.78,504.88 286.03,504.56 286.28,505.85 286.53,507.83 286.78,505.91 287.03,502.61 287.28,503.87 287.53,501.8 287.78,503.36 288.03,501.58 288.28,506.13 288.53,500.21 288.78,505.18 289.04,504.34 289.29,501.35 289.54,505.51 289.79,506.43 290.04,507.3 290.29,503.65 290.54,505.47 290.79,504.47 291.04,506.7 291.29,504.1 291.54,506.12 291.79,502.3 292.04,502.93 292.29,502.17 292.54,503.8 292.79,501.85 293.04,504.39 293.29,503.09 293.54,501.61 293.79,504.54 294.04,506.17 294.29,505.04 294.55,504.74 294.8,503.7 295.05,503.8 295.3,501.25 295.55,507.68 295.8,501.11 296.05,502.52 296.3,502.25 296.55,502.18 296.8,504.4 297.05,502.79 297.3,503.12 297.55,504.77 297.8,501.94 298.05,502.11 298.3,504.96 298.55,503.23 298.8,500.79 299.05,505.23 299.3,501.51 299.55,504.1 299.8,504.15 300.05,504.65 300.31,504.63 300.56,503.38 300.81,504.08 301.06,501.12 301.31,504.62 301.56,500.69 301.81,505.45 302.06,502.79 302.31,505.72 302.56,504.02 302.81,505.07 303.06,503.29 303.31,503.68 303.56,505.02 303.81,505.32 304.06,503.43 304.31,499.13 304.56,504.4 304.81,505.44 305.06,506.47 305.31,503.67 305.56,506.1 305.82,497.57 306.07,503.39 306.32,502.97 306.57,507.95 306.82,503.69 307.07,508.91 307.32,504.22 307.57,503.34 307.82,503.07 308.07,502.61 308.32,504.38 308.57,504.42 308.82,502.32 309.07,507.43 309.32,506.11 309.57,503.59 309.82,505.13 310.07,503.84 310.32,503.22 310.57,502.58 310.82,502.93 311.07,507.44 311.32,507.3 311.58,503.93 311.83,503.57 312.08,506.28 312.33,502.59 312.58,505.54 312.83,501.32 313.08,504.92 313.33,505.55 313.58,505.73 313.83,507.12 314.08,506.43 314.33,503.38 314.58,501.62 314.83,499.81 315.08,502.19 315.33,503.9 315.58,503.12 315.83,509.45 316.08,505.03 316.33,505 316.58,504.42 316.83,503.82 317.08,504.89 317.34,506.32 317.59,504.32 317.84,505.99 318.09,506.89 318.34,504.61 318.59,505.54 318.84,504.87 319.09,506.47 319.34,505.88 319.59,504.66 319.84,506.49 320.09,506.52 320.34,504.68 320.59,501.96 320.84,507.57 321.09,504.72 321.34,505.65 321.59,504.63 321.84,503.7 322.09,502.05 322.34,504.31 322.59,503.9 322.85,505.28 323.1,503.74 323.35,504.2 323.6,505.72 323.85,504.28 324.1,503.16 324.35,505.2 324.6,503.72 324.85,502.32 325.1,502.27 325.35,502.62 325.6,503.14" fill="none" stroke="#0f4c8c" stroke-width="1.3" stroke-linejoin="round"/>
<polyline points="212.4,528.26 212.65,529.42 212.9,530.63 213.15,530.98 213.4,531.36 213.65,532.41 213.9,530.32 214.15,533.79 214.4,532.34 214.65,528.85 214.9,531.94 215.15,530.83 215.41,532.8 215.66,534.4 215.91,530.57 216.16,532.49 216.41,531.12 216.66,530.7 216.91,533.23 217.16,533.39 217.41,531.52 217.66,531.77 217.91,530.73 218.16,531.29 218.41,531.7 218.66,531.7 218.91,532.6 219.16,531.94 219.41,531.59 219.66,531.67 219.91,532.14 220.16,531.99 220.41,529.86 220.66,530.99 220.92,531.49 221.17,530.15 221.42,529.35 221.67,529.7 221.92,529.36 222.17,530.24 222.42,530.17 222.67,530.71 222.92,528.25 223.17,530.38 223.42,530.59 223.67,532.14 223.92,529.31 224.17,530.14 224.42,527.8 224.67,530.21 224.92,530.6 225.17,529.3 225.42,528.44 225.67,530.21 225.92,527.93 226.17,530.29 226.42,527.62 226.68,528.93 226.93,528.68 227.18,528.48 227.43,527.67 227.68,527.17 227.93,529.32 228.18,528.36 228.43,526.99 228.68,526.49 228.93,528.38 229.18,528.85 229.43,527.39 229.68,526.92 229.93,527.81 230.18,527.64 230.43,528.26 230.68,526.8 230.93,526.14 231.18,526.68 231.43,525.27 231.68,525.43 231.93,525.88 232.18,526.18 232.44,526.32 232.69,524.66 232.94,525.64 233.19,527.94 233.44,523.79 233.69,525.01 233.94,524.66 234.19,525.62 234.44,523.85 234.69,526.98 234.94,523.66 235.19,524.33 235.44,523.92 235.69,524.91 235.94,523.37 236.19,520.82 236.44,521.94 236.69,520.69 236.94,522.2 237.19,521 237.44,520.29 237.69,519.28 237.95,518.02 238.2,519.55 238.45,518.83 238.7,519.86 238.95,516.3 239.2,517.37 239.45,514.18 239.7,515.56 239.95,514.39 240.2,512.61 240.45,512.73 240.7,513.19 240.95,512.35 241.2,511.85 241.45,511.42 241.7,511.38 241.95,510.47 242.2,508.54 242.45,510.54 242.7,512.29 242.95,509.52 243.2,509.63 243.45,508.05 243.71,507.75 243.96,507.24 244.21,506.44 244.46,507.99 244.71,506.52 244.96,507.95 245.21,507.46 245.46,505.19 245.71,509.91 245.96,506.21 246.21,506.68 246.46,505.65 246.71,504.47 246.96,505.82 247.21,506.4 247.46,502.51 247.71,505.3 247.96,505.23 248.21,507.47 248.46,501.89 248.71,503.52 248.96,505.99 249.22,503.14 249.47,504.95 249.72,502.42 249.97,502.01 250.22,504.65 250.47,502.55 250.72,501.59 250.97,503.08 251.22,504.63 251.47,502.53 251.72,505.96 251.97,500.52 252.22,504.94 252.47,502.82 252.72,503.66 252.97,503.41 253.22,501.78 253.47,501.7 253.72,500.02 253.97,500.93 254.22,500.89 254.47,503.54 254.72,501.19 254.98,502.4 255.23,501.69 255.48,505.53 255.73,500.41 255.98,500.14 256.23,502.65 256.48,498.67 256.73,501.57 256.98,499.81 257.23,500.01 257.48,500.99 257.73,504.74 257.98,502.74 258.23,502.64 258.48,502.01 258.73,502.08 258.98,500.05 259.23,501.5 259.48,501.01 259.73,502.27 259.98,502.67 260.23,499.17 260.48,498.88 260.74,503.64 260.99,499.22 261.24,503.2 261.49,505.95 261.74,502.93 261.99,501.64 262.24,500.86 262.49,501.37 262.74,502.63 262.99,506.23 263.24,502.58 263.49,500.74 263.74,503.8 263.99,501.01 264.24,503.26 264.49,501.48 264.74,501.38 264.99,502.32 265.24,500.77 265.49,499.86 265.74,500.89 265.99,501.15 266.25,500.37 266.5,502.3 266.75,501.58 267,501.5 267.25,500.42 267.5,501.39 267.75,502.21 268,500.49 268.25,500.59 268.5,501.46 268.75,501.42 269,499.98 269.25,502.45 269.5,501.76 269.75,504.24 270,499.01 270.25,498.81 270.5,501.47 270.75,504.29 271,502.63 271.25,501.03 271.5,499.72 271.75,501.54 272.01,500.15 272.26,499.61 272.51,501.15 272.76,499.82 273.01,500.46 273.26,499.74 273.51,500.64 273.76,501.82 274.01,501.07 274.26,501.44 274.51,499.19 274.76,498.5 275.01,500.79 275.26,500.95 275.51,502.08 275.76,498.61 276.01,502.53 276.26,500.77 276.51,499.11 276.76,499.96 277.01,500.17 277.26,503.28 277.52,500.2 277.77,501.52 278.02,499.44 278.27,498.62 278.52,499.7 278.77,498.16 279.02,500.39 279.27,500.56 279.52,503.92 279.77,500.12 280.02,502.83 280.27,502.04 280.52,502.32 280.77,501.29 281.02,500.69 281.27,501.77 281.52,502.93 281.77,499.54 282.02,498.79 282.27,499.91 282.52,498.46 282.77,500.17 283.02,500.37 283.28,499.63 283.53,500.58 283.78,502.98 284.03,501.03 284.28,502.84 284.53,500.65 284.78,501.1 285.03,498.58 285.28,503.04 285.53,501.45 285.78,503.42 286.03,500.77 286.28,499.86 286.53,504.47 286.78,499.02 287.03,497.49 287.28,502.25 287.53,499.11 287.78,498.89 288.03,501.36 288.28,499.53 288.53,503.96 288.78,504.5 289.04,504.62 289.29,499.96 289.54,502.48 289.79,499.8 290.04,500.01 290.29,500.49 290.54,500.57 290.79,501.48 291.04,500.34 291.29,503.28 291.54,498.52 291.79,501.57 292.04,498.17 292.29,501.78 292.54,502.95 292.79,503.53 293.04,501.98 293.29,501.2 293.54,499.78 293.79,500.22 294.04,501.18 294.29,499.61 294.55,498.63 294.8,503.09 295.05,501.77 295.3,501.68 295.55,500.18 295.8,502.05 296.05,500.17 296.3,501.62 296.55,500.98 296.8,500.95 297.05,499.8 297.3,502.06 297.55,499.5 297.8,503.62 298.05,502.46 298.3,500.48 298.55,501.7 298.8,502.34 299.05,500.93 299.3,498.97 299.55,501.37 299.8,500.29 300.05,500.55 300.31,504.44 300.56,500.96 300.81,498.46 301.06,502.13 301.31,502.69 301.56,499.49 301.81,500.82 302.06,499.69 302.31,501.37 302.56,502.87 302.81,505.4 303.06,500.49 303.31,501.16 303.56,503.28 303.81,500.48 304.06,502.43 304.31,499.78 304.56,506.35 304.81,499.46 305.06,502.14 305.31,503.7 305.56,502.58 305.82,503.62 306.07,502.51 306.32,500.95 306.57,502.11 306.82,502.4 307.07,501.28 307.32,502.42 307.57,500.43 307.82,499.48 308.07,503.31 308.32,501.22 308.57,503.7 308.82,504.14 309.07,500.16 309.32,503.73 309.57,501.6 309.82,501.6 310.07,497.93 310.32,500.14 310.57,500.47 310.82,499.86 311.07,498.85 311.32,497.96 311.58,501.11 311.83,501.53 312.08,502.35 312.33,498.4 312.58,498.18 312.83,504.39 313.08,500.64 313.33,500.71 313.58,502.62 313.83,498.98 314.08,500.55 314.33,502.27 314.58,501.61 314.83,502.34 315.08,500.15 315.33,503.44 315.58,498.37 315.83,497.06 316.08,500.49 316.33,501.07 316.58,500.8 316.83,497.28 317.08,498.56 317.34,500.23 317.59,502.33 317.84,502.86 318.09,503.69 318.34,498.73 318.59,499.94 318.84,497.85 319.09,498.75 319.34,498.69 319.59,500.59 319.84,499.37 320.09,501.32 320.34,503.23 320.59,500.35 320.84,500.08 321.09,500.84 321.34,500.49 321.59,500.42 321.84,499.66 322.09,501.02 322.34,499.88 322.59,501.57 322.85,501.1 323.1,502.61 323.35,501.75 323.6,501.69 323.85,500.66 324.1,500.03 324.35,501.8 324.6,499.36 324.85,501.49 325.1,503.65 325.35,499.64 325.6,501.94" fill="none" stroke="#c8102e" stroke-width="1.3" stroke-linejoin="round"/>
<text x="264.5" y="493" font-size="7.2" fill="#c8102e" textLength="11.3" lengthAdjust="spacingAndGlyphs" stroke="#c8102e" stroke-width="0.12">WT</text>
<text x="249.3" y="522" font-size="7" fill="#0f4c8c" stroke="#0f4c8c" stroke-width="0.12" textLength="18.6" lengthAdjust="spacingAndGlyphs">GRK2</text>
<text x="268.6" y="519.1" font-size="4.6" fill="#0f4c8c" textLength="7" lengthAdjust="spacingAndGlyphs">&#8722;/&#8722;</text>
<line x1="392.75" y1="469.75" x2="392.75" y2="547.15" stroke="#1a1a1a" stroke-width="1.1"/>
<line x1="392.75" y1="531.5" x2="508.8" y2="531.5" stroke="#1a1a1a" stroke-width="1.1"/>
<line x1="389.45" y1="543.15" x2="392.75" y2="543.15" stroke="#1a1a1a" stroke-width="1.1"/>
<text x="385.95" y="545.65" font-size="6.4" fill="#2b2b2b" stroke="#2b2b2b" stroke-width="0.15" text-anchor="end" textLength="12.15" lengthAdjust="spacingAndGlyphs">&#8722;20</text>
<line x1="389.45" y1="531.5" x2="392.75" y2="531.5" stroke="#1a1a1a" stroke-width="1.1"/>
<text x="385.95" y="534" font-size="6.4" fill="#2b2b2b" stroke="#2b2b2b" stroke-width="0.15" text-anchor="end" textLength="4.05" lengthAdjust="spacingAndGlyphs">0</text>
<line x1="389.45" y1="519.85" x2="392.75" y2="519.85" stroke="#1a1a1a" stroke-width="1.1"/>
<text x="385.95" y="522.35" font-size="6.4" fill="#2b2b2b" stroke="#2b2b2b" stroke-width="0.15" text-anchor="end" textLength="8.1" lengthAdjust="spacingAndGlyphs">20</text>
<line x1="389.45" y1="508.2" x2="392.75" y2="508.2" stroke="#1a1a1a" stroke-width="1.1"/>
<text x="385.95" y="510.7" font-size="6.4" fill="#2b2b2b" stroke="#2b2b2b" stroke-width="0.15" text-anchor="end" textLength="8.1" lengthAdjust="spacingAndGlyphs">40</text>
<line x1="389.45" y1="496.55" x2="392.75" y2="496.55" stroke="#1a1a1a" stroke-width="1.1"/>
<text x="385.95" y="499.05" font-size="6.4" fill="#2b2b2b" stroke="#2b2b2b" stroke-width="0.15" text-anchor="end" textLength="8.1" lengthAdjust="spacingAndGlyphs">60</text>
<line x1="389.45" y1="484.9" x2="392.75" y2="484.9" stroke="#1a1a1a" stroke-width="1.1"/>
<text x="385.95" y="487.4" font-size="6.4" fill="#2b2b2b" stroke="#2b2b2b" stroke-width="0.15" text-anchor="end" textLength="8.1" lengthAdjust="spacingAndGlyphs">80</text>
<line x1="389.45" y1="473.25" x2="392.75" y2="473.25" stroke="#1a1a1a" stroke-width="1.1"/>
<text x="385.95" y="475.75" font-size="6.4" fill="#2b2b2b" stroke="#2b2b2b" stroke-width="0.15" text-anchor="end" textLength="12.15" lengthAdjust="spacingAndGlyphs">100</text>
<line x1="429.5" y1="531.5" x2="429.5" y2="534.7" stroke="#1a1a1a" stroke-width="1.1"/>
<text x="429.5" y="542.8" font-size="6.4" fill="#2b2b2b" stroke="#2b2b2b" stroke-width="0.15" text-anchor="middle" textLength="12.15" lengthAdjust="spacingAndGlyphs">200</text>
<line x1="466.8" y1="531.5" x2="466.8" y2="534.7" stroke="#1a1a1a" stroke-width="1.1"/>
<text x="466.8" y="542.8" font-size="6.4" fill="#2b2b2b" stroke="#2b2b2b" stroke-width="0.15" text-anchor="middle" textLength="12.15" lengthAdjust="spacingAndGlyphs">400</text>
<line x1="503.75" y1="531.5" x2="503.75" y2="534.7" stroke="#1a1a1a" stroke-width="1.1"/>
<text x="503.75" y="542.8" font-size="6.4" fill="#2b2b2b" stroke="#2b2b2b" stroke-width="0.15" text-anchor="middle" textLength="12.15" lengthAdjust="spacingAndGlyphs">600</text>
<text x="450.4" y="465.6" font-size="8.2" fill="#111" text-anchor="middle" textLength="124.3" lengthAdjust="spacingAndGlyphs" stroke="#111" stroke-width="0.12">PAR4-AP (120&#956;M)+Apyrase (1U/ml)</text>
<text x="367.45" y="506.3" font-size="7.7" fill="#2b2b2b" text-anchor="middle" textLength="57.8" lengthAdjust="spacingAndGlyphs" transform="rotate(-90 367.45 506.3)" stroke="#2b2b2b" stroke-width="0.28">Light transmission (%)</text>
<text x="450.8" y="554.5" font-size="7.6" fill="#2b2b2b" text-anchor="middle" textLength="19.5" lengthAdjust="spacingAndGlyphs" stroke="#2b2b2b" stroke-width="0.25">Time(s)</text>
<polyline points="392.75,532.21 393,531.46 393.25,532.65 393.5,530.87 393.75,529.96 394,531.88 394.25,531.84 394.5,531.71 394.75,532.49 395,530.47 395.25,530.86 395.5,533.78 395.75,531.71 396,533.21 396.25,532.69 396.5,530.44 396.75,531.96 397,535.39 397.25,532.94 397.5,533.62 397.75,531.77 398,533.02 398.25,532.22 398.5,533.11 398.75,533.63 399,532.94 399.25,532.4 399.5,534.1 399.75,533.91 400,532.77 400.25,532.41 400.5,533.59 400.75,532.53 401,533.45 401.25,532.83 401.5,531.87 401.75,532.68 402,530.12 402.25,530.54 402.5,531.01 402.75,531.36 403,530.97 403.25,530.42 403.5,529.09 403.75,529.34 404,530.42 404.25,529.23 404.5,529.13 404.75,528.09 405,526.82 405.25,527 405.5,527.82 405.75,525.93 406,527.1 406.25,526.15 406.5,523.98 406.75,524.98 407,523.94 407.25,523.59 407.5,524.44 407.75,521.23 408,520.38 408.25,520.94 408.5,520.75 408.75,520.28 409,519.52 409.25,517.81 409.5,517.76 409.75,519.53 410,517.02 410.25,516.65 410.5,515.35 410.75,514.44 411,511.61 411.25,513.21 411.5,514.89 411.75,508.77 412,510.93 412.25,507.7 412.5,509.43 412.75,508.17 413,506.9 413.25,504.78 413.5,505.25 413.75,507.47 414,504.74 414.25,504.64 414.5,505.07 414.75,502.96 415,503.08 415.25,500.65 415.5,505.68 415.75,502.68 416,502.95 416.25,500.87 416.5,499.91 416.75,502.4 417,500.26 417.25,500.83 417.5,498.91 417.75,503.69 418,499.88 418.25,500.26 418.5,500.89 418.75,497.54 419,499.28 419.25,496.8 419.5,497.3 419.75,499.73 420,500.05 420.25,498.79 420.5,496.5 420.75,497.61 421,498.75 421.25,496.81 421.5,496.76 421.75,497.4 422,498.18 422.25,495.79 422.5,494.23 422.75,495.57 423,496.05 423.25,495.86 423.5,496.56 423.75,497.79 424,495.97 424.25,496.56 424.5,494.9 424.75,495.69 425,496.62 425.25,493.91 425.5,497.18 425.75,494.29 426,495.09 426.25,496.33 426.5,496.3 426.75,495.47 427,494.33 427.25,498.19 427.5,495.01 427.75,495.17 428,495.15 428.25,495.2 428.5,494.52 428.75,493.98 429,493.2 429.25,493.01 429.5,495.8 429.75,497.27 430,494.95 430.25,494.87 430.5,494.24 430.75,493.99 431,497.48 431.25,494.81 431.5,495.32 431.75,496.06 432,489.97 432.25,495.43 432.5,494.3 432.75,494.5 433,494.49 433.25,495.32 433.5,495.21 433.75,496.78 434,493.56 434.25,494.84 434.5,495.58 434.75,493.25 435,493.82 435.25,495.02 435.5,494.4 435.75,493.87 436,494.39 436.25,498.13 436.5,493.25 436.75,492.24 437,494.16 437.25,491.02 437.5,492.82 437.75,490.78 438,495.64 438.25,494.96 438.5,493.38 438.75,490.24 439,491.83 439.25,492.05 439.5,498.27 439.75,491.3 440,493.63 440.25,494.93 440.5,494.51 440.75,493.01 441,492.7 441.25,495.13 441.5,493.27 441.75,491.04 442,492.41 442.25,492.57 442.5,495.78 442.75,493.2 443,490.76 443.25,492.87 443.5,494.76 443.75,491.94 444,492.56 444.25,491.39 444.5,493.75 444.75,493.43 445,492.49 445.25,493.55 445.5,494.14 445.75,492.25 446,493.19 446.25,494.28 446.5,492.83 446.75,490.7 447,494.14 447.25,493.11 447.5,493.87 447.75,493.51 448,495.68 448.25,490.95 448.5,496.3 448.75,493.92 449,494.27 449.25,491.7 449.5,493.17 449.75,492.9 450,493.81 450.25,490.43 450.5,492.98 450.75,489.92 451,496.41 451.25,491.93 451.5,491.96 451.75,492.14 452,493.97 452.25,494.5 452.5,494.02 452.75,490.22 453,492.39 453.25,493.35 453.5,493.19 453.75,494.28 454,492.18 454.25,492.49 454.5,489.76 454.75,492.82 455,494 455.25,493.27 455.5,491.67 455.75,492.94 456,493.02 456.25,491.51 456.5,492.16 456.75,493.29 457,494.04 457.25,496.11 457.5,491.49 457.75,492.5 458,494.33 458.25,492.24 458.5,494.28 458.75,489.98 459,495.77 459.25,494.55 459.5,493.19 459.75,490.91 460,492.37 460.25,491.74 460.5,495.27 460.75,492.2 461,493.44 461.25,493.97 461.5,492.45 461.75,491.98 462,489.46 462.25,494.36 462.5,495.42 462.75,493.31 463,491.57 463.25,493.81 463.5,492.6 463.75,488.57 464,492.52 464.25,489.77 464.5,492.53 464.75,491.14 465,494.41 465.25,490.5 465.5,493.28 465.75,492.8 466,490.48 466.25,493.12 466.5,491.93 466.75,491.4 467,490.68 467.25,493.04 467.5,492.04 467.75,492.8 468,492.98 468.25,495.38 468.5,492.64 468.75,493.13 469,495.28 469.25,492.27 469.5,494.99 469.75,493.81 470,489.92 470.25,495.46 470.5,492.8 470.75,491.16 471,492.61 471.25,493.32 471.5,493.42 471.75,496.47 472,490.24 472.25,493.59 472.5,492.15 472.75,492.32 473,492.31 473.25,491.8 473.5,495.69 473.75,493.32 474,492.98 474.25,493.56 474.5,490.54 474.75,492.79 475,492.21 475.25,491.49 475.5,495.29 475.75,493.38 476,494.06 476.25,492.1 476.5,493.23 476.75,493.02 477,494.06 477.25,493.28 477.5,493.84 477.75,491.82 478,493.88 478.25,493.76 478.5,493.9 478.75,492.58 479,493.47 479.25,492.96 479.5,493.58 479.75,493.05 480,492.27 480.25,492.23 480.5,493.28 480.75,491.28 481,489.04 481.25,492.92 481.5,492.44 481.75,493.45 482,494.05 482.25,493.64 482.5,492.66 482.75,493.35 483,490.28 483.25,494 483.5,491.61 483.75,491.78 484,493.89 484.25,492.03 484.5,491.56 484.75,492.64 485,491.41 485.25,494.37 485.5,491.25 485.75,492.91 486,494.86 486.25,493.55 486.5,496.82 486.75,494.75 487,493.63 487.25,491.08 487.5,494.12 487.75,495.12 488,494.65 488.25,494.04 488.5,494.14 488.75,492.89 489,493.75 489.25,493.74 489.5,493.14 489.75,495.23 490,491.69 490.25,495.18 490.5,492.19 490.75,491.41 491,492.61 491.25,491.72 491.5,492.7 491.75,494.14 492,495.15 492.25,494.41 492.5,488.72 492.75,495.07 493,491.91 493.25,493.76 493.5,495.22 493.75,494.9 494,496 494.25,493.22 494.5,491.53 494.75,491.6 495,496.33 495.25,492.54 495.5,493.43 495.75,492.3 496,491.64 496.25,495.63 496.5,495.4 496.75,493.45 497,494.24 497.25,491.92 497.5,492.95 497.75,492.26 498,494.78 498.25,495.22 498.5,492.22 498.75,490.28 499,494.5 499.25,496.56 499.5,491.51 499.75,496.21 500,493.67 500.25,493.61 500.5,490.55 500.75,492.83 501,490.73 501.25,494.23 501.5,496.97 501.75,493.54 502,491.98 502.25,492.12 502.5,492.97 502.75,493.42 503,495.57 503.25,493.34 503.5,493.37 503.75,491.46" fill="none" stroke="#0f4c8c" stroke-width="1.3" stroke-linejoin="round"/>
<polyline points="392.75,530.71 393,531.62 393.25,531.31 393.5,531.22 393.75,531.71 394,532.53 394.25,530.57 394.5,531.88 394.75,532.22 395,531.22 395.25,530.76 395.5,530.94 395.75,532.1 396,532.19 396.25,532.51 396.5,532.85 396.75,533.22 397,533.55 397.25,533.91 397.5,532.84 397.75,533.11 398,532.5 398.25,532.44 398.5,533.35 398.75,532.77 399,534.49 399.25,533.14 399.5,534.63 399.75,532.91 400,533.09 400.25,533.68 400.5,533.06 400.75,533.49 401,531.93 401.25,532.71 401.5,531.83 401.75,532.13 402,530.79 402.25,530.77 402.5,530.78 402.75,530.88 403,529.73 403.25,529.5 403.5,528.71 403.75,529.07 404,529.91 404.25,528.41 404.5,527.37 404.75,527.29 405,527.06 405.25,527 405.5,527.01 405.75,526.99 406,525.81 406.25,526.12 406.5,525.31 406.75,525.34 407,525.08 407.25,524.31 407.5,521.89 407.75,523.04 408,521.59 408.25,519.4 408.5,520.97 408.75,519.78 409,518.27 409.25,516.97 409.5,518.43 409.75,517.48 410,517.07 410.25,515.78 410.5,516.92 410.75,513.46 411,513.46 411.25,512.68 411.5,513.55 411.75,512.4 412,509.49 412.25,510.73 412.5,507.73 412.75,508.71 413,505.05 413.25,504.17 413.5,507.27 413.75,506.13 414,504.6 414.25,502.34 414.5,503.47 414.75,502.99 415,504.41 415.25,503.12 415.5,499.71 415.75,501.12 416,500.34 416.25,500.72 416.5,499.71 416.75,502.87 417,502.61 417.25,500.44 417.5,499.39 417.75,498.85 418,499.92 418.25,502.91 418.5,500.85 418.75,499.94 419,500.68 419.25,497.91 419.5,497.82 419.75,499.05 420,496.57 420.25,499.82 420.5,497.07 420.75,495.91 421,498.91 421.25,496.99 421.5,496.81 421.75,499.07 422,498.98 422.25,495.77 422.5,498.3 422.75,494.28 423,498.35 423.25,496.48 423.5,496.19 423.75,498.28 424,496.62 424.25,493.38 424.5,496.4 424.75,497.15 425,497.28 425.25,498.01 425.5,495.12 425.75,493.79 426,493.25 426.25,494.75 426.5,494.52 426.75,495.61 427,497.72 427.25,494.51 427.5,493.28 427.75,495.16 428,495.34 428.25,496.02 428.5,496.98 428.75,495.59 429,495.25 429.25,493.7 429.5,495.26 429.75,496.17 430,494.14 430.25,497.06 430.5,494.63 430.75,495.72 431,492.13 431.25,496.16 431.5,494.32 431.75,493.75 432,494.74 432.25,494.78 432.5,493.33 432.75,492.47 433,494.93 433.25,495.34 433.5,494.54 433.75,493.86 434,493.89 434.25,491.42 434.5,493.41 434.75,493.05 435,493.88 435.25,490.72 435.5,492.1 435.75,493.27 436,491.22 436.25,491.92 436.5,496.09 436.75,493.53 437,493.1 437.25,493.89 437.5,492.25 437.75,493.9 438,493.02 438.25,492.18 438.5,493.77 438.75,494.7 439,493.69 439.25,491.74 439.5,493.79 439.75,492.68 440,492.94 440.25,493.88 440.5,494.26 440.75,494.83 441,493.02 441.25,497.23 441.5,494.97 441.75,494.65 442,496.13 442.25,495.24 442.5,495.85 442.75,495.28 443,492.91 443.25,494.76 443.5,495.17 443.75,494.65 444,495.43 444.25,494.39 444.5,492.22 444.75,493.13 445,491.98 445.25,491.45 445.5,496.39 445.75,494.65 446,495.22 446.25,491.4 446.5,494.51 446.75,492.63 447,494.36 447.25,494.41 447.5,495.2 447.75,492.09 448,495.15 448.25,494.78 448.5,493.78 448.75,491.6 449,491.33 449.25,490.68 449.5,490.76 449.75,494.34 450,490.7 450.25,491.95 450.5,493.56 450.75,492.35 451,493.8 451.25,494.89 451.5,492.28 451.75,494.05 452,494.64 452.25,493.01 452.5,494.56 452.75,492.98 453,493.32 453.25,494.44 453.5,492.72 453.75,492.8 454,493.9 454.25,494.64 454.5,491.47 454.75,494.78 455,493.39 455.25,493.41 455.5,495.18 455.75,491.69 456,491.73 456.25,491.39 456.5,493.33 456.75,493.83 457,490.84 457.25,493.81 457.5,491.27 457.75,493.44 458,496.29 458.25,494.81 458.5,493.13 458.75,494.54 459,494.29 459.25,489.55 459.5,491.9 459.75,494.27 460,493.98 460.25,491.53 460.5,493.82 460.75,493.76 461,492.97 461.25,493.14 461.5,496.03 461.75,494.3 462,494.49 462.25,490.55 462.5,492.57 462.75,494.38 463,493.51 463.25,492.85 463.5,491.71 463.75,493.64 464,492.95 464.25,490.71 464.5,497.06 464.75,492.9 465,490.36 465.25,490.91 465.5,492.2 465.75,492.45 466,491.84 466.25,492.99 466.5,495.39 466.75,491.56 467,494.85 467.25,494.4 467.5,491.42 467.75,490.97 468,494.3 468.25,494.69 468.5,494.33 468.75,494.1 469,492.13 469.25,494.18 469.5,491.51 469.75,494.08 470,494.52 470.25,494.29 470.5,495.22 470.75,494.17 471,494.81 471.25,493.48 471.5,495.79 471.75,493.14 472,495.48 472.25,492.17 472.5,491.41 472.75,493.56 473,493.1 473.25,492.46 473.5,491.99 473.75,494.49 474,493.89 474.25,494.61 474.5,492.58 474.75,493.78 475,491.67 475.25,492.21 475.5,494.45 475.75,494.46 476,493.4 476.25,495.1 476.5,492.05 476.75,495.35 477,493 477.25,493.03 477.5,491.74 477.75,495.36 478,491.7 478.25,495.4 478.5,495.41 478.75,490.38 479,493.12 479.25,491.45 479.5,492.45 479.75,493.19 480,492.77 480.25,494.29 480.5,493.93 480.75,490.48 481,491.29 481.25,491.16 481.5,491.08 481.75,494.07 482,492.95 482.25,493.32 482.5,489.93 482.75,492.66 483,489.72 483.25,493.18 483.5,492.21 483.75,493.91 484,494.03 484.25,494.53 484.5,492.85 484.75,493.84 485,491.63 485.25,496.74 485.5,493.44 485.75,491.51 486,493.31 486.25,494.98 486.5,492.04 486.75,495.04 487,492.71 487.25,495.3 487.5,493.27 487.75,491.86 488,493.51 488.25,495.16 488.5,490.21 488.75,491.69 489,493.82 489.25,491.51 489.5,490.35 489.75,493.25 490,492.43 490.25,492.78 490.5,492.57 490.75,493.68 491,491.82 491.25,490.72 491.5,492.8 491.75,492.75 492,492.91 492.25,493.32 492.5,492.07 492.75,490.72 493,493.93 493.25,495.57 493.5,494.01 493.75,493.43 494,494.16 494.25,492.67 494.5,490.95 494.75,490.17 495,493.35 495.25,491.41 495.5,491.71 495.75,493.87 496,494.75 496.25,495.49 496.5,490.48 496.75,492.83 497,492.01 497.25,493.33 497.5,493.13 497.75,493.98 498,492.82 498.25,491.32 498.5,489.89 498.75,496.07 499,492.19 499.25,494.31 499.5,493.41 499.75,494.46 500,493.21 500.25,495.11 500.5,491.6 500.75,494.06 501,493.95 501.25,491.9 501.5,491.68 501.75,491.99 502,495.25 502.25,492.49 502.5,494.58 502.75,492.55 503,493.58 503.25,494.23 503.5,493.53 503.75,492.48" fill="none" stroke="#c8102e" stroke-width="1.6" stroke-linejoin="round"/>
<text x="420" y="485" font-size="7" fill="#0f4c8c" stroke="#0f4c8c" stroke-width="0.12" textLength="18.6" lengthAdjust="spacingAndGlyphs">GRK2</text>
<text x="439.3" y="482.1" font-size="4.6" fill="#0f4c8c" textLength="7" lengthAdjust="spacingAndGlyphs">&#8722;/&#8722;</text>
<text x="439.3" y="505" font-size="7.2" fill="#c8102e" textLength="11.3" lengthAdjust="spacingAndGlyphs" stroke="#c8102e" stroke-width="0.12">WT</text>
<line x1="55.5" y1="575.5" x2="55.5" y2="653.5" stroke="#1a1a1a" stroke-width="1.1"/>
<line x1="55.5" y1="638.1" x2="255" y2="638.1" stroke="#1a1a1a" stroke-width="1.1"/>
<line x1="52.2" y1="649.85" x2="55.5" y2="649.85" stroke="#1a1a1a" stroke-width="1.1"/>
<text x="48.7" y="652.35" font-size="6.4" fill="#2b2b2b" stroke="#2b2b2b" stroke-width="0.15" text-anchor="end" textLength="12.15" lengthAdjust="spacingAndGlyphs">&#8722;20</text>
<line x1="52.2" y1="638.1" x2="55.5" y2="638.1" stroke="#1a1a1a" stroke-width="1.1"/>
<text x="48.7" y="640.6" font-size="6.4" fill="#2b2b2b" stroke="#2b2b2b" stroke-width="0.15" text-anchor="end" textLength="4.05" lengthAdjust="spacingAndGlyphs">0</text>
<line x1="52.2" y1="626.35" x2="55.5" y2="626.35" stroke="#1a1a1a" stroke-width="1.1"/>
<text x="48.7" y="628.85" font-size="6.4" fill="#2b2b2b" stroke="#2b2b2b" stroke-width="0.15" text-anchor="end" textLength="8.1" lengthAdjust="spacingAndGlyphs">20</text>
<line x1="52.2" y1="614.6" x2="55.5" y2="614.6" stroke="#1a1a1a" stroke-width="1.1"/>
<text x="48.7" y="617.1" font-size="6.4" fill="#2b2b2b" stroke="#2b2b2b" stroke-width="0.15" text-anchor="end" textLength="8.1" lengthAdjust="spacingAndGlyphs">40</text>
<line x1="52.2" y1="602.85" x2="55.5" y2="602.85" stroke="#1a1a1a" stroke-width="1.1"/>
<text x="48.7" y="605.35" font-size="6.4" fill="#2b2b2b" stroke="#2b2b2b" stroke-width="0.15" text-anchor="end" textLength="8.1" lengthAdjust="spacingAndGlyphs">60</text>
<line x1="52.2" y1="591.1" x2="55.5" y2="591.1" stroke="#1a1a1a" stroke-width="1.1"/>
<text x="48.7" y="593.6" font-size="6.4" fill="#2b2b2b" stroke="#2b2b2b" stroke-width="0.15" text-anchor="end" textLength="8.1" lengthAdjust="spacingAndGlyphs">80</text>
<line x1="52.2" y1="579.35" x2="55.5" y2="579.35" stroke="#1a1a1a" stroke-width="1.1"/>
<text x="48.7" y="581.85" font-size="6.4" fill="#2b2b2b" stroke="#2b2b2b" stroke-width="0.15" text-anchor="end" textLength="12.15" lengthAdjust="spacingAndGlyphs">100</text>
<line x1="88" y1="638.1" x2="88" y2="641.3" stroke="#1a1a1a" stroke-width="1.1"/>
<text x="88" y="649.4" font-size="6.4" fill="#2b2b2b" stroke="#2b2b2b" stroke-width="0.15" text-anchor="middle" textLength="12.15" lengthAdjust="spacingAndGlyphs">200</text>
<line x1="120.5" y1="638.1" x2="120.5" y2="641.3" stroke="#1a1a1a" stroke-width="1.1"/>
<text x="120.5" y="649.4" font-size="6.4" fill="#2b2b2b" stroke="#2b2b2b" stroke-width="0.15" text-anchor="middle" textLength="12.15" lengthAdjust="spacingAndGlyphs">400</text>
<line x1="153" y1="638.1" x2="153" y2="641.3" stroke="#1a1a1a" stroke-width="1.1"/>
<text x="153" y="649.4" font-size="6.4" fill="#2b2b2b" stroke="#2b2b2b" stroke-width="0.15" text-anchor="middle" textLength="12.15" lengthAdjust="spacingAndGlyphs">600</text>
<line x1="185.5" y1="638.1" x2="185.5" y2="641.3" stroke="#1a1a1a" stroke-width="1.1"/>
<text x="185.5" y="649.4" font-size="6.4" fill="#2b2b2b" stroke="#2b2b2b" stroke-width="0.15" text-anchor="middle" textLength="12.15" lengthAdjust="spacingAndGlyphs">800</text>
<line x1="218" y1="638.1" x2="218" y2="641.3" stroke="#1a1a1a" stroke-width="1.1"/>
<text x="218" y="649.4" font-size="6.4" fill="#2b2b2b" stroke="#2b2b2b" stroke-width="0.15" text-anchor="middle" textLength="16.2" lengthAdjust="spacingAndGlyphs">1000</text>
<line x1="250.5" y1="638.1" x2="250.5" y2="641.3" stroke="#1a1a1a" stroke-width="1.1"/>
<text x="250.5" y="649.4" font-size="6.4" fill="#2b2b2b" stroke="#2b2b2b" stroke-width="0.15" text-anchor="middle" textLength="16.2" lengthAdjust="spacingAndGlyphs">1200</text>
<text x="33.5" y="612.5" font-size="7.7" fill="#2b2b2b" text-anchor="middle" textLength="58" lengthAdjust="spacingAndGlyphs" transform="rotate(-90 33.5 612.5)" stroke="#2b2b2b" stroke-width="0.25">Light transmission (%)</text>
<text x="155.5" y="661" font-size="7.6" fill="#2b2b2b" text-anchor="middle" textLength="19.5" lengthAdjust="spacingAndGlyphs" stroke="#2b2b2b" stroke-width="0.25">Time(s)</text>
<text x="122" y="572.5" font-size="8.2" fill="#111" textLength="41.8" lengthAdjust="spacingAndGlyphs" stroke="#111" stroke-width="0.12">ADP&#160;&#160;(5&#956;M)</text>
<polyline points="55.5,637.31 55.75,638.83 56,638.78 56.25,638.48 56.5,638 56.75,638.81 57,639.88 57.25,638.6 57.5,639.31 57.75,639.79 58,639.5 58.25,639.89 58.5,640.71 58.75,640.17 59,640.16 59.25,640.06 59.5,638.58 59.75,638.89 60,638.85 60.25,638.05 60.5,635.26 60.75,635.21 61,635.29 61.25,632.53 61.5,631.42 61.75,630.89 62,628.97 62.25,627.6 62.5,626.35 62.75,625.67 63,624.49 63.25,623.35 63.5,621.03 63.75,619.79 64,620.31 64.25,619 64.5,618.45 64.75,617.95 65,617.92 65.25,617.04 65.5,615.34 65.75,615.58 66,614.94 66.25,615.14 66.5,614.42 66.75,614.91 67,614.51 67.25,612.95 67.5,611.82 67.75,612.36 68,611.17 68.25,611.32 68.5,611.74 68.75,610.58 69,609.61 69.25,610.31 69.5,609.88 69.75,609.36 70,610.58 70.25,610.4 70.5,610.07 70.75,610.47 71,609.5 71.25,610.76 71.5,609.45 71.75,609.74 72,608.6 72.25,609.3 72.5,608.82 72.75,608.3 73,609.16 73.25,608.45 73.5,609.61 73.75,607.99 74,607.8 74.25,609.83 74.5,609.4 74.75,608.81 75,607.81 75.25,608.6 75.5,609.17 75.75,610.24 76,608.62 76.25,610.09 76.5,607.93 76.75,610.04 77,609.47 77.25,608.68 77.5,610.08 77.75,609.39 78,608.95 78.25,609.32 78.5,610.2 78.75,609.42 79,609.41 79.25,609.88 79.5,609.97 79.75,609.4 80,611.18 80.25,611.57 80.5,610.43 80.75,611.01 81,610.8 81.25,610.58 81.5,611.77 81.75,611.24 82,611.23 82.25,612.15 82.5,613.07 82.75,612.85 83,613.99 83.25,614.26 83.5,614.83 83.75,615.55 84,614.73 84.25,615.99 84.5,616.36 84.75,616.62 85,616.47 85.25,617.61 85.5,617.79 85.75,618.6 86,618.49 86.25,618.66 86.5,618.5 86.75,619.83 87,621.47 87.25,620.9 87.5,621.2 87.75,621.14 88,622.29 88.25,622.57 88.5,623.01 88.75,623.12 89,622.96 89.25,623.47 89.5,623.99 89.75,624.16 90,624.44 90.25,625.72 90.5,625.89 90.75,625.92 91,626.44 91.25,627.54 91.5,626.31 91.75,627.8 92,626.31 92.25,628.95 92.5,628.5 92.75,629.87 93,629.9 93.25,629.08 93.5,629.58 93.75,629.62 94,628.19 94.25,630.25 94.5,630.27 94.75,630.47 95,630.24 95.25,629.48 95.5,629.93 95.75,628.09 96,630.81 96.25,630.33 96.5,630.58 96.75,631.83 97,631.22 97.25,629.49 97.5,632.03 97.75,630.51 98,630.71 98.25,630.91 98.5,632.43 98.75,630.84 99,631.97 99.25,632.22 99.5,630.47 99.75,632.87 100,631.53 100.25,633.17 100.5,631.84 100.75,633.17 101,633.62 101.25,630.89 101.5,631.58 101.75,632.05 102,633.12 102.25,633.64 102.5,632.63 102.75,632.9 103,633.11 103.25,632.01 103.5,632.23 103.75,632.77 104,633.58 104.25,632.25 104.5,633.17 104.75,632.27 105,632 105.25,632.91 105.5,632.95 105.75,632.93 106,632.37 106.25,632.56 106.5,633.55 106.75,632.01 107,632.56 107.25,632.25 107.5,633.08 107.75,633.93 108,632.82 108.25,632.66 108.5,632.88 108.75,633.2 109,632.84 109.25,632.56 109.5,633.42 109.75,634.26 110,633.39 110.25,632.83 110.5,634.18 110.75,633.36 111,633.61 111.25,633.27 111.5,633.68 111.75,632.54 112,633.39 112.25,633.34 112.5,633.31 112.75,633.61 113,635.4 113.25,632.89 113.5,633.34 113.75,632.7 114,633.65 114.25,633.27 114.5,634.3 114.75,633.6 115,633.59 115.25,633.75 115.5,635.07 115.75,634.49 116,634.02 116.25,634.5 116.5,633.59 116.75,632.67 117,632.79 117.25,634.13 117.5,633.99 117.75,633.36 118,633.09 118.25,634.34 118.5,633.45 118.75,632.94 119,634.26 119.25,633.86 119.5,632.91 119.75,634.83 120,633.36 120.25,633.4 120.5,633.24 120.75,633.53 121,634.79 121.25,633.55 121.5,634.26 121.75,633.3 122,634.58 122.25,634.65 122.5,634.33 122.75,634.98 123,633.92 123.25,632.42 123.5,632.89 123.75,633.35 124,634.32 124.25,633.87 124.5,633.95 124.75,633.94 125,633.54 125.25,633.73 125.5,633.38 125.75,633.79 126,634.24 126.25,634.91 126.5,634.74 126.75,633.7 127,633.46 127.25,633.5 127.5,632.51 127.75,634.44 128,634.38 128.25,634.08 128.5,633.81 128.75,634.27 129,634.44 129.25,634.69 129.5,632.74 129.75,635.47 130,633.33 130.25,634.75 130.5,633.03 130.75,634.67 131,635.61 131.25,634.51 131.5,633.81 131.75,634.91 132,633.74 132.25,633.91 132.5,633.46 132.75,633.72 133,633.9 133.25,633.34 133.5,634.61 133.75,634.06 134,632.97 134.25,633.31 134.5,633.76 134.75,633.59 135,634.83 135.25,633.11 135.5,633.81 135.75,633.74 136,633.69 136.25,634.26 136.5,634.21 136.75,633.45 137,633.44 137.25,634.09 137.5,633.77 137.75,633.47 138,632.7 138.25,634.06 138.5,633.5 138.75,634.19 139,633.38 139.25,633.79 139.5,633.64 139.75,632.59 140,633.84 140.25,634.04 140.5,633.75 140.75,633.9 141,634.81 141.25,632.46 141.5,633.14 141.75,633.37 142,633.28 142.25,633.49 142.5,632.92 142.75,633.59 143,634.16 143.25,633.37 143.5,634.28 143.75,634.42 144,634.39 144.25,634.01 144.5,632.5 144.75,633.75 145,632.13 145.25,632.78 145.5,634.27 145.75,631.92 146,634.29 146.25,633.43 146.5,634.29 146.75,634.79 147,633.8 147.25,633.15 147.5,634.26 147.75,632.96 148,633.86 148.25,633.81 148.5,634.59 148.75,632.67 149,633.98 149.25,635.14 149.5,633.74 149.75,635.17 150,634.49 150.25,632.74 150.5,634.22 150.75,634.11 151,633.38 151.25,633.71 151.5,632.6 151.75,635.03 152,634.2 152.25,633.65 152.5,634.44 152.75,634.89 153,633.78 153.25,633.82 153.5,634.28 153.75,633.76 154,635.08 154.25,634.59 154.5,634.01 154.75,633.59 155,632.42 155.25,633.11 155.5,635.35 155.75,633.83 156,634.72 156.25,632.52 156.5,633.01 156.75,634.51 157,634.65 157.25,632.88 157.5,632.81 157.75,633.13 158,633.95 158.25,632.34 158.5,635.03 158.75,633.11 159,634.12 159.25,634.45 159.5,633.82 159.75,633.88 160,633.59 160.25,635.23 160.5,634.66 160.75,633.76 161,633.56 161.25,633.85 161.5,632.35 161.75,633.52 162,633.53 162.25,634.82 162.5,634.19 162.75,633.2 163,632.91 163.25,634.34 163.5,634.16 163.75,634.45 164,633.92 164.25,634.14 164.5,633.95 164.75,635.18 165,633.89 165.25,633.21 165.5,634.51 165.75,634.43 166,633.68 166.25,634.83 166.5,634.3 166.75,633.4 167,633.31 167.25,635.03 167.5,634.55 167.75,633.09 168,633.11 168.25,635.24 168.5,635.77 168.75,634.7 169,633.87 169.25,633.67 169.5,634.5 169.75,634.97 170,634.19 170.25,633.79 170.5,632.93 170.75,633 171,633.13 171.25,632.56 171.5,634.22 171.75,633.62 172,635.15 172.25,634.65 172.5,633.95 172.75,635.31 173,634.57 173.25,633.74 173.5,633.97 173.75,633.46 174,633.58 174.25,633.9 174.5,633.66 174.75,633.66 175,633.79 175.25,633.99 175.5,634.86 175.75,633.8 176,633.67 176.25,634.34 176.5,634.1 176.75,633.16 177,633.75 177.25,633.85 177.5,633.43 177.75,634.5 178,634.18 178.25,633.55 178.5,634.74 178.75,634.19 179,633.98 179.25,634.12 179.5,634.54 179.75,634.43 180,633.46 180.25,634.18 180.5,633.88 180.75,633.73 181,633.73 181.25,634.71 181.5,634.01 181.75,635.72 182,633.55 182.25,634.58 182.5,634.73 182.75,633.7 183,634.03 183.25,634.72 183.5,635.23 183.75,633.88 184,633.85 184.25,634.2 184.5,634.47 184.75,633.7 185,634.58 185.25,634.3 185.5,634.01 185.75,633.3 186,634.48 186.25,632.44 186.5,633.3 186.75,632.72 187,633.72 187.25,633.81 187.5,633.73 187.75,633.5 188,634.49 188.25,632.61 188.5,632.93 188.75,634.19 189,634.82 189.25,634.24 189.5,633.15 189.75,632.68 190,634.38 190.25,634.16 190.5,634.04 190.75,633.04 191,632.25 191.25,634.54 191.5,635.22 191.75,634.57 192,634.36 192.25,634.31 192.5,633.86 192.75,633.79 193,634.04 193.25,633.4 193.5,634.24 193.75,633.1 194,633.94 194.25,635.19 194.5,635.03 194.75,633.39 195,634.6 195.25,634.39 195.5,634.66 195.75,634.29 196,633.82 196.25,634.81 196.5,634.75 196.75,633.16 197,634.05 197.25,633.77 197.5,633.29 197.75,634.06 198,633.78 198.25,632.59 198.5,635.35 198.75,634.06 199,633.91 199.25,634.15 199.5,633.38 199.75,633.43 200,635.19 200.25,633.7 200.5,632.84 200.75,634.22 201,634.62 201.25,633.47 201.5,633.58 201.75,634.88 202,634.61 202.25,633.11 202.5,633.68 202.75,633.7 203,633.85 203.25,633.06 203.5,633.84 203.75,633.22 204,634.47 204.25,634.14 204.5,633.29 204.75,633.41 205,632.99 205.25,635.81 205.5,634.98 205.75,635.24 206,629.66 206.25,635.34 206.5,633.75 206.75,633 207,631.05 207.25,636.27 207.5,637.13 207.75,633.92 208,633.61 208.25,632.4 208.5,635.66 208.75,634.06 209,632.49 209.25,636.56 209.5,635 209.75,634.47 210,633.8 210.25,633.32 210.5,632.27 210.75,632.79 211,632.82 211.25,635.68 211.5,631.93 211.75,636.93 212,636.16 212.25,632.53 212.5,632.3 212.75,630.27 213,635.65 213.25,635.31 213.5,637.24 213.75,634.44 214,634.73 214.25,633.17 214.5,631.34 214.75,635.18 215,633.18 215.25,633.71 215.5,632.29 215.75,634.85 216,630.39 216.25,631.24 216.5,636.07 216.75,635.04 217,631.87 217.25,634.31 217.5,634.61 217.75,635.91 218,636.07 218.25,635.88 218.5,632.67 218.75,637.79 219,633.87 219.25,635.21 219.5,635.05 219.75,636.84 220,636.01 220.25,630.33 220.5,630.9 220.75,633.5 221,632.22 221.25,635.77 221.5,636.93 221.75,636.47 222,631.7 222.25,634.83 222.5,635.73 222.75,635.24 223,635.71 223.25,639.29 223.5,635.47 223.75,634.62 224,634.96 224.25,634.4 224.5,632.99 224.75,633.74 225,631.91 225.25,631.69 225.5,633.93 225.75,631.88 226,632.52 226.25,632.34 226.5,631.42 226.75,628.15 227,635.07 227.25,636.5 227.5,634.17 227.75,632.25 228,636.04 228.25,634.47 228.5,630.91 228.75,633.52 229,633.83 229.25,631.87 229.5,634.82 229.75,630.68 230,633.74 230.25,635.17 230.5,629.84 230.75,634.87 231,635.46 231.25,631.91 231.5,631.34 231.75,633.25 232,633.67 232.25,633.24 232.5,633.03 232.75,631.3 233,629.97 233.25,632.12 233.5,635.56 233.75,635.19 234,635.11 234.25,633.19 234.5,632.43 234.75,632.55 235,633.98 235.25,630.75 235.5,634.36 235.75,634.49 236,632.37 236.25,635.45 236.5,635.07 236.75,628.96 237,632.79 237.25,633.34 237.5,628.88 237.75,634.87 238,635.56 238.25,634.65 238.5,633.31 238.75,636.53 239,633.75 239.25,634.2 239.5,634.57" fill="none" stroke="#0f4c8c" stroke-width="1.3" stroke-linejoin="round"/>
<polyline points="55.5,637.76 55.75,635.94 56,637.92 56.25,637.73 56.5,638.66 56.75,638.04 57,637.9 57.25,637.45 57.5,637.76 57.75,637.15 58,637.71 58.25,637.2 58.5,636.46 58.75,637.27 59,636.57 59.25,636.16 59.5,637 59.75,635.8 60,635.05 60.25,633.49 60.5,634.12 60.75,632.94 61,631.06 61.25,631.06 61.5,631.5 61.75,630.67 62,629.49 62.25,629.43 62.5,629.29 62.75,627.44 63,629.42 63.25,629.8 63.5,628.31 63.75,628.67 64,629.21 64.25,628.72 64.5,629.3 64.75,628.64 65,628.48 65.25,628.21 65.5,628.65 65.75,627.88 66,628.02 66.25,629.01 66.5,628.42 66.75,629.24 67,629.18 67.25,629.24 67.5,629.82 67.75,629.23 68,628.92 68.25,629.56 68.5,629.69 68.75,630.83 69,630.7 69.25,629.16 69.5,628.91 69.75,629.4 70,630.71 70.25,629.14 70.5,631.11 70.75,630.36 71,631.44 71.25,630.91 71.5,630.18 71.75,630.63 72,631.12 72.25,631.84 72.5,630.89 72.75,630.72 73,631.26 73.25,630.68 73.5,631.62 73.75,631.57 74,631.97 74.25,630.8 74.5,632.24 74.75,633.46 75,632.52 75.25,631.64 75.5,631.55 75.75,630.58 76,632.04 76.25,633.19 76.5,632.18 76.75,632.11 77,631.84 77.25,631.12 77.5,633.62 77.75,631.76 78,633.16 78.25,632.09 78.5,632.04 78.75,631.52 79,632.26 79.25,632.33 79.5,631.99 79.75,632.2 80,632.17 80.25,631.72 80.5,631.88 80.75,634.27 81,631.53 81.25,632.96 81.5,631.53 81.75,631.87 82,633.24 82.25,631.58 82.5,633.18 82.75,633.7 83,632.56 83.25,633.28 83.5,633.48 83.75,631.3 84,632.49 84.25,632.5 84.5,633.46 84.75,632.51 85,631.94 85.25,631.9 85.5,632.91 85.75,632.93 86,633.21 86.25,632.12 86.5,633.27 86.75,632.85 87,632.25 87.25,632.06 87.5,634.53 87.75,633.41 88,632.75 88.25,633.43 88.5,632.53 88.75,634.26 89,633.48 89.25,631.46 89.5,632.82 89.75,632.92 90,633.2 90.25,632.27 90.5,633.82 90.75,633.25 91,634.19 91.25,633.3 91.5,634.21 91.75,634.29 92,633.26 92.25,633.39 92.5,633.87 92.75,633.53 93,633.15 93.25,634.9 93.5,634.09 93.75,633.59 94,632.39 94.25,632.47 94.5,633.13 94.75,632.45 95,632.24 95.25,633.73 95.5,633.8 95.75,632.88 96,633.3 96.25,634.12 96.5,633.97 96.75,634.64 97,633.21 97.25,633.08 97.5,633.95 97.75,634.7 98,633.27 98.25,633.14 98.5,633.22 98.75,634.21 99,634.28 99.25,632.7 99.5,634.2 99.75,633.99 100,634.38 100.25,633.1 100.5,633.42 100.75,633.84 101,633.86 101.25,632.77 101.5,634.04 101.75,633.93 102,633.34 102.25,633.81 102.5,634.34 102.75,633.53 103,633.59 103.25,632.78 103.5,633.5 103.75,633.03 104,632.83 104.25,634.24 104.5,633.89 104.75,633.79 105,633.71 105.25,634.56 105.5,632.33 105.75,634.71 106,633.25 106.25,632.92 106.5,633.02 106.75,632.96 107,633.5 107.25,634.16 107.5,633.02 107.75,634.19 108,633.25 108.25,633.62 108.5,634.66 108.75,633.38 109,632.82 109.25,633.69 109.5,633.94 109.75,633.37 110,633.36 110.25,634.11 110.5,632.99 110.75,633.56 111,633.09 111.25,634.12 111.5,633.37 111.75,633.94 112,633.67 112.25,633.64 112.5,633.08 112.75,634.62 113,633.33 113.25,633.61 113.5,632.79 113.75,633.77 114,633.12 114.25,632.94 114.5,634.48 114.75,634.3 115,633.96 115.25,633.89 115.5,634.18 115.75,633.74 116,633.92 116.25,633.03 116.5,633.48 116.75,633.64 117,631.88 117.25,632.87 117.5,633.13 117.75,635.25 118,632.6 118.25,632.37 118.5,634.27 118.75,633.02 119,634.12 119.25,633.72 119.5,634.97 119.75,633.75 120,634.4 120.25,633.63 120.5,633.8 120.75,633.77 121,633.73 121.25,634.81 121.5,634.93 121.75,633.78 122,633.6 122.25,633.9 122.5,634.51 122.75,634.3 123,633.82 123.25,632.59 123.5,635.48 123.75,634.85 124,634.13 124.25,634.01 124.5,634.77 124.75,635 125,633.85 125.25,634 125.5,633.64 125.75,635.22 126,633.51 126.25,633.45 126.5,634.56 126.75,634.24 127,633.78 127.25,634.41 127.5,634 127.75,633.76 128,634.05 128.25,634.21 128.5,633.95 128.75,634.14 129,633.91 129.25,634.18 129.5,633.1 129.75,635.05 130,634.55 130.25,634.02 130.5,634.24 130.75,635.14 131,634.16 131.25,632.83 131.5,634.09 131.75,632.3 132,633.66 132.25,634.87 132.5,632.99 132.75,632.63 133,633.54 133.25,634.08 133.5,635.24 133.75,633.6 134,633.75 134.25,632.89 134.5,635.37 134.75,633.67 135,634.14 135.25,634.57 135.5,633.7 135.75,633.14 136,633.45 136.25,633.73 136.5,634.44 136.75,634.57 137,633.42 137.25,633.53 137.5,632.76 137.75,633.82 138,635.42 138.25,634.14 138.5,633.57 138.75,634.94 139,634.14 139.25,634.67 139.5,635.01 139.75,632.87 140,633.85 140.25,633.63 140.5,634.73 140.75,633.73 141,633.91 141.25,632.28 141.5,633.44 141.75,633.35 142,633.05 142.25,633.92 142.5,633.59 142.75,633.95 143,634.49 143.25,634.11 143.5,633.83 143.75,634.05 144,632.97 144.25,633.51 144.5,633.38 144.75,635.24 145,632.86 145.25,633.52 145.5,634.22 145.75,633.43 146,634.3 146.25,632.93 146.5,634.57 146.75,633.96 147,632.16 147.25,632.72 147.5,632.85 147.75,633.6 148,633.54 148.25,634.05 148.5,634.29 148.75,634.25 149,634.16 149.25,633.18 149.5,632.68 149.75,632.88 150,634.09 150.25,633.06 150.5,632.89 150.75,633.13 151,634.11 151.25,632.79 151.5,633.66 151.75,634.35 152,634.44 152.25,632.49 152.5,633.78 152.75,633.37 153,635.69 153.25,633.61 153.5,632.74 153.75,633.32 154,633.79 154.25,633.44 154.5,634.36 154.75,633.5 155,633.84 155.25,636.43 155.5,634.15 155.75,634.45 156,633.83 156.25,631.92 156.5,635.1 156.75,633.45 157,634.34 157.25,632.72 157.5,633.9 157.75,634.64 158,632.97 158.25,635.29 158.5,634.57 158.75,634.11 159,633.6 159.25,634.53 159.5,632.25 159.75,634.78 160,632.29 160.25,633.42 160.5,634.84 160.75,634.07 161,632.36 161.25,632.52 161.5,632.83 161.75,633.4 162,633.16 162.25,634.56 162.5,633.54 162.75,635.17 163,634.86 163.25,632.85 163.5,634.81 163.75,634.84 164,632.92 164.25,633.55 164.5,633.17 164.75,633.03 165,633.77 165.25,634.05 165.5,633.18 165.75,632.56 166,634.31 166.25,634.85 166.5,634.71 166.75,632.7 167,633.42 167.25,633.57 167.5,633.28 167.75,634.65 168,633.11 168.25,633.58 168.5,634.11 168.75,633.87 169,634.02 169.25,633.71 169.5,634.23 169.75,634.07 170,633.86 170.25,634.26 170.5,634.15 170.75,634.37 171,634.2 171.25,634.18 171.5,634.1 171.75,633.15 172,633.45 172.25,633.59 172.5,633.3 172.75,633.45 173,633.3 173.25,633.28 173.5,634.08 173.75,636.18 174,635.34 174.25,633.82 174.5,633.88 174.75,633.62 175,633.64 175.25,634.28 175.5,634.16 175.75,634.05 176,634.55 176.25,633.48 176.5,634.41 176.75,633.96 177,633.06 177.25,634.82 177.5,633.1 177.75,634.46 178,633.27 178.25,633.28 178.5,634.72 178.75,634.15 179,633.82 179.25,633.21 179.5,632.48 179.75,633.44 180,633.7 180.25,634.54 180.5,633.82 180.75,634.62 181,633.4 181.25,634.55 181.5,634.49 181.75,633.64 182,634.49 182.25,635.16 182.5,632.75 182.75,632.79 183,633.3 183.25,633.39 183.5,633.08 183.75,633.95 184,632.75 184.25,635.27 184.5,633.77 184.75,634 185,633.69 185.25,633.39 185.5,633.93 185.75,633.73 186,634.13 186.25,634.43 186.5,633.19 186.75,632.43 187,633.31 187.25,634.03 187.5,632.24 187.75,634.2 188,633.92 188.25,632.79 188.5,634.01 188.75,634.58 189,633.77 189.25,634.23 189.5,634.3 189.75,634.78 190,634.79 190.25,633.25 190.5,633.67 190.75,633.87 191,633.05 191.25,633.94 191.5,634.14 191.75,634.1 192,632.35 192.25,633.34 192.5,631.87 192.75,633.92 193,633.82 193.25,634.48 193.5,634.56 193.75,633.09 194,633.77 194.25,633.98 194.5,634.47 194.75,634.78 195,633.7 195.25,632.68 195.5,634.48 195.75,633.68 196,632.4 196.25,633.99 196.5,633.17 196.75,633.88 197,634.81 197.25,633.8 197.5,633.21 197.75,634.19 198,633.62 198.25,633.94 198.5,634.65 198.75,634.04 199,634.24 199.25,633.81 199.5,633.95 199.75,633.03 200,633.24 200.25,634.68 200.5,634.9 200.75,632.98 201,634.39 201.25,634.57 201.5,633.22 201.75,634.42 202,634.32 202.25,634.83 202.5,635.26 202.75,633.88 203,634.17 203.25,633.15 203.5,634.08 203.75,633.89 204,633.69 204.25,633.98 204.5,634.56 204.75,634.62 205,634.47 205.25,635.32 205.5,632.72 205.75,633.76 206,633.8 206.25,633.56 206.5,633.51 206.75,632.75 207,633.61 207.25,634.86 207.5,633.51 207.75,633.85 208,634.21 208.25,633.87 208.5,633.1 208.75,633.47 209,634.81 209.25,633.33 209.5,632.88 209.75,635.43 210,633.98 210.25,632.99 210.5,632.45 210.75,633.28 211,632.81 211.25,633.77 211.5,634.62 211.75,634.52 212,633.58 212.25,634.41 212.5,633.53 212.75,631.81 213,634.44 213.25,633.23 213.5,633.1 213.75,634.69 214,633.92 214.25,634.59 214.5,634.65 214.75,634.51 215,633.78 215.25,635.57 215.5,633.06 215.75,634.68 216,635.4 216.25,633.75 216.5,633.39 216.75,634.58 217,634.77 217.25,634.36 217.5,633.36 217.75,634.02 218,632.7 218.25,634.78 218.5,634.8 218.75,633.75 219,634.37 219.25,633.66 219.5,633.93 219.75,634.03 220,633.72 220.25,636.3 220.5,633.64 220.75,634.74 221,633.17 221.25,634.13 221.5,633.86 221.75,633.23 222,634.56 222.25,634.55 222.5,634.96 222.75,634.26 223,633.05 223.25,634.58 223.5,634.14 223.75,635.43 224,631.96 224.25,633.78 224.5,633.97 224.75,634.77 225,632.93 225.25,634.84 225.5,634.13 225.75,632.22 226,635.82 226.25,632.15 226.5,633.05 226.75,633.21 227,634.27 227.25,633.53 227.5,633.82 227.75,633.28 228,634.3 228.25,634.6 228.5,635.32 228.75,632.69 229,633.29 229.25,633.41 229.5,633.52 229.75,633.79 230,634.42 230.25,633.39 230.5,633.37 230.75,634.96 231,635.03 231.25,635.46 231.5,635.57 231.75,633.3 232,635 232.25,634.52 232.5,633.83 232.75,634.44 233,633.37 233.25,632.99 233.5,633.69 233.75,632.65 234,633.57 234.25,633.98 234.5,633.07 234.75,633.3 235,632.27 235.25,632.94 235.5,633.84 235.75,633.37 236,634.02 236.25,633.38 236.5,633.48 236.75,632.54 237,635.3 237.25,633.71 237.5,634.64 237.75,633.27 238,632.93 238.25,634.16 238.5,633.54 238.75,633.86 239,634.43 239.25,634.43 239.5,634.56" fill="none" stroke="#c8102e" stroke-width="1.3" stroke-linejoin="round"/>
<text x="85.5" y="611" font-size="7" fill="#0f4c8c" stroke="#0f4c8c" stroke-width="0.12" textLength="18.6" lengthAdjust="spacingAndGlyphs">GRK2</text>
<text x="104.8" y="608.1" font-size="4.6" fill="#0f4c8c" textLength="7" lengthAdjust="spacingAndGlyphs">&#8722;/&#8722;</text>
<text x="122.5" y="628.5" font-size="7.2" fill="#c8102e" textLength="11.3" lengthAdjust="spacingAndGlyphs" stroke="#c8102e" stroke-width="0.12">WT</text>
<line x1="310.6" y1="575.3" x2="310.6" y2="653.5" stroke="#1a1a1a" stroke-width="1.1"/>
<line x1="310.6" y1="637.9" x2="362" y2="637.9" stroke="#1a1a1a" stroke-width="1.1"/>
<line x1="368.1" y1="637.9" x2="510" y2="637.9" stroke="#1a1a1a" stroke-width="1.1"/>
<line x1="360" y1="640.6" x2="365" y2="636.3" stroke="#1a1a1a" stroke-width="1.1"/>
<line x1="364.4" y1="640.6" x2="369.4" y2="636.3" stroke="#1a1a1a" stroke-width="1.1"/>
<line x1="307.3" y1="649.6" x2="310.6" y2="649.6" stroke="#1a1a1a" stroke-width="1.1"/>
<text x="303.8" y="652.1" font-size="6.4" fill="#2b2b2b" stroke="#2b2b2b" stroke-width="0.15" text-anchor="end" textLength="12.15" lengthAdjust="spacingAndGlyphs">&#8722;20</text>
<line x1="307.3" y1="637.9" x2="310.6" y2="637.9" stroke="#1a1a1a" stroke-width="1.1"/>
<text x="303.8" y="640.4" font-size="6.4" fill="#2b2b2b" stroke="#2b2b2b" stroke-width="0.15" text-anchor="end" textLength="4.05" lengthAdjust="spacingAndGlyphs">0</text>
<line x1="307.3" y1="626.2" x2="310.6" y2="626.2" stroke="#1a1a1a" stroke-width="1.1"/>
<text x="303.8" y="628.7" font-size="6.4" fill="#2b2b2b" stroke="#2b2b2b" stroke-width="0.15" text-anchor="end" textLength="8.1" lengthAdjust="spacingAndGlyphs">20</text>
<line x1="307.3" y1="614.5" x2="310.6" y2="614.5" stroke="#1a1a1a" stroke-width="1.1"/>
<text x="303.8" y="617" font-size="6.4" fill="#2b2b2b" stroke="#2b2b2b" stroke-width="0.15" text-anchor="end" textLength="8.1" lengthAdjust="spacingAndGlyphs">40</text>
<line x1="307.3" y1="602.8" x2="310.6" y2="602.8" stroke="#1a1a1a" stroke-width="1.1"/>
<text x="303.8" y="605.3" font-size="6.4" fill="#2b2b2b" stroke="#2b2b2b" stroke-width="0.15" text-anchor="end" textLength="8.1" lengthAdjust="spacingAndGlyphs">60</text>
<line x1="307.3" y1="591.1" x2="310.6" y2="591.1" stroke="#1a1a1a" stroke-width="1.1"/>
<text x="303.8" y="593.6" font-size="6.4" fill="#2b2b2b" stroke="#2b2b2b" stroke-width="0.15" text-anchor="end" textLength="8.1" lengthAdjust="spacingAndGlyphs">80</text>
<line x1="307.3" y1="579.4" x2="310.6" y2="579.4" stroke="#1a1a1a" stroke-width="1.1"/>
<text x="303.8" y="581.9" font-size="6.4" fill="#2b2b2b" stroke="#2b2b2b" stroke-width="0.15" text-anchor="end" textLength="12.15" lengthAdjust="spacingAndGlyphs">100</text>
<line x1="345" y1="637.9" x2="345" y2="641.1" stroke="#1a1a1a" stroke-width="1.1"/>
<text x="345" y="649.2" font-size="6.4" fill="#2b2b2b" stroke="#2b2b2b" stroke-width="0.15" text-anchor="middle" textLength="12.15" lengthAdjust="spacingAndGlyphs">600</text>
<line x1="392.3" y1="637.9" x2="392.3" y2="641.1" stroke="#1a1a1a" stroke-width="1.1"/>
<text x="392.3" y="649.2" font-size="6.4" fill="#2b2b2b" stroke="#2b2b2b" stroke-width="0.15" text-anchor="middle" textLength="16.2" lengthAdjust="spacingAndGlyphs">3000</text>
<line x1="429.9" y1="637.9" x2="429.9" y2="641.1" stroke="#1a1a1a" stroke-width="1.1"/>
<text x="429.9" y="649.2" font-size="6.4" fill="#2b2b2b" stroke="#2b2b2b" stroke-width="0.15" text-anchor="middle" textLength="16.2" lengthAdjust="spacingAndGlyphs">3600</text>
<line x1="467" y1="637.9" x2="467" y2="641.1" stroke="#1a1a1a" stroke-width="1.1"/>
<text x="467" y="649.2" font-size="6.4" fill="#2b2b2b" stroke="#2b2b2b" stroke-width="0.15" text-anchor="middle" textLength="16.2" lengthAdjust="spacingAndGlyphs">4200</text>
<line x1="504.8" y1="637.9" x2="504.8" y2="641.1" stroke="#1a1a1a" stroke-width="1.1"/>
<text x="504.8" y="649.2" font-size="6.4" fill="#2b2b2b" stroke="#2b2b2b" stroke-width="0.15" text-anchor="middle" textLength="16.2" lengthAdjust="spacingAndGlyphs">4800</text>
<text x="288.3" y="613.3" font-size="7.7" fill="#2b2b2b" text-anchor="middle" textLength="57.5" lengthAdjust="spacingAndGlyphs" transform="rotate(-90 288.3 613.3)" stroke="#2b2b2b" stroke-width="0.25">Light transmission (%)</text>
<text x="410.8" y="661" font-size="7.6" fill="#2b2b2b" text-anchor="middle" textLength="19.5" lengthAdjust="spacingAndGlyphs" stroke="#2b2b2b" stroke-width="0.25">Time(s)</text>
<text x="282.9" y="572.2" font-size="8.8" fill="#000" textLength="5" lengthAdjust="spacingAndGlyphs" font-weight="bold" stroke="#000" stroke-width="0.3">ii</text>
<polyline points="310.8,638.25 311.05,637.01 311.3,639.05 311.55,640.18 311.8,639.87 312.05,640.77 312.3,639.28 312.55,636.6 312.8,632.58 313.05,626.94 313.3,622.58 313.56,620.69 313.81,618.19 314.06,615.82 314.31,613.39 314.56,611.43 314.81,609.28 315.06,609.24 315.31,608.38 315.56,608.16 315.81,606.81 316.06,607.56 316.31,605.06 316.56,606.29 316.81,603.89 317.06,605.75 317.31,605.04 317.56,602.69 317.81,604.09 318.06,602.15 318.31,604.99 318.57,603.89 318.82,602.59 319.07,602.6 319.32,601.93 319.57,601.21 319.82,600.32 320.07,601.21 320.32,602.3 320.57,601.51 320.82,602.32 321.07,602.11 321.32,601.58 321.57,600 321.82,599.89 322.07,600.44 322.32,598.52 322.57,599.13 322.82,600.78 323.07,602.06 323.32,603.06 323.57,601.16 323.83,602.17 324.08,601.71 324.33,600.68 324.58,602.67 324.83,601.91 325.08,602.74 325.33,600.48 325.58,602.22 325.83,603.83 326.08,602.97 326.33,603.55 326.58,604.74 326.83,605.69 327.08,605.91 327.33,605.09 327.58,604.77 327.83,606.58 328.08,605.37 328.33,605.19 328.58,605.92 328.84,607.01 329.09,606.69 329.34,606.95 329.59,608.95 329.84,607.33 330.09,607.59 330.34,609.11 330.59,609.96 330.84,609.24 331.09,609.15 331.34,612.65 331.59,610.33 331.84,613.53 332.09,610.71 332.34,612.95 332.59,611.04 332.84,614.14 333.09,613.62 333.34,613.89 333.59,613.62 333.85,616.1 334.1,616.35 334.35,615.72 334.6,616.35 334.85,616.07 335.1,617.75 335.35,617.41 335.6,618.65 335.85,616.93 336.1,619.57 336.35,620.63 336.6,620.38 336.85,622.21 337.1,620.63 337.35,622.92 337.6,622.52 337.85,623.04 338.1,623.89 338.35,625.26 338.6,623.02 338.85,625.18 339.11,625.56 339.36,626.91 339.61,626.73 339.86,626.87 340.11,627.92 340.36,628.85 340.61,627.86 340.86,628.98 341.11,629.05 341.36,629.03 341.61,629.87 341.86,631.96 342.11,630.17 342.36,631.46 342.61,631.74 342.86,632.7 343.11,631.64 343.36,631.09 343.61,632.88 343.86,630.7 344.12,632.76 344.37,633.54 344.62,633.34 344.87,633.05 345.12,632.9 345.37,632.82 345.62,634.12 345.87,632.09 346.12,632.56 346.37,633.21 346.62,633.51 346.87,634.19 347.12,633.54 347.37,633.89 347.62,633.38 347.87,634.85 348.12,634.67 348.37,632.53 348.62,634.97 348.87,634.39 349.12,634.2 349.38,634.94 349.63,634.62 349.88,634.44 350.13,634.66 350.38,632.7 350.63,634.66 350.88,634.45 351.13,633.33 351.38,633.82 351.63,634.81 351.88,633.91 352.13,633.41 352.38,634.11 352.63,633.8 352.88,634.44 353.13,635.41 353.38,636.25 353.63,634.33 353.88,634.81 354.13,633.42 354.39,635.02 354.64,634.82 354.89,633.78 355.14,635.02 355.39,633.8 355.64,634.5 355.89,634.65 356.14,634.45 356.39,634.71 356.64,634.81 356.89,633.85 357.14,634.59 357.39,635.11 357.64,635.35 357.89,633.61 358.14,634.02 358.39,634.01 358.64,633.18 358.89,634.87 359.14,636.26 359.4,633.86 359.65,634.13 359.9,634.06 360.15,634.37 360.4,633.63 360.65,636.34 360.9,633.46 361.15,635.13 361.4,635.46 361.65,634.62 361.9,635.95" fill="none" stroke="#0f4c8c" stroke-width="1.3" stroke-linejoin="round"/>
<polyline points="310.8,637.29 311.05,636.87 311.3,639.07 311.55,639.34 311.8,638.42 312.05,636.96 312.3,633.67 312.55,630.35 312.8,626.83 313.05,624.17 313.3,622.44 313.56,622.24 313.81,620.37 314.06,618.92 314.31,619.62 314.56,618.45 314.81,617.77 315.06,618.36 315.31,616.71 315.56,616.71 315.81,618.04 316.06,616.54 316.31,616.98 316.56,617.51 316.81,616.37 317.06,617.33 317.31,618.07 317.56,618.15 317.81,618.63 318.06,619.51 318.31,619.54 318.57,619.18 318.82,618.81 319.07,619.96 319.32,619.48 319.57,619.21 319.82,619.75 320.07,620.91 320.32,621.21 320.57,621.28 320.82,622.54 321.07,622.22 321.32,622.22 321.57,622.96 321.82,623.28 322.07,623.98 322.32,623.94 322.57,624.82 322.82,624.39 323.07,624.9 323.32,625.63 323.57,625.2 323.83,626.09 324.08,626.42 324.33,627.22 324.58,625.57 324.83,628.02 325.08,627.38 325.33,627.85 325.58,628.84 325.83,628.52 326.08,627.62 326.33,628.46 326.58,629.28 326.83,628.89 327.08,629.48 327.33,629.98 327.58,630.84 327.83,629.49 328.08,629.15 328.33,629.86 328.58,630.22 328.84,631.21 329.09,630.88 329.34,631.54 329.59,630.98 329.84,630.13 330.09,631.23 330.34,630.66 330.59,631.31 330.84,630.22 331.09,631.72 331.34,630.7 331.59,631.13 331.84,631.97 332.09,631.37 332.34,631.03 332.59,632.55 332.84,631.51 333.09,632.38 333.34,631.78 333.59,630.79 333.85,631.83 334.1,632.23 334.35,631.93 334.6,633.1 334.85,631.05 335.1,631.67 335.35,632.55 335.6,632.91 335.85,632.76 336.1,631.67 336.35,632.51 336.6,632.66 336.85,633.5 337.1,633.78 337.35,632.75 337.6,632.88 337.85,632.98 338.1,632.48 338.35,632.76 338.6,632.86 338.85,632.73 339.11,633.12 339.36,632.72 339.61,632.38 339.86,633.51 340.11,633.43 340.36,632.38 340.61,633.28 340.86,632.36 341.11,633.17 341.36,632.53 341.61,632.63 341.86,633.33 342.11,632.49 342.36,633.62 342.61,634.21 342.86,632.99 343.11,632.66 343.36,633.42 343.61,633.02 343.86,632.18 344.12,634.63 344.37,632.86 344.62,634.43 344.87,633.79 345.12,633.66 345.37,633.48 345.62,632.99 345.87,633.64 346.12,632.82 346.37,633.49 346.62,632.64 346.87,633.26 347.12,631.28 347.37,632.88 347.62,633.51 347.87,633.32 348.12,633.48 348.37,633.63 348.62,634.47 348.87,632.93 349.12,630.78 349.38,633.65 349.63,633.44 349.88,633.31 350.13,633.81 350.38,634.41 350.63,633.53 350.88,632.68 351.13,633.85 351.38,632.85 351.63,632.27 351.88,632.59 352.13,633.35 352.38,632.38 352.63,633.09 352.88,633.69 353.13,631.74 353.38,634.24 353.63,634.81 353.88,633.27 354.13,633.32 354.39,633.22 354.64,631.25 354.89,633.54 355.14,632.31 355.39,633.3 355.64,632.64 355.89,632.79 356.14,632.89 356.39,632.68 356.64,631.82 356.89,634.3 357.14,632.64 357.39,634.11 357.64,634 357.89,633.24 358.14,633.5 358.39,633.51 358.64,633.85 358.89,633.78 359.14,633.28 359.4,633.46 359.65,634.26 359.9,632.9 360.15,632.25 360.4,631.96 360.65,633.24 360.9,634.24 361.15,635.09 361.4,633.09 361.65,633.66 361.9,632.9" fill="none" stroke="#c8102e" stroke-width="1.3" stroke-linejoin="round"/>
<polyline points="367.5,632.65 367.75,632.35 368,633.39 368.25,633.24 368.5,632.86 368.75,632.48 369,633.23 369.25,632.15 369.5,633.57 369.75,633.7 370,633.07 370.25,633.85 370.5,631.59 370.75,632.64 371,632.38 371.25,631.42 371.5,632.39 371.75,631.9 372,632.45 372.25,632.12 372.5,632.62 372.75,631.67 373,631.95 373.25,632.79 373.5,633.14 373.75,632.11 374,630.35 374.25,632.78 374.5,632.53 374.75,630.99 375,630.16 375.25,630.54 375.5,630.51 375.75,633.53 376,631.55 376.25,631.82 376.5,632.6 376.75,633.24 377,632.08 377.25,631.89 377.5,632.53 377.75,632.14 378,630.28 378.25,628.64 378.5,627.25 378.75,627.95 379,625.03 379.25,623.6 379.5,620.05 379.75,618.69 380,618.43 380.25,616.05 380.5,616.19 380.75,614.4 381,613.05 381.26,613.56 381.51,612.26 381.76,611.45 382.01,612.76 382.26,610.03 382.51,609.44 382.76,610.17 383.01,609.71 383.26,607.48 383.51,608.63 383.76,608.38 384.01,607.47 384.26,608.45 384.51,605.79 384.76,608.38 385.01,608.87 385.26,610.07 385.51,605.97 385.76,608.34 386.01,606.18 386.26,605.11 386.51,606.8 386.76,605.76 387.01,605.87 387.26,605.46 387.51,606.9 387.76,606.02 388.01,606.66 388.26,606.46 388.51,606.79 388.76,606.44 389.01,604.92 389.26,607.49 389.51,606.22 389.76,606.94 390.01,607.15 390.26,607.27 390.51,606.3 390.76,606.54 391.01,606.19 391.26,607.18 391.51,608.69 391.76,606.7 392.01,608.42 392.26,610.56 392.51,606.47 392.76,608.65 393.01,609.14 393.26,608.59 393.51,608.3 393.76,610.22 394.01,609.23 394.26,609.89 394.51,608.21 394.76,611.56 395.01,612.7 395.26,609.89 395.51,611 395.76,609.91 396.01,612.47 396.26,611.6 396.51,611.5 396.76,611.26 397.01,610.24 397.26,612.07 397.51,612.42 397.76,609.67 398.01,612.46 398.26,610.01 398.51,614.78 398.76,613.06 399.01,613.73 399.26,612.23 399.51,615.93 399.76,614.16 400.01,613.95 400.26,613.76 400.51,612.98 400.76,613.8 401.01,614 401.26,612.99 401.51,616.26 401.76,612.8 402.01,615.64 402.26,616.96 402.51,615.73 402.76,616.04 403.01,615.13 403.26,614.46 403.51,618.42 403.76,614.2 404.01,616.92 404.26,614.99 404.51,617.4 404.76,617.69 405.01,618.55 405.26,617.11 405.51,617.22 405.76,616.85 406.01,617.42 406.26,617.4 406.51,618.72 406.76,617.43 407.01,617.52 407.26,621.03 407.51,616.38 407.76,618.28 408.01,621.64 408.26,616.53 408.52,620.39 408.77,618.81 409.02,620.08 409.27,619.66 409.52,616.8 409.77,620.22 410.02,618.58 410.27,617.08 410.52,619.91 410.77,617.94 411.02,619.2 411.27,619.97 411.52,617.6 411.77,620.86 412.02,620.92 412.27,620.13 412.52,621.33 412.77,620.03 413.02,622.34 413.27,619.73 413.52,620.69 413.77,621.46 414.02,621.23 414.27,618.52 414.52,620.3 414.77,622.41 415.02,620.18 415.27,618.93 415.52,621.68 415.77,619.8 416.02,623 416.27,620.43 416.52,618.03 416.77,619.76 417.02,620.05 417.27,620.67 417.52,622.14 417.77,621.9 418.02,623.16 418.27,620.83 418.52,621.37 418.77,622.65 419.02,622.9 419.27,623.47 419.52,620.29 419.77,622.73 420.02,623.14 420.27,623.33 420.52,622.24 420.77,623.07 421.02,620.38 421.27,621.43 421.52,624.5 421.77,621.75 422.02,623.48 422.27,626.16 422.52,620.86 422.77,621.78 423.02,623.45 423.27,623.73 423.52,623.58 423.77,623.66 424.02,621.79 424.27,623.12 424.52,625.01 424.77,622.16 425.02,623.45 425.27,623.76 425.52,625.13 425.77,622.97 426.02,625.86 426.27,624.45 426.52,624.48 426.77,623.84 427.02,623.3 427.27,622.59 427.52,625.41 427.77,624.37 428.02,625.63 428.27,625.58 428.52,623.33 428.77,624.79 429.02,623.72 429.27,622.05 429.52,626.11 429.77,624.89 430.02,624.91 430.27,626.53 430.52,623.21 430.77,626.5 431.02,624.17 431.27,625.41 431.52,625.04 431.77,623.78 432.02,622.94 432.27,626.51 432.52,624.45 432.77,625.63 433.02,624.44 433.27,625.46 433.52,624.89 433.77,625.08 434.02,626.4 434.27,627.6 434.52,623.86 434.77,624.47 435.02,625.87 435.27,624.86 435.52,625.27 435.78,626.52 436.03,625.44 436.28,623.99 436.53,626.74 436.78,625.76 437.03,626.2 437.28,625.8 437.53,622.95 437.78,627.41 438.03,624.59 438.28,627.34 438.53,623.96 438.78,625.87 439.03,626.18 439.28,624.95 439.53,626.47 439.78,626.63 440.03,625.11 440.28,626.83 440.53,626.07 440.78,626.9 441.03,624.85 441.28,625.15 441.53,625.38 441.78,625.36 442.03,625.54 442.28,626.91 442.53,626.67 442.78,625.1 443.03,625.91 443.28,626.91 443.53,625.11 443.78,625.75 444.03,625.62 444.28,624.92 444.53,624.82 444.78,625.23 445.03,627.32 445.28,625.83 445.53,626.94 445.78,625.62 446.03,624.28 446.28,625.68 446.53,627.71 446.78,626.63 447.03,625.76 447.28,626.97 447.53,626.53 447.78,625.82 448.03,625.71 448.28,627.04 448.53,626.01 448.78,624.4 449.03,627.11 449.28,624.9 449.53,624.13 449.78,624.71 450.03,623.59 450.28,628.58 450.53,626.38 450.78,628.28 451.03,627.3 451.28,626.39 451.53,624.6 451.78,627.68 452.03,626.59 452.28,626.73 452.53,624.92 452.78,628.91 453.03,625.73 453.28,627.49 453.53,627.02 453.78,629.53 454.03,629.48 454.28,627.79 454.53,626.73 454.78,628.8 455.03,628.45 455.28,624.79 455.53,627.28 455.78,626.27 456.03,629.16 456.28,629.59 456.53,626.11 456.78,626.8 457.03,626.07 457.28,628.17 457.53,628.71 457.78,625.19 458.03,625.05 458.28,628.37 458.53,627.81 458.78,626.29 459.03,628.1 459.28,629.18 459.53,629.78 459.78,628.36 460.03,626.63 460.28,628.82 460.53,628.34 460.78,626.8 461.03,629.81 461.28,629.7 461.53,630.9 461.78,627.79 462.03,627.12 462.28,627.33 462.53,627.78 462.78,626.39 463.04,625.58 463.29,630.24 463.54,628.79 463.79,628.32 464.04,629.18 464.29,626.84 464.54,627.22 464.79,627.42 465.04,629.8 465.29,627.54 465.54,628.12 465.79,627.08 466.04,628.39 466.29,628.61 466.54,627.76 466.79,627.16 467.04,630.59 467.29,626.36 467.54,626.67 467.79,628.84 468.04,626.25 468.29,626.31 468.54,628.45 468.79,629.16 469.04,631.22 469.29,630.69 469.54,628.51 469.79,630.68 470.04,625.98 470.29,627.58 470.54,625.55 470.79,629.94 471.04,626.96 471.29,628.15 471.54,627.27 471.79,628.19 472.04,627.37 472.29,628.91 472.54,629.45 472.79,627.34 473.04,627.82 473.29,627.49 473.54,626.68 473.79,630.34 474.04,624.92 474.29,625.15 474.54,625.36 474.79,629.78 475.04,628.84 475.29,629.54 475.54,626.18 475.79,627.72 476.04,631.08 476.29,625.96 476.54,624.85 476.79,625.81 477.04,627.5 477.29,629.28 477.54,629.26 477.79,627.74 478.04,628.51 478.29,627.89 478.54,627.38 478.79,630.08 479.04,628.18 479.29,627.75 479.54,628.08 479.79,628.31 480.04,628.77 480.29,629.72 480.54,628.08 480.79,628.79 481.04,627.63 481.29,627.26 481.54,631.09 481.79,627.48 482.04,630.83 482.29,625.88 482.54,630.82 482.79,626.43 483.04,628.06 483.29,628.29 483.54,628.21 483.79,628.18 484.04,627.09 484.29,629.44 484.54,627.75 484.79,626.6 485.04,629.52 485.29,628.97 485.54,627.22 485.79,626.24 486.04,629.8 486.29,628.44 486.54,628 486.79,627.24 487.04,626.51 487.29,630.41 487.54,628.93 487.79,627.15 488.04,629.25 488.29,628.76 488.54,628.56 488.79,625.65 489.04,629.15 489.29,629.39 489.54,626.66 489.79,629.16 490.04,628.02 490.3,628.69 490.55,626.77 490.8,629.58 491.05,628.41 491.3,628.27 491.55,628.88 491.8,626.8 492.05,629.14 492.3,631.1 492.55,629.45 492.8,628.42 493.05,627.06 493.3,628.79 493.55,628.4 493.8,628.01 494.05,627.68 494.3,628.33 494.55,629.51 494.8,628.62 495.05,629.09 495.3,628.94 495.55,624.68 495.8,632.3 496.05,629.68 496.3,628.34 496.55,628.57 496.8,630.09 497.05,629.45 497.3,630.97 497.55,626.31 497.8,628.82 498.05,627.51 498.3,629 498.55,629.15 498.8,629.28 499.05,627.15 499.3,629.75 499.55,630.21 499.8,628.93 500.05,628.87 500.3,631.03 500.55,630.19 500.8,627.96 501.05,630.55 501.3,629.44 501.55,627.23 501.8,627.74 502.05,625.83 502.3,627.47 502.55,628.78 502.8,630.2 503.05,628.66 503.3,628.09 503.55,628.31 503.8,627.78" fill="none" stroke="#0f4c8c" stroke-width="1.3" stroke-linejoin="round"/>
<polyline points="367.5,634.11 367.75,635.76 368,634.51 368.25,633.61 368.5,634.37 368.75,633.92 369,633.62 369.25,633.79 369.5,635.79 369.75,633.77 370,633.83 370.25,634.32 370.5,635.26 370.75,636.08 371,634.89 371.25,634.78 371.5,634.17 371.75,634.3 372,635.49 372.25,633.92 372.5,634.93 372.75,633.74 373,634.35 373.25,634.31 373.5,635.1 373.75,633.04 374,633.26 374.25,634.44 374.5,634.53 374.75,635.03 375,633.34 375.25,635.19 375.5,634.88 375.75,634.28 376,635.5 376.25,634.01 376.5,635.27 376.75,635.47 377,634.35 377.25,634.6 377.5,633.91 377.75,634.07 378,633.75 378.25,632.51 378.5,632.31 378.75,632.08 379,630.3 379.25,630.79 379.5,630.3 379.75,630.83 380,629.47 380.25,628.3 380.5,628.03 380.75,628.34 381,627.02 381.26,628.16 381.51,627.15 381.76,628.6 382.01,628.8 382.26,627.62 382.51,629.16 382.76,629.44 383.01,628.19 383.26,629.19 383.51,629.68 383.76,630.76 384.01,629.74 384.26,631.4 384.51,631.54 384.76,630.85 385.01,630.95 385.26,631.59 385.51,631.97 385.76,632.27 386.01,630.96 386.26,631.82 386.51,631.2 386.76,633.39 387.01,633.25 387.26,632.51 387.51,633.23 387.76,631.96 388.01,632.88 388.26,633.36 388.51,631.8 388.76,633.19 389.01,632.29 389.26,634.06 389.51,633.29 389.76,633.18 390.01,632.69 390.26,634.35 390.51,633.66 390.76,633.13 391.01,633.13 391.26,632.96 391.51,634.53 391.76,633.27 392.01,635.01 392.26,633.34 392.51,632.91 392.76,633.46 393.01,633.56 393.26,634.27 393.51,635.62 393.76,635.16 394.01,634.22 394.26,632.62 394.51,634.95 394.76,635.21 395.01,632.57 395.26,633.58 395.51,634.09 395.76,635.5 396.01,634.56 396.26,633.94 396.51,631.97 396.76,634.64 397.01,632.83 397.26,633.38 397.51,632.69 397.76,634.31 398.01,635.46 398.26,634.07 398.51,634.61 398.76,633.35 399.01,632.91 399.26,634.17 399.51,632.54 399.76,633.25 400.01,634.02 400.26,633.15 400.51,634.35 400.76,635.82 401.01,634.68 401.26,635.12 401.51,633.33 401.76,633.85 402.01,633.98 402.26,634.45 402.51,633.1 402.76,633.47 403.01,634.88 403.26,634.58 403.51,635.5 403.76,635.4 404.01,634.39 404.26,633.53 404.51,633.51 404.76,633.29 405.01,634.79 405.26,634.91 405.51,635.28 405.76,633.67 406.01,635.11 406.26,633.63 406.51,634.1 406.76,633.61 407.01,634.45 407.26,634.24 407.51,634.14 407.76,632.25 408.01,634.44 408.26,634.87 408.52,634.87 408.77,633.08 409.02,632.38 409.27,635.19 409.52,634.1 409.77,633.78 410.02,633.19 410.27,633.51 410.52,633.15 410.77,633.49 411.02,634.47 411.27,632.65 411.52,635.53 411.77,635.17 412.02,632.62 412.27,634.28 412.52,634.25 412.77,634.87 413.02,631.46 413.27,635.19 413.52,635.36 413.77,633.63 414.02,633.76 414.27,634.91 414.52,634.4 414.77,635.61 415.02,633.1 415.27,633.05 415.52,633.96 415.77,634.19 416.02,633.69 416.27,634.66 416.52,633.55 416.77,634.61 417.02,633.15 417.27,635.53 417.52,634.87 417.77,634.3 418.02,633.44 418.27,633.86 418.52,633.34 418.77,632.94 419.02,633.3 419.27,635.17 419.52,633.84 419.77,635 420.02,634.29 420.27,633.76 420.52,633.16 420.77,633.86 421.02,634.19 421.27,633.52 421.52,633.55 421.77,633.24 422.02,635.36 422.27,632.85 422.52,634.58 422.77,633.16 423.02,633.84 423.27,635.74 423.52,633.51 423.77,634.56 424.02,633.21 424.27,635.73 424.52,635.29 424.77,635.5 425.02,633.52 425.27,632.83 425.52,633.1 425.77,632.88 426.02,635.2 426.27,634.43 426.52,634 426.77,633.48 427.02,634.56 427.27,633.96 427.52,633.72 427.77,634.42 428.02,633.27 428.27,632.92 428.52,635.13 428.77,635.76 429.02,632.49 429.27,634.68 429.52,632.86 429.77,633.68 430.02,633.86 430.27,635.04 430.52,632.68 430.77,635.5 431.02,634.19 431.27,635.69 431.52,633.44 431.77,632.29 432.02,634.88 432.27,633.27 432.52,636.41 432.77,634.54 433.02,635.13 433.27,633.28 433.52,634.09 433.77,634.41 434.02,632.56 434.27,632.99 434.52,634.36 434.77,634.68 435.02,633.77 435.27,636 435.52,635.5 435.78,632.49 436.03,633.65 436.28,633.18 436.53,633.21 436.78,633.78 437.03,632.43 437.28,634.53 437.53,635.35 437.78,635.45 438.03,632.67 438.28,634.47 438.53,634.67 438.78,633.83 439.03,635.8 439.28,634.84 439.53,635.4 439.78,634.34 440.03,634.8 440.28,634.95 440.53,633.31 440.78,632.69 441.03,634.26 441.28,633.33 441.53,635.08 441.78,633.26 442.03,634.66 442.28,633.06 442.53,636.04 442.78,634.46 443.03,633.12 443.28,634.24 443.53,634.34 443.78,631.98 444.03,633.18 444.28,634.55 444.53,633.43 444.78,633.91 445.03,635.56 445.28,635.37 445.53,634.38 445.78,634.65 446.03,635.72 446.28,634.6 446.53,632.84 446.78,634.45 447.03,633.07 447.28,633.52 447.53,634.27 447.78,634.2 448.03,634.14 448.28,634.96 448.53,634 448.78,634.46 449.03,634.91 449.28,633.8 449.53,633.99 449.78,633.98 450.03,633.16 450.28,633.49 450.53,634.65 450.78,634.35 451.03,632.87 451.28,634.93 451.53,634.92 451.78,635.13 452.03,635.39 452.28,634.38 452.53,634.79 452.78,634.09 453.03,633.28 453.28,634.18 453.53,634.66 453.78,634.51 454.03,633.65 454.28,633.61 454.53,633.66 454.78,633.89 455.03,633.96 455.28,634.76 455.53,634.13 455.78,632.22 456.03,634.94 456.28,633.84 456.53,636.09 456.78,635.99 457.03,635.19 457.28,634.07 457.53,634.18 457.78,632.93 458.03,635.62 458.28,633.84 458.53,635.21 458.78,634.64 459.03,636.05 459.28,634.47 459.53,634.29 459.78,633.82 460.03,632.68 460.28,634.71 460.53,633.59 460.78,635.23 461.03,635.42 461.28,634.56 461.53,636.45 461.78,634.66 462.03,635.07 462.28,633.6 462.53,634.93 462.78,634.23 463.04,635.66 463.29,634.25 463.54,632.19 463.79,635.16 464.04,635.38 464.29,633.16 464.54,634.26 464.79,634.68 465.04,635.05 465.29,633.42 465.54,633.52 465.79,633.84 466.04,633.82 466.29,633.74 466.54,634.48 466.79,633 467.04,634.67 467.29,633.39 467.54,633.77 467.79,633.69 468.04,635.06 468.29,634.47 468.54,633.78 468.79,634.66 469.04,633.31 469.29,634.53 469.54,634.47 469.79,634.36 470.04,633.05 470.29,634.66 470.54,634.84 470.79,634.68 471.04,633.85 471.29,635.29 471.54,636.06 471.79,635.48 472.04,634.58 472.29,635.93 472.54,633.57 472.79,632.66 473.04,633.47 473.29,633.68 473.54,633.7 473.79,634.19 474.04,634.61 474.29,634.03 474.54,633.32 474.79,634.02 475.04,634.77 475.29,633.38 475.54,632.9 475.79,633.89 476.04,633.97 476.29,637.52 476.54,634.58 476.79,633.75 477.04,633.99 477.29,633.72 477.54,635.03 477.79,636.44 478.04,634.75 478.29,633.79 478.54,634.52 478.79,636.91 479.04,633.44 479.29,633.72 479.54,633.84 479.79,633.92 480.04,632.03 480.29,633.33 480.54,634.03 480.79,635.09 481.04,633.33 481.29,633.24 481.54,634 481.79,633.04 482.04,632.44 482.29,634.37 482.54,634.66 482.79,633.92 483.04,634.75 483.29,634.85 483.54,635.1 483.79,634.11 484.04,634.84 484.29,633.79 484.54,634.52 484.79,635.18 485.04,636.03 485.29,634.77 485.54,633.86 485.79,633.82 486.04,633.19 486.29,635.12 486.54,635.56 486.79,633.62 487.04,633.9 487.29,634.2 487.54,632.87 487.79,633.15 488.04,634.87 488.29,633.7 488.54,634.92 488.79,634.73 489.04,635.73 489.29,633.7 489.54,635.76 489.79,633.94 490.04,634.38 490.3,635.64 490.55,633.85 490.8,633.24 491.05,635.05 491.3,634.05 491.55,632.79 491.8,635.66 492.05,633.67 492.3,635.15 492.55,634.28 492.8,633.59 493.05,634.46 493.3,633.01 493.55,635.48 493.8,633.38 494.05,634.41 494.3,636.79 494.55,634.12 494.8,634.37 495.05,633.02 495.3,635.93 495.55,634.6 495.8,634.6 496.05,632.9 496.3,633.98 496.55,634.21 496.8,633.94 497.05,633.7 497.3,632.17 497.55,633.27 497.8,636.54 498.05,634.73 498.3,635.23 498.55,633.13 498.8,635.66 499.05,633.85 499.3,634.03 499.55,634.55 499.8,634.25 500.05,635.03 500.3,633.31 500.55,634.48 500.8,633.2 501.05,636.76 501.3,632.83 501.55,635.78 501.8,635.63 502.05,634.14 502.3,634.23 502.55,634.23 502.8,634.88 503.05,634.96 503.3,634.86 503.55,635.17 503.8,634.74" fill="none" stroke="#c8102e" stroke-width="1.3" stroke-linejoin="round"/>
<text x="407" y="614.5" font-size="7" fill="#0f4c8c" stroke="#0f4c8c" stroke-width="0.12" textLength="18.6" lengthAdjust="spacingAndGlyphs">GRK2</text>
<text x="426.3" y="611.6" font-size="4.6" fill="#0f4c8c" textLength="7" lengthAdjust="spacingAndGlyphs">&#8722;/&#8722;</text>
<text x="387" y="628.5" font-size="7.2" fill="#c8102e" textLength="11" lengthAdjust="spacingAndGlyphs" stroke="#c8102e" stroke-width="0.12">WT</text>
<line x1="315.6" y1="650" x2="315.6" y2="661.6" stroke="#1a1a1a" stroke-width="1.15"/>
<path d="M313.4,651.4 L315.6,647.2 L317.8,651.4 Z" fill="#1a1a1a"/>
<line x1="376.2" y1="650" x2="376.2" y2="661.6" stroke="#1a1a1a" stroke-width="1.15"/>
<path d="M374,651.4 L376.2,647.2 L378.4,651.4 Z" fill="#1a1a1a"/>
<text x="298.3" y="671.1" font-size="7.9" fill="#1a1a1a" textLength="34.8" lengthAdjust="spacingAndGlyphs" stroke="#1a1a1a" stroke-width="0.1">ADP (5&#956;M)</text>
<text x="358.9" y="671.1" font-size="7.9" fill="#1a1a1a" textLength="34.4" lengthAdjust="spacingAndGlyphs" stroke="#1a1a1a" stroke-width="0.1">ADP (5&#956;M)</text>
<text x="6.6" y="14.6" font-size="10.2" fill="#000" font-weight="bold" stroke="#000" stroke-width="0.35">A</text>
<text x="6.9" y="258.7" font-size="10" fill="#000" font-weight="bold" stroke="#000" stroke-width="0.35">B</text>
<text x="6.1" y="572.4" font-size="10.4" fill="#000" font-weight="bold" stroke="#000" stroke-width="0.35">C</text>
<text x="28" y="572.1" font-size="8.3" fill="#000" font-weight="bold" stroke="#000" stroke-width="0.3">i</text>
<rect x="0.6" y="0.6" width="518.8" height="676.8" fill="none" stroke="#000" stroke-width="1.3"/>
</svg></body></html>
